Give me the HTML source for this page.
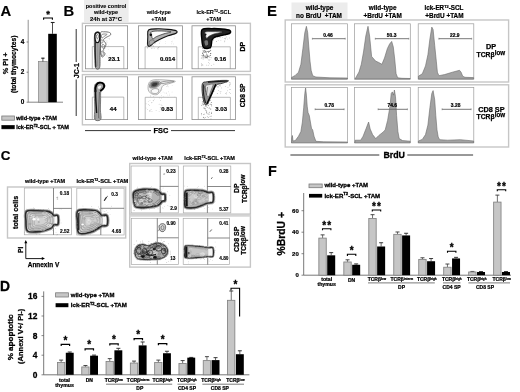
<!DOCTYPE html>
<html><head><meta charset="utf-8"><title>Figure</title>
<style>
html,body{margin:0;padding:0;background:#fff;width:520px;height:392px;overflow:hidden;}
svg{display:block;font-family:"Liberation Sans", Arial, sans-serif;}
text{stroke:#000;stroke-width:0.3px;}
</style></head>
<body>
<svg width="520" height="392" viewBox="0 0 520 392">
<rect x="0" y="0" width="520" height="392" fill="#fff"/>
<text x="0.6" y="15.6" font-size="14.8" text-anchor="start" font-weight="bold" fill="#000" style="stroke-width:0.15px">A</text>
<text x="63.6" y="15.6" font-size="14.8" text-anchor="start" font-weight="bold" fill="#000" style="stroke-width:0.15px">B</text>
<text x="266.9" y="15.8" font-size="15.0" text-anchor="start" font-weight="bold" fill="#000" style="stroke-width:0.1px">E</text>
<text x="0.7" y="160.4" font-size="13.4" text-anchor="start" font-weight="bold" fill="#000" style="stroke-width:0.2px">C</text>
<text x="0.1" y="290.8" font-size="13.8" text-anchor="start" font-weight="bold" fill="#000" style="stroke-width:0.3px">D</text>
<text x="268.1" y="175.8" font-size="14.5" text-anchor="start" font-weight="bold" fill="#000" style="stroke-width:0.1px">F</text>
<line x1="28.2" y1="19.8" x2="28.2" y2="102.3" stroke="#777" stroke-width="0.8"/>
<line x1="28.2" y1="102.2" x2="63" y2="102.2" stroke="#666" stroke-width="0.8"/>
<line x1="26.6" y1="102.2" x2="28.2" y2="102.2" stroke="#555" stroke-width="0.7"/>
<text x="24.4" y="104.4" font-size="6.4" text-anchor="end" font-weight="bold" fill="#000" style="stroke-width:0.2px">0</text>
<line x1="26.6" y1="72.2" x2="28.2" y2="72.2" stroke="#555" stroke-width="0.7"/>
<text x="24.4" y="74.4" font-size="6.4" text-anchor="end" font-weight="bold" fill="#000" style="stroke-width:0.2px">2</text>
<line x1="26.6" y1="42.0" x2="28.2" y2="42.0" stroke="#555" stroke-width="0.7"/>
<text x="24.4" y="44.2" font-size="6.4" text-anchor="end" font-weight="bold" fill="#000" style="stroke-width:0.2px">4</text>
<text x="8.2" y="63.3" font-size="7.3" text-anchor="middle" font-weight="bold" fill="#000" transform="rotate(-90 8.2 63.3)" style="stroke-width:0.25px">% PI +</text>
<text x="16.4" y="64.35" font-size="6.9" text-anchor="middle" font-weight="bold" fill="#000" transform="rotate(-90 16.4 64.35)" textLength="57.5" lengthAdjust="spacingAndGlyphs" style="stroke-width:0.25px">(total thymocytes)</text>
<rect x="38.6" y="61.6" width="8.6" height="40.6" fill="#c6c6c6" stroke="#828282" stroke-width="0.7"/>
<line x1="42.9" y1="61.6" x2="42.9" y2="58.2" stroke="#333" stroke-width="0.8"/>
<line x1="41.3" y1="58.2" x2="44.5" y2="58.2" stroke="#222" stroke-width="1.2"/>
<rect x="48.2" y="33.8" width="8.6" height="68.4" fill="#000" stroke="none" stroke-width="1"/>
<line x1="52.5" y1="33.8" x2="52.5" y2="22.5" stroke="#222" stroke-width="0.8"/>
<line x1="50.8" y1="22.5" x2="54.6" y2="22.5" stroke="#222" stroke-width="1.1"/>
<path d="M43.6,19.8 V18.0 H52.4 V19.8" fill="none" stroke="#000" stroke-width="1.1"/>
<text x="48.0" y="17.0" font-size="9.5" text-anchor="middle" font-weight="bold" fill="#000" style="stroke-width:0.3px">*</text>
<rect x="1.8" y="116.0" width="12.6" height="4.2" fill="#c6c6c6" stroke="#7a7a7a" stroke-width="0.8"/>
<text x="16.2" y="120.2" font-size="6.0" text-anchor="start" font-weight="bold" fill="#000" textLength="40.8" lengthAdjust="spacingAndGlyphs" style="stroke-width:0.3px">wild-type +TAM</text>
<rect x="1.8" y="125.3" width="12.6" height="3.6" fill="#000" stroke="#000" stroke-width="0.5"/>
<text x="16.2" y="129.4" font-size="6.0" text-anchor="start" font-weight="bold" fill="#000" textLength="52.8" lengthAdjust="spacingAndGlyphs" style="stroke-width:0.3px">lck-ER<tspan font-size="3.8" dy="-2.4">T2</tspan><tspan dy="2.4">-SCL + TAM</tspan></text>
<rect x="84.0" y="0" width="44.6" height="22.0" fill="#ececec" stroke="none" stroke-width="1"/>
<text x="106.0" y="8.2" font-size="5.6" text-anchor="middle" font-weight="bold" fill="#000" textLength="40.5" lengthAdjust="spacingAndGlyphs" style="stroke-width:0.1px">positive control</text>
<text x="106.0" y="14.4" font-size="5.6" text-anchor="middle" font-weight="bold" fill="#000" style="stroke-width:0.1px">wild-type</text>
<text x="106.0" y="21.2" font-size="5.6" text-anchor="middle" font-weight="bold" fill="#000" textLength="32" lengthAdjust="spacingAndGlyphs" style="stroke-width:0.1px">24h at 37°C</text>
<text x="158.8" y="14.0" font-size="5.6" text-anchor="middle" font-weight="bold" fill="#000" style="stroke-width:0.1px">wild-type</text>
<text x="158.8" y="20.7" font-size="5.6" text-anchor="middle" font-weight="bold" fill="#000" style="stroke-width:0.1px">+TAM</text>
<text x="213.8" y="14.0" font-size="5.6" text-anchor="middle" font-weight="bold" fill="#000" style="stroke-width:0.1px">lck-ER<tspan font-size="3.5" dy="-2">T2</tspan><tspan dy="2">-SCL</tspan></text>
<text x="213.8" y="20.7" font-size="5.6" text-anchor="middle" font-weight="bold" fill="#000" style="stroke-width:0.1px">+TAM</text>
<rect x="82.4" y="23.3" width="168.0" height="48.10000000000001" fill="none" stroke="#c6c6c6" stroke-width="1.4"/>
<rect x="82.4" y="74.6" width="168.0" height="50.2" fill="none" stroke="#c6c6c6" stroke-width="1.4"/>
<rect x="85.5" y="25.8" width="42.099999999999994" height="43.0" fill="none" stroke="#8c8c8c" stroke-width="0.8"/>
<rect x="85.5" y="76.8" width="42.099999999999994" height="42.8" fill="none" stroke="#8c8c8c" stroke-width="0.8"/>
<rect x="138.5" y="25.8" width="44.0" height="43.0" fill="none" stroke="#8c8c8c" stroke-width="0.8"/>
<rect x="138.5" y="76.8" width="44.0" height="42.8" fill="none" stroke="#8c8c8c" stroke-width="0.8"/>
<rect x="192.0" y="25.8" width="43.400000000000006" height="43.0" fill="none" stroke="#8c8c8c" stroke-width="0.8"/>
<rect x="192.0" y="76.8" width="43.400000000000006" height="42.8" fill="none" stroke="#8c8c8c" stroke-width="0.8"/>
<text x="245.4" y="46.6" font-size="7.0" text-anchor="middle" font-weight="bold" fill="#000" transform="rotate(-90 245.4 46.6)" style="stroke-width:0.25px">DP</text>
<text x="245.4" y="95.4" font-size="6.6" text-anchor="middle" font-weight="bold" fill="#000" transform="rotate(-90 245.4 95.4)" style="stroke-width:0.25px">CD8 SP</text>
<line x1="76.2" y1="29.0" x2="76.2" y2="62.0" stroke="#333" stroke-width="1.0"/>
<line x1="76.2" y1="79.5" x2="76.2" y2="116.0" stroke="#333" stroke-width="1.0"/>
<text x="78.6" y="70.6" font-size="7.0" text-anchor="middle" font-weight="bold" fill="#000" transform="rotate(-90 78.6 70.6)" style="stroke-width:0.25px">JC-1</text>
<line x1="85.0" y1="130.6" x2="151.0" y2="130.6" stroke="#333" stroke-width="1.0"/>
<text x="161.0" y="133.2" font-size="7.4" text-anchor="middle" font-weight="bold" fill="#000" style="stroke-width:0.25px">FSC</text>
<line x1="171.0" y1="130.6" x2="235.0" y2="130.6" stroke="#333" stroke-width="1.0"/>
<rect x="291.5" y="2.5" width="56" height="16.8" fill="#ececec" stroke="none" stroke-width="1"/>
<text x="319.5" y="10.4" font-size="6.4" text-anchor="middle" font-weight="bold" fill="#000" style="stroke-width:0.2px">wild-type</text>
<text x="319.0" y="17.8" font-size="6.4" text-anchor="middle" font-weight="bold" fill="#000" xml:space="preserve" style="stroke-width:0.2px">no BrdU  +TAM</text>
<text x="382.7" y="10.4" font-size="6.4" text-anchor="middle" font-weight="bold" fill="#000" style="stroke-width:0.2px">wild-type</text>
<text x="382.7" y="17.6" font-size="6.4" text-anchor="middle" font-weight="bold" fill="#000" style="stroke-width:0.2px">+BrdU +TAM</text>
<text x="444.0" y="10.4" font-size="6.4" text-anchor="middle" font-weight="bold" fill="#000" textLength="39" lengthAdjust="spacingAndGlyphs" style="stroke-width:0.2px">lck-ER<tspan font-size="4" dy="-2.3">T2</tspan><tspan dy="2.3">-SCL</tspan></text>
<text x="444.4" y="17.6" font-size="6.4" text-anchor="middle" font-weight="bold" fill="#000" style="stroke-width:0.2px">+BrdU +TAM</text>
<rect x="285.2" y="20.0" width="223.4" height="62.0" fill="none" stroke="#c6c6c6" stroke-width="1.4"/>
<rect x="285.2" y="84.8" width="223.4" height="62.2" fill="none" stroke="#c6c6c6" stroke-width="1.4"/>
<rect x="291.5" y="23.8" width="56.10000000000002" height="55.400000000000006" fill="none" stroke="#9a9a9a" stroke-width="0.7"/>
<rect x="291.5" y="87.4" width="56.10000000000002" height="55.400000000000006" fill="none" stroke="#9a9a9a" stroke-width="0.7"/>
<rect x="354.6" y="23.8" width="55.69999999999999" height="55.400000000000006" fill="none" stroke="#9a9a9a" stroke-width="0.7"/>
<rect x="354.6" y="87.4" width="55.69999999999999" height="55.400000000000006" fill="none" stroke="#9a9a9a" stroke-width="0.7"/>
<rect x="418.2" y="23.8" width="55.60000000000002" height="55.400000000000006" fill="none" stroke="#9a9a9a" stroke-width="0.7"/>
<rect x="418.2" y="87.4" width="55.60000000000002" height="55.400000000000006" fill="none" stroke="#9a9a9a" stroke-width="0.7"/>
<text x="491.0" y="49.4" font-size="7.3" text-anchor="middle" font-weight="bold" fill="#000" style="stroke-width:0.25px">DP</text>
<text x="490.8" y="56.8" font-size="7.0" text-anchor="middle" font-weight="bold" fill="#000" textLength="28.5" lengthAdjust="spacingAndGlyphs" style="stroke-width:0.25px">TCRβ<tspan font-size="6.4" dy="-1.9">low</tspan></text>
<text x="491.4" y="112.0" font-size="7.3" text-anchor="middle" font-weight="bold" fill="#000" style="stroke-width:0.25px">CD8 SP</text>
<text x="490.8" y="119.3" font-size="7.0" text-anchor="middle" font-weight="bold" fill="#000" textLength="28.5" lengthAdjust="spacingAndGlyphs" style="stroke-width:0.25px">TCRβ<tspan font-size="6.4" dy="-1.9">low</tspan></text>
<line x1="290.4" y1="155.0" x2="379.3" y2="155.0" stroke="#333" stroke-width="1.0"/>
<text x="394.2" y="158.2" font-size="8.8" text-anchor="middle" font-weight="bold" fill="#000" style="stroke-width:0.3px">BrdU</text>
<line x1="407.3" y1="155.0" x2="473.1" y2="155.0" stroke="#333" stroke-width="1.0"/>
<text x="45.0" y="183.3" font-size="5.9" text-anchor="middle" font-weight="bold" fill="#000" textLength="40" lengthAdjust="spacingAndGlyphs" style="stroke-width:0.2px">wild-type +TAM</text>
<text x="102.4" y="183.3" font-size="5.9" text-anchor="middle" font-weight="bold" fill="#000" textLength="52" lengthAdjust="spacingAndGlyphs" style="stroke-width:0.2px">lck-ER<tspan font-size="3.6" dy="-2">T2</tspan><tspan dy="2">-SCL +TAM</tspan></text>
<rect x="7.5" y="187.0" width="118.2" height="51.0" fill="none" stroke="#c6c6c6" stroke-width="1.4"/>
<rect x="24.3" y="188.0" width="47.3" height="46.80000000000001" fill="none" stroke="#a8a8a8" stroke-width="0.7"/>
<line x1="53.5" y1="188.0" x2="53.5" y2="234.8" stroke="#555" stroke-width="0.7"/>
<line x1="53.5" y1="208.4" x2="71.6" y2="208.4" stroke="#555" stroke-width="0.7"/>
<rect x="76.8" y="188.2" width="47.3" height="46.80000000000001" fill="none" stroke="#a8a8a8" stroke-width="0.7"/>
<line x1="100.8" y1="188.2" x2="100.8" y2="235.0" stroke="#555" stroke-width="0.7"/>
<line x1="100.8" y1="208.3" x2="124.1" y2="208.3" stroke="#555" stroke-width="0.7"/>
<text x="18.2" y="212.4" font-size="7.2" text-anchor="middle" font-weight="bold" fill="#000" transform="rotate(-90 18.2 212.4)" style="stroke-width:0.25px">total cells</text>
<line x1="25.8" y1="242.0" x2="25.8" y2="258.6" stroke="#000" stroke-width="0.9"/>
<line x1="25.8" y1="258.6" x2="43.0" y2="258.6" stroke="#000" stroke-width="0.9"/>
<path d="M25.8,240.0 L24.3,243.2 L27.3,243.2 Z" fill="#000" stroke="none" stroke-width="1"/>
<path d="M45.0,258.6 L41.8,257.1 L41.8,260.1 Z" fill="#000" stroke="none" stroke-width="1"/>
<text x="22.8" y="249.8" font-size="6.6" text-anchor="middle" font-weight="bold" fill="#000" transform="rotate(-90 22.8 249.8)" style="stroke-width:0.25px">PI</text>
<text x="43.5" y="266.8" font-size="7.0" text-anchor="middle" font-weight="bold" fill="#000" textLength="31.5" lengthAdjust="spacingAndGlyphs" style="stroke-width:0.25px">Annexin V</text>
<rect x="129.7" y="163.5" width="120.7" height="103.6" fill="none" stroke="#c6c6c6" stroke-width="1.4"/>
<line x1="129.7" y1="215.3" x2="250.4" y2="215.3" stroke="#d4d4d4" stroke-width="3.0"/>
<line x1="129.7" y1="213.8" x2="250.4" y2="213.8" stroke="#bbbbbb" stroke-width="0.6"/>
<text x="152.6" y="160.2" font-size="5.9" text-anchor="middle" font-weight="bold" fill="#000" textLength="40" lengthAdjust="spacingAndGlyphs" style="stroke-width:0.2px">wild-type +TAM</text>
<text x="209.6" y="160.2" font-size="5.9" text-anchor="middle" font-weight="bold" fill="#000" textLength="50.5" lengthAdjust="spacingAndGlyphs" style="stroke-width:0.2px">lck-ER<tspan font-size="3.6" dy="-2">T2</tspan><tspan dy="2">-SCL +TAM</tspan></text>
<rect x="131.1" y="166.0" width="47.20000000000002" height="46.900000000000006" fill="none" stroke="#a8a8a8" stroke-width="0.7"/>
<line x1="160.2" y1="166.0" x2="160.2" y2="212.9" stroke="#555" stroke-width="0.7"/>
<line x1="160.2" y1="186.4" x2="178.3" y2="186.4" stroke="#555" stroke-width="0.7"/>
<rect x="183.3" y="166.0" width="47.5" height="46.900000000000006" fill="none" stroke="#a8a8a8" stroke-width="0.7"/>
<line x1="207.4" y1="166.0" x2="207.4" y2="212.9" stroke="#555" stroke-width="0.7"/>
<line x1="207.4" y1="186.5" x2="230.8" y2="186.5" stroke="#555" stroke-width="0.7"/>
<rect x="131.3" y="218.3" width="47.099999999999994" height="46.19999999999999" fill="none" stroke="#a8a8a8" stroke-width="0.7"/>
<line x1="157.3" y1="218.3" x2="157.3" y2="264.5" stroke="#555" stroke-width="0.7"/>
<line x1="157.3" y1="237.8" x2="178.4" y2="237.8" stroke="#555" stroke-width="0.7"/>
<rect x="183.2" y="218.3" width="46.400000000000006" height="46.30000000000001" fill="none" stroke="#a8a8a8" stroke-width="0.7"/>
<line x1="207.7" y1="218.3" x2="207.7" y2="264.6" stroke="#555" stroke-width="0.7"/>
<line x1="207.7" y1="238.0" x2="229.6" y2="238.0" stroke="#555" stroke-width="0.7"/>
<text x="239.2" y="188.2" font-size="6.8" text-anchor="middle" font-weight="bold" fill="#000" transform="rotate(-90 239.2 188.2)" style="stroke-width:0.25px">DP</text>
<text x="246.9" y="188.8" font-size="6.6" text-anchor="middle" font-weight="bold" fill="#000" transform="rotate(-90 246.9 188.8)" textLength="28.6" lengthAdjust="spacingAndGlyphs" style="stroke-width:0.25px">TCRβ<tspan dy="-1.4">low</tspan></text>
<text x="238.8" y="239.3" font-size="7.0" text-anchor="middle" font-weight="bold" fill="#000" transform="rotate(-90 238.8 239.3)" style="stroke-width:0.25px">CD8 SP</text>
<text x="246.2" y="240.4" font-size="6.6" text-anchor="middle" font-weight="bold" fill="#000" transform="rotate(-90 246.2 240.4)" textLength="28.6" lengthAdjust="spacingAndGlyphs" style="stroke-width:0.25px">TCRβ<tspan dy="-1.4">low</tspan></text>
<text x="64.4" y="195.4" font-size="4.8" text-anchor="middle" font-weight="bold" fill="#000" style="stroke-width:0.12px">0.18</text>
<text x="64.7" y="233.2" font-size="4.8" text-anchor="middle" font-weight="bold" fill="#000" style="stroke-width:0.12px">2.52</text>
<text x="114.6" y="196.2" font-size="4.8" text-anchor="middle" font-weight="bold" fill="#000" style="stroke-width:0.12px">0.3</text>
<text x="116.5" y="233.4" font-size="4.8" text-anchor="middle" font-weight="bold" fill="#000" style="stroke-width:0.12px">4.68</text>
<text x="171.0" y="172.9" font-size="4.8" text-anchor="middle" font-weight="bold" fill="#000" style="stroke-width:0.12px">0.23</text>
<text x="173.6" y="210.4" font-size="4.8" text-anchor="middle" font-weight="bold" fill="#000" style="stroke-width:0.12px">2.9</text>
<text x="223.8" y="173.0" font-size="4.8" text-anchor="middle" font-weight="bold" fill="#000" style="stroke-width:0.12px">0.28</text>
<text x="223.8" y="210.6" font-size="4.8" text-anchor="middle" font-weight="bold" fill="#000" style="stroke-width:0.12px">5.37</text>
<text x="171.1" y="225.4" font-size="4.8" text-anchor="middle" font-weight="bold" fill="#000" style="stroke-width:0.12px">0.90</text>
<text x="172.8" y="260.2" font-size="4.8" text-anchor="middle" font-weight="bold" fill="#000" style="stroke-width:0.12px">13</text>
<text x="223.8" y="224.7" font-size="4.8" text-anchor="middle" font-weight="bold" fill="#000" style="stroke-width:0.12px">0.41</text>
<text x="223.8" y="260.4" font-size="4.8" text-anchor="middle" font-weight="bold" fill="#000" style="stroke-width:0.12px">4.80</text>
<line x1="43.7" y1="291.4" x2="43.7" y2="374.8" stroke="#555" stroke-width="0.8"/>
<line x1="43.7" y1="374.8" x2="249.4" y2="374.8" stroke="#555" stroke-width="0.8"/>
<line x1="41.5" y1="374.8" x2="43.7" y2="374.8" stroke="#555" stroke-width="0.7"/>
<line x1="41.5" y1="355.2" x2="43.7" y2="355.2" stroke="#555" stroke-width="0.7"/>
<line x1="41.5" y1="335.6" x2="43.7" y2="335.6" stroke="#555" stroke-width="0.7"/>
<line x1="41.5" y1="316.0" x2="43.7" y2="316.0" stroke="#555" stroke-width="0.7"/>
<line x1="41.5" y1="296.4" x2="43.7" y2="296.4" stroke="#555" stroke-width="0.7"/>
<line x1="61.150000000000006" y1="362.55" x2="61.150000000000006" y2="360.1" stroke="#333" stroke-width="0.7"/>
<line x1="59.150000000000006" y1="360.1" x2="63.150000000000006" y2="360.1" stroke="#333" stroke-width="0.9"/>
<rect x="57.45" y="362.55" width="7.300000000000001" height="12.25" fill="#c6c6c6" stroke="#828282" stroke-width="0.85"/>
<line x1="69.75000000000001" y1="352.75" x2="69.75000000000001" y2="352.015" stroke="#222" stroke-width="0.7"/>
<line x1="67.75000000000001" y1="352.015" x2="71.75000000000001" y2="352.015" stroke="#222" stroke-width="0.9"/>
<rect x="65.80000000000001" y="352.75" width="7.9" height="22.05000000000001" fill="#000" stroke="none" stroke-width="1"/>
<line x1="85.45" y1="366.96000000000004" x2="85.45" y2="365.49" stroke="#333" stroke-width="0.7"/>
<line x1="83.45" y1="365.49" x2="87.45" y2="365.49" stroke="#333" stroke-width="0.9"/>
<rect x="81.75" y="366.96000000000004" width="7.300000000000001" height="7.839999999999975" fill="#c6c6c6" stroke="#828282" stroke-width="0.85"/>
<line x1="94.05000000000001" y1="355.69" x2="94.05000000000001" y2="355.10200000000003" stroke="#222" stroke-width="0.7"/>
<line x1="92.05000000000001" y1="355.10200000000003" x2="96.05000000000001" y2="355.10200000000003" stroke="#222" stroke-width="0.9"/>
<rect x="90.10000000000001" y="355.69" width="7.9" height="19.110000000000014" fill="#000" stroke="none" stroke-width="1"/>
<line x1="109.75000000000001" y1="361.57" x2="109.75000000000001" y2="358.63" stroke="#333" stroke-width="0.7"/>
<line x1="107.75000000000001" y1="358.63" x2="111.75000000000001" y2="358.63" stroke="#333" stroke-width="0.9"/>
<rect x="106.05000000000001" y="361.57" width="7.300000000000001" height="13.230000000000018" fill="#c6c6c6" stroke="#828282" stroke-width="0.85"/>
<line x1="118.35000000000002" y1="350.3" x2="118.35000000000002" y2="348.34000000000003" stroke="#222" stroke-width="0.7"/>
<line x1="116.35000000000002" y1="348.34000000000003" x2="120.35000000000002" y2="348.34000000000003" stroke="#222" stroke-width="0.9"/>
<rect x="114.40000000000002" y="350.3" width="7.9" height="24.5" fill="#000" stroke="none" stroke-width="1"/>
<line x1="134.05" y1="363.04" x2="134.05" y2="361.08" stroke="#333" stroke-width="0.7"/>
<line x1="132.05" y1="361.08" x2="136.05" y2="361.08" stroke="#333" stroke-width="0.9"/>
<rect x="130.35000000000002" y="363.04" width="7.300000000000001" height="11.759999999999991" fill="#c6c6c6" stroke="#828282" stroke-width="0.85"/>
<line x1="142.65" y1="345.40000000000003" x2="142.65" y2="341.97" stroke="#222" stroke-width="0.7"/>
<line x1="140.65" y1="341.97" x2="144.65" y2="341.97" stroke="#222" stroke-width="0.9"/>
<rect x="138.70000000000002" y="345.40000000000003" width="7.9" height="29.399999999999977" fill="#000" stroke="none" stroke-width="1"/>
<line x1="158.35" y1="362.55" x2="158.35" y2="360.1" stroke="#333" stroke-width="0.7"/>
<line x1="156.35" y1="360.1" x2="160.35" y2="360.1" stroke="#333" stroke-width="0.9"/>
<rect x="154.65" y="362.55" width="7.300000000000001" height="12.25" fill="#c6c6c6" stroke="#828282" stroke-width="0.85"/>
<line x1="166.95" y1="353.24" x2="166.95" y2="351.28000000000003" stroke="#222" stroke-width="0.7"/>
<line x1="164.95" y1="351.28000000000003" x2="168.95" y2="351.28000000000003" stroke="#222" stroke-width="0.9"/>
<rect x="163.0" y="353.24" width="7.9" height="21.560000000000002" fill="#000" stroke="none" stroke-width="1"/>
<line x1="182.64999999999998" y1="363.53000000000003" x2="182.64999999999998" y2="360.59000000000003" stroke="#333" stroke-width="0.7"/>
<line x1="180.64999999999998" y1="360.59000000000003" x2="184.64999999999998" y2="360.59000000000003" stroke="#333" stroke-width="0.9"/>
<rect x="178.95" y="363.53000000000003" width="7.300000000000001" height="11.269999999999982" fill="#c6c6c6" stroke="#828282" stroke-width="0.85"/>
<line x1="191.24999999999997" y1="357.65000000000003" x2="191.24999999999997" y2="357.40500000000003" stroke="#222" stroke-width="0.7"/>
<line x1="189.24999999999997" y1="357.40500000000003" x2="193.24999999999997" y2="357.40500000000003" stroke="#222" stroke-width="0.9"/>
<rect x="187.29999999999998" y="357.65000000000003" width="7.9" height="17.149999999999977" fill="#000" stroke="none" stroke-width="1"/>
<line x1="206.95" y1="360.59000000000003" x2="206.95" y2="356.67" stroke="#333" stroke-width="0.7"/>
<line x1="204.95" y1="356.67" x2="208.95" y2="356.67" stroke="#333" stroke-width="0.9"/>
<rect x="203.25" y="360.59000000000003" width="7.300000000000001" height="14.20999999999998" fill="#c6c6c6" stroke="#828282" stroke-width="0.85"/>
<line x1="215.54999999999998" y1="360.1" x2="215.54999999999998" y2="357.65000000000003" stroke="#222" stroke-width="0.7"/>
<line x1="213.54999999999998" y1="357.65000000000003" x2="217.54999999999998" y2="357.65000000000003" stroke="#222" stroke-width="0.9"/>
<rect x="211.6" y="360.1" width="7.9" height="14.699999999999989" fill="#000" stroke="none" stroke-width="1"/>
<line x1="231.25" y1="300.32" x2="231.25" y2="291.01" stroke="#333" stroke-width="0.7"/>
<line x1="229.25" y1="291.01" x2="233.25" y2="291.01" stroke="#333" stroke-width="0.9"/>
<rect x="227.55" y="300.32" width="7.300000000000001" height="74.48000000000002" fill="#c6c6c6" stroke="#828282" stroke-width="0.85"/>
<line x1="239.85" y1="354.22" x2="239.85" y2="350.79" stroke="#222" stroke-width="0.7"/>
<line x1="237.85" y1="350.79" x2="241.85" y2="350.79" stroke="#222" stroke-width="0.9"/>
<rect x="235.9" y="354.22" width="7.9" height="20.579999999999984" fill="#000" stroke="none" stroke-width="1"/>
<text x="37.4" y="377.8" font-size="8.4" text-anchor="end" font-weight="bold" fill="#000" style="stroke-width:0.3px">0</text>
<text x="37.4" y="358.2" font-size="8.4" text-anchor="end" font-weight="bold" fill="#000" style="stroke-width:0.3px">4</text>
<text x="37.4" y="338.6" font-size="8.4" text-anchor="end" font-weight="bold" fill="#000" style="stroke-width:0.3px">8</text>
<text x="37.4" y="319.0" font-size="8.4" text-anchor="end" font-weight="bold" fill="#000" style="stroke-width:0.3px">12</text>
<text x="37.4" y="299.4" font-size="8.4" text-anchor="end" font-weight="bold" fill="#000" style="stroke-width:0.3px">16</text>
<text x="12.8" y="337.4" font-size="8.1" text-anchor="middle" font-weight="bold" fill="#000" transform="rotate(-90 12.8 337.4)" style="stroke-width:0.3px">% apoptotic</text>
<text x="23.2" y="336.3" font-size="7.5" text-anchor="middle" font-weight="bold" fill="#000" transform="rotate(-90 23.2 336.3)" style="stroke-width:0.25px">(Annexi V+/ PI-)</text>
<rect x="55.6" y="292.8" width="12.8" height="4.2" fill="#c6c6c6" stroke="#7a7a7a" stroke-width="0.8"/>
<text x="70.8" y="297.2" font-size="6.2" text-anchor="start" font-weight="bold" fill="#000" textLength="43.6" lengthAdjust="spacingAndGlyphs" style="stroke-width:0.3px">wild-type +TAM</text>
<rect x="55.6" y="303.2" width="12.8" height="4.0" fill="#000" stroke="none" stroke-width="1"/>
<text x="70.8" y="307.4" font-size="6.2" text-anchor="start" font-weight="bold" fill="#000" textLength="56" lengthAdjust="spacingAndGlyphs" style="stroke-width:0.3px">lck-ER<tspan font-size="4" dy="-2.6">T2</tspan><tspan dy="2.6">-SCL +TAM</tspan></text>
<path d="M61.2,346.0 V344.4 H69.60000000000001 V346.0" fill="none" stroke="#000" stroke-width="1.2"/>
<text x="65.4" y="343.95000000000005" font-size="10.0" text-anchor="middle" font-weight="bold" fill="#000" style="stroke-width:0.3px">*</text>
<path d="M85.1,350.40000000000003 V348.8 H93.5 V350.40000000000003" fill="none" stroke="#000" stroke-width="1.2"/>
<text x="89.3" y="348.35" font-size="10.0" text-anchor="middle" font-weight="bold" fill="#000" style="stroke-width:0.3px">*</text>
<path d="M109.8,345.40000000000003 V343.8 H118.2 V345.40000000000003" fill="none" stroke="#000" stroke-width="1.2"/>
<text x="114.0" y="343.35" font-size="10.0" text-anchor="middle" font-weight="bold" fill="#000" style="stroke-width:0.3px">*</text>
<path d="M134.10000000000002,340.20000000000005 V338.6 H142.5 V340.20000000000005" fill="none" stroke="#000" stroke-width="1.2"/>
<text x="138.3" y="338.15000000000003" font-size="10.0" text-anchor="middle" font-weight="bold" fill="#000" style="stroke-width:0.3px">*</text>
<path d="M158.4,345.3 V343.7 H166.79999999999998 V345.3" fill="none" stroke="#000" stroke-width="1.2"/>
<text x="162.6" y="343.25" font-size="10.0" text-anchor="middle" font-weight="bold" fill="#000" style="stroke-width:0.3px">*</text>
<path d="M231.0,290.6 V288.2 H239.6 V316.4" fill="none" stroke="#000" stroke-width="1.1"/>
<text x="235.4" y="287.6" font-size="10.0" text-anchor="middle" font-weight="bold" fill="#000" style="stroke-width:0.3px">*</text>
<text x="64.6" y="382.0" font-size="5.2" text-anchor="middle" font-weight="bold" fill="#000" style="stroke-width:0.22px">total</text>
<text x="64.6" y="387.3" font-size="5.2" text-anchor="middle" font-weight="bold" fill="#000" style="stroke-width:0.22px">thymus</text>
<text x="89.3" y="382.4" font-size="5.0" text-anchor="middle" font-weight="bold" fill="#000" style="stroke-width:0.22px">DN</text>
<text x="113.8" y="382.4" font-size="5.0" text-anchor="middle" font-weight="bold" fill="#000" style="stroke-width:0.22px">TCRβ<tspan font-size="3" dy="-1.6">low</tspan></text>
<text x="138.1" y="382.4" font-size="5.0" text-anchor="middle" font-weight="bold" fill="#000" style="stroke-width:0.22px">TCRβ<tspan font-size="3" dy="-1.6">interm</tspan></text>
<text x="162.4" y="382.4" font-size="5.0" text-anchor="middle" font-weight="bold" fill="#000" style="stroke-width:0.22px">TCRβ<tspan font-size="3" dy="-1.6">high</tspan></text>
<text x="186.8" y="382.4" font-size="5.0" text-anchor="middle" font-weight="bold" fill="#000" style="stroke-width:0.22px">TCRβ<tspan font-size="3" dy="-1.6">high</tspan></text>
<text x="211.1" y="382.4" font-size="5.0" text-anchor="middle" font-weight="bold" fill="#000" style="stroke-width:0.22px">TCRβ<tspan font-size="3" dy="-1.6">high</tspan></text>
<text x="235.4" y="382.4" font-size="5.0" text-anchor="middle" font-weight="bold" fill="#000" style="stroke-width:0.22px">TCRβ<tspan font-size="3" dy="-1.6">low</tspan></text>
<line x1="106.0" y1="384.2" x2="172.2" y2="384.2" stroke="#444" stroke-width="0.7"/>
<line x1="177.5" y1="384.2" x2="195.5" y2="384.2" stroke="#444" stroke-width="0.7"/>
<line x1="202.4" y1="384.2" x2="244.0" y2="384.2" stroke="#444" stroke-width="0.7"/>
<text x="139.8" y="389.6" font-size="5.0" text-anchor="middle" font-weight="bold" fill="#000" style="stroke-width:0.22px">DP</text>
<text x="187.0" y="389.6" font-size="5.0" text-anchor="middle" font-weight="bold" fill="#000" style="stroke-width:0.22px">CD4 SP</text>
<text x="219.8" y="389.6" font-size="5.0" text-anchor="middle" font-weight="bold" fill="#000" style="stroke-width:0.22px">CD8 SP</text>
<line x1="303.7" y1="193.0" x2="303.7" y2="275.2" stroke="#555" stroke-width="0.8"/>
<line x1="303.7" y1="275.2" x2="511.0" y2="275.2" stroke="#555" stroke-width="0.8"/>
<line x1="301.5" y1="275.2" x2="303.7" y2="275.2" stroke="#555" stroke-width="0.7"/>
<line x1="301.5" y1="253.7" x2="303.7" y2="253.7" stroke="#555" stroke-width="0.7"/>
<line x1="301.5" y1="232.2" x2="303.7" y2="232.2" stroke="#555" stroke-width="0.7"/>
<line x1="301.5" y1="210.7" x2="303.7" y2="210.7" stroke="#555" stroke-width="0.7"/>
<line x1="322.6" y1="238.11249999999998" x2="322.6" y2="234.8875" stroke="#333" stroke-width="0.7"/>
<line x1="320.6" y1="234.8875" x2="324.6" y2="234.8875" stroke="#333" stroke-width="0.9"/>
<rect x="318.85" y="238.11249999999998" width="7.4" height="37.087500000000006" fill="#c6c6c6" stroke="#828282" stroke-width="0.85"/>
<line x1="331.20000000000005" y1="255.3125" x2="331.20000000000005" y2="252.625" stroke="#222" stroke-width="0.7"/>
<line x1="329.20000000000005" y1="252.625" x2="333.20000000000005" y2="252.625" stroke="#222" stroke-width="0.9"/>
<rect x="327.20000000000005" y="255.3125" width="8.0" height="19.88749999999999" fill="#000" stroke="none" stroke-width="1"/>
<line x1="347.57000000000005" y1="261.97749999999996" x2="347.57000000000005" y2="259.8275" stroke="#333" stroke-width="0.7"/>
<line x1="345.57000000000005" y1="259.8275" x2="349.57000000000005" y2="259.8275" stroke="#333" stroke-width="0.9"/>
<rect x="343.82000000000005" y="261.97749999999996" width="7.4" height="13.222500000000025" fill="#c6c6c6" stroke="#828282" stroke-width="0.85"/>
<line x1="356.1700000000001" y1="264.7725" x2="356.1700000000001" y2="263.91249999999997" stroke="#222" stroke-width="0.7"/>
<line x1="354.1700000000001" y1="263.91249999999997" x2="358.1700000000001" y2="263.91249999999997" stroke="#222" stroke-width="0.9"/>
<rect x="352.1700000000001" y="264.7725" width="8.0" height="10.427500000000009" fill="#000" stroke="none" stroke-width="1"/>
<line x1="372.54" y1="218.44" x2="372.54" y2="214.6775" stroke="#333" stroke-width="0.7"/>
<line x1="370.54" y1="214.6775" x2="374.54" y2="214.6775" stroke="#333" stroke-width="0.9"/>
<rect x="368.79" y="218.44" width="7.4" height="56.75999999999999" fill="#c6c6c6" stroke="#828282" stroke-width="0.85"/>
<line x1="381.14000000000004" y1="246.4975" x2="381.14000000000004" y2="242.73499999999999" stroke="#222" stroke-width="0.7"/>
<line x1="379.14000000000004" y1="242.73499999999999" x2="383.14000000000004" y2="242.73499999999999" stroke="#222" stroke-width="0.9"/>
<rect x="377.14000000000004" y="246.4975" width="8.0" height="28.702499999999986" fill="#000" stroke="none" stroke-width="1"/>
<line x1="397.51" y1="234.35" x2="397.51" y2="231.98499999999999" stroke="#333" stroke-width="0.7"/>
<line x1="395.51" y1="231.98499999999999" x2="399.51" y2="231.98499999999999" stroke="#333" stroke-width="0.9"/>
<rect x="393.76" y="234.35" width="7.4" height="40.849999999999994" fill="#c6c6c6" stroke="#828282" stroke-width="0.85"/>
<line x1="406.11" y1="235.42499999999998" x2="406.11" y2="233.27499999999998" stroke="#222" stroke-width="0.7"/>
<line x1="404.11" y1="233.27499999999998" x2="408.11" y2="233.27499999999998" stroke="#222" stroke-width="0.9"/>
<rect x="402.11" y="235.42499999999998" width="8.0" height="39.775000000000006" fill="#000" stroke="none" stroke-width="1"/>
<line x1="422.48" y1="259.3975" x2="422.48" y2="257.78499999999997" stroke="#333" stroke-width="0.7"/>
<line x1="420.48" y1="257.78499999999997" x2="424.48" y2="257.78499999999997" stroke="#333" stroke-width="0.9"/>
<rect x="418.73" y="259.3975" width="7.4" height="15.802500000000009" fill="#c6c6c6" stroke="#828282" stroke-width="0.85"/>
<line x1="431.08000000000004" y1="261.22499999999997" x2="431.08000000000004" y2="258.53749999999997" stroke="#222" stroke-width="0.7"/>
<line x1="429.08000000000004" y1="258.53749999999997" x2="433.08000000000004" y2="258.53749999999997" stroke="#222" stroke-width="0.9"/>
<rect x="427.08000000000004" y="261.22499999999997" width="8.0" height="13.975000000000023" fill="#000" stroke="none" stroke-width="1"/>
<line x1="447.45000000000005" y1="267.245" x2="447.45000000000005" y2="264.02" stroke="#333" stroke-width="0.7"/>
<line x1="445.45000000000005" y1="264.02" x2="449.45000000000005" y2="264.02" stroke="#333" stroke-width="0.9"/>
<rect x="443.70000000000005" y="267.245" width="7.4" height="7.954999999999984" fill="#c6c6c6" stroke="#828282" stroke-width="0.85"/>
<line x1="456.05000000000007" y1="258.43" x2="456.05000000000007" y2="257.35499999999996" stroke="#222" stroke-width="0.7"/>
<line x1="454.05000000000007" y1="257.35499999999996" x2="458.05000000000007" y2="257.35499999999996" stroke="#222" stroke-width="0.9"/>
<rect x="452.05000000000007" y="258.43" width="8.0" height="16.769999999999982" fill="#000" stroke="none" stroke-width="1"/>
<line x1="472.42" y1="271.97499999999997" x2="472.42" y2="271.4375" stroke="#333" stroke-width="0.7"/>
<line x1="470.42" y1="271.4375" x2="474.42" y2="271.4375" stroke="#333" stroke-width="0.9"/>
<rect x="468.67" y="271.97499999999997" width="7.4" height="3.2250000000000227" fill="#c6c6c6" stroke="#828282" stroke-width="0.85"/>
<line x1="481.02000000000004" y1="271.97499999999997" x2="481.02000000000004" y2="271.545" stroke="#222" stroke-width="0.7"/>
<line x1="479.02000000000004" y1="271.545" x2="483.02000000000004" y2="271.545" stroke="#222" stroke-width="0.9"/>
<rect x="477.02000000000004" y="271.97499999999997" width="8.0" height="3.2250000000000227" fill="#000" stroke="none" stroke-width="1"/>
<line x1="497.39" y1="202.1" x2="497.39" y2="195.1125" stroke="#333" stroke-width="0.7"/>
<line x1="495.39" y1="195.1125" x2="499.39" y2="195.1125" stroke="#333" stroke-width="0.9"/>
<rect x="493.64" y="202.1" width="7.4" height="73.1" fill="#c6c6c6" stroke="#828282" stroke-width="0.85"/>
<line x1="505.99" y1="271.97499999999997" x2="505.99" y2="271.545" stroke="#222" stroke-width="0.7"/>
<line x1="503.99" y1="271.545" x2="507.99" y2="271.545" stroke="#222" stroke-width="0.9"/>
<rect x="501.99" y="271.97499999999997" width="8.0" height="3.2250000000000227" fill="#000" stroke="none" stroke-width="1"/>
<text x="298.8" y="277.4" font-size="6.0" text-anchor="end" font-weight="bold" fill="#000" style="stroke-width:0.2px">0</text>
<text x="298.8" y="255.89999999999998" font-size="6.0" text-anchor="end" font-weight="bold" fill="#000" style="stroke-width:0.2px">20</text>
<text x="298.8" y="234.39999999999998" font-size="6.0" text-anchor="end" font-weight="bold" fill="#000" style="stroke-width:0.2px">40</text>
<text x="298.8" y="212.89999999999998" font-size="6.0" text-anchor="end" font-weight="bold" fill="#000" style="stroke-width:0.2px">60</text>
<text x="285.0" y="233.8" font-size="10.4" text-anchor="middle" font-weight="bold" fill="#000" transform="rotate(-90 285.0 233.8)" style="stroke-width:0.3px">%BrdU +</text>
<rect x="309.0" y="184.0" width="13.2" height="3.7" fill="#c6c6c6" stroke="#7a7a7a" stroke-width="0.8"/>
<text x="324.4" y="187.2" font-size="5.9" text-anchor="start" font-weight="bold" fill="#000" textLength="43.6" lengthAdjust="spacingAndGlyphs" style="stroke-width:0.3px">wild-type +TAM</text>
<rect x="309.0" y="193.9" width="13.2" height="3.7" fill="#000" stroke="none" stroke-width="1"/>
<text x="324.4" y="197.5" font-size="5.9" text-anchor="start" font-weight="bold" fill="#000" textLength="55.8" lengthAdjust="spacingAndGlyphs" style="stroke-width:0.3px">lck-ER<tspan font-size="4" dy="-2.4">T2</tspan><tspan dy="2.4">-SCL +TAM</tspan></text>
<path d="M322.5,230.29999999999998 V228.7 H330.9 V230.29999999999998" fill="none" stroke="#000" stroke-width="1.1"/>
<text x="327.2" y="228.85" font-size="10.0" text-anchor="middle" font-weight="bold" fill="#000" letter-spacing="1" style="stroke-width:0.3px">**</text>
<path d="M347.40000000000003,255.9 V254.3 H355.8 V255.9" fill="none" stroke="#000" stroke-width="1.1"/>
<text x="351.6" y="254.45000000000002" font-size="10.0" text-anchor="middle" font-weight="bold" fill="#000" style="stroke-width:0.3px">*</text>
<path d="M372.3,211.6 V210.0 H380.7 V211.6" fill="none" stroke="#000" stroke-width="1.1"/>
<text x="377.0" y="210.15" font-size="10.0" text-anchor="middle" font-weight="bold" fill="#000" letter-spacing="1" style="stroke-width:0.3px">**</text>
<path d="M447.5,252.79999999999998 V251.2 H455.9 V252.79999999999998" fill="none" stroke="#000" stroke-width="1.1"/>
<text x="451.7" y="251.35" font-size="10.0" text-anchor="middle" font-weight="bold" fill="#000" style="stroke-width:0.3px">*</text>
<path d="M497.3,191.29999999999998 V189.7 H505.7 V191.29999999999998" fill="none" stroke="#000" stroke-width="1.1"/>
<text x="502.0" y="189.85" font-size="10.0" text-anchor="middle" font-weight="bold" fill="#000" letter-spacing="1" style="stroke-width:0.3px">**</text>
<text x="326.7" y="281.2" font-size="5.2" text-anchor="middle" font-weight="bold" fill="#000" style="stroke-width:0.22px">total</text>
<text x="326.7" y="286.3" font-size="5.2" text-anchor="middle" font-weight="bold" fill="#000" style="stroke-width:0.22px">thymus</text>
<text x="351.6" y="281.6" font-size="5.0" text-anchor="middle" font-weight="bold" fill="#000" style="stroke-width:0.22px">DN</text>
<text x="376.84000000000003" y="281.4" font-size="5.0" text-anchor="middle" font-weight="bold" fill="#000" style="stroke-width:0.22px">TCRβ<tspan font-size="3" dy="-1.6">low</tspan></text>
<text x="401.81" y="281.4" font-size="5.0" text-anchor="middle" font-weight="bold" fill="#000" style="stroke-width:0.22px">TCRβ<tspan font-size="3" dy="-1.6">interm</tspan></text>
<text x="426.78000000000003" y="281.4" font-size="5.0" text-anchor="middle" font-weight="bold" fill="#000" style="stroke-width:0.22px">TCRβ<tspan font-size="3" dy="-1.6">high</tspan></text>
<text x="451.75000000000006" y="281.4" font-size="5.0" text-anchor="middle" font-weight="bold" fill="#000" style="stroke-width:0.22px">TCRβ<tspan font-size="3" dy="-1.6">high</tspan></text>
<text x="476.72" y="281.4" font-size="5.0" text-anchor="middle" font-weight="bold" fill="#000" style="stroke-width:0.22px">TCRβ<tspan font-size="3" dy="-1.6">high</tspan></text>
<text x="501.69" y="281.4" font-size="5.0" text-anchor="middle" font-weight="bold" fill="#000" style="stroke-width:0.22px">TCRβ<tspan font-size="3" dy="-1.6">low</tspan></text>
<line x1="368.0" y1="282.9" x2="434.8" y2="282.9" stroke="#444" stroke-width="0.7"/>
<line x1="443.0" y1="282.9" x2="460.5" y2="282.9" stroke="#444" stroke-width="0.7"/>
<line x1="468.4" y1="282.9" x2="510.0" y2="282.9" stroke="#444" stroke-width="0.7"/>
<text x="401.5" y="288.6" font-size="5.0" text-anchor="middle" font-weight="bold" fill="#000" style="stroke-width:0.22px">DP</text>
<text x="451.6" y="288.6" font-size="5.0" text-anchor="middle" font-weight="bold" fill="#000" style="stroke-width:0.22px">CD4 SP</text>
<text x="485.0" y="288.6" font-size="5.0" text-anchor="middle" font-weight="bold" fill="#000" style="stroke-width:0.22px">CD8 SP</text>
<path d="M92.3,68.8 V46.6 H123.8 V68.8" fill="none" stroke="#8c8c8c" stroke-width="0.6"/>
<path d="M145.1,68.8 V46.8 H176.8 V68.8" fill="none" stroke="#8c8c8c" stroke-width="0.6"/>
<path d="M198.3,68.8 V46.8 H230.3 V68.8" fill="none" stroke="#8c8c8c" stroke-width="0.6"/>
<path d="M92.3,119.6 V97.1 H123.8 V119.6" fill="none" stroke="#8c8c8c" stroke-width="0.6"/>
<path d="M145.2,119.6 V97.3 H176.4 V119.6" fill="none" stroke="#8c8c8c" stroke-width="0.6"/>
<path d="M198.3,119.6 V97.3 H230.4 V119.6" fill="none" stroke="#8c8c8c" stroke-width="0.6"/>
<text x="114.2" y="61.0" font-size="6.0" text-anchor="middle" font-weight="bold" fill="#000" style="stroke-width:0.2px">23.1</text>
<text x="167.5" y="61.0" font-size="6.0" text-anchor="middle" font-weight="bold" fill="#000" style="stroke-width:0.2px">0.014</text>
<text x="220.3" y="61.0" font-size="6.0" text-anchor="middle" font-weight="bold" fill="#000" style="stroke-width:0.2px">0.16</text>
<text x="113.2" y="111.0" font-size="6.0" text-anchor="middle" font-weight="bold" fill="#000" style="stroke-width:0.2px">44</text>
<text x="167.2" y="111.0" font-size="6.0" text-anchor="middle" font-weight="bold" fill="#000" style="stroke-width:0.2px">0.83</text>
<text x="221.2" y="111.0" font-size="6.0" text-anchor="middle" font-weight="bold" fill="#000" style="stroke-width:0.2px">3.03</text>
<circle cx="103.56" cy="34.92" r="0.3" fill="#bbb"/>
<circle cx="107.16" cy="32.88" r="0.3" fill="#bbb"/>
<circle cx="105.89" cy="40.51" r="0.3" fill="#bbb"/>
<circle cx="100.64" cy="44.19" r="0.3" fill="#bbb"/>
<circle cx="100.41" cy="42.27" r="0.3" fill="#bbb"/>
<circle cx="100.77" cy="33.36" r="0.3" fill="#bbb"/>
<circle cx="104.67" cy="52.50" r="0.3" fill="#bbb"/>
<circle cx="101.36" cy="36.80" r="0.3" fill="#bbb"/>
<circle cx="106.90" cy="55.64" r="0.3" fill="#bbb"/>
<circle cx="106.35" cy="41.31" r="0.3" fill="#bbb"/>
<circle cx="110.74" cy="32.21" r="0.3" fill="#bbb"/>
<circle cx="109.44" cy="38.53" r="0.3" fill="#bbb"/>
<circle cx="101.59" cy="34.06" r="0.3" fill="#bbb"/>
<circle cx="103.39" cy="52.22" r="0.3" fill="#bbb"/>
<circle cx="101.99" cy="46.12" r="0.3" fill="#bbb"/>
<circle cx="107.03" cy="40.68" r="0.3" fill="#bbb"/>
<circle cx="106.03" cy="32.63" r="0.3" fill="#bbb"/>
<circle cx="100.66" cy="36.35" r="0.3" fill="#bbb"/>
<circle cx="107.48" cy="42.12" r="0.3" fill="#bbb"/>
<circle cx="103.46" cy="46.22" r="0.3" fill="#bbb"/>
<circle cx="104.99" cy="38.79" r="0.3" fill="#bbb"/>
<circle cx="108.74" cy="49.17" r="0.3" fill="#bbb"/>
<circle cx="102.69" cy="45.94" r="0.3" fill="#bbb"/>
<circle cx="105.78" cy="53.75" r="0.3" fill="#bbb"/>
<circle cx="108.02" cy="38.49" r="0.3" fill="#bbb"/>
<circle cx="110.78" cy="34.07" r="0.3" fill="#bbb"/>
<circle cx="104.60" cy="50.69" r="0.3" fill="#bbb"/>
<circle cx="101.67" cy="43.71" r="0.3" fill="#bbb"/>
<circle cx="100.43" cy="48.37" r="0.3" fill="#bbb"/>
<circle cx="108.41" cy="45.90" r="0.3" fill="#bbb"/>
<circle cx="109.63" cy="39.16" r="0.3" fill="#bbb"/>
<circle cx="107.65" cy="46.45" r="0.3" fill="#bbb"/>
<circle cx="106.38" cy="42.86" r="0.3" fill="#bbb"/>
<circle cx="109.24" cy="55.56" r="0.3" fill="#bbb"/>
<circle cx="105.22" cy="48.27" r="0.3" fill="#bbb"/>
<circle cx="100.67" cy="49.24" r="0.3" fill="#bbb"/>
<circle cx="107.12" cy="56.82" r="0.3" fill="#bbb"/>
<circle cx="109.04" cy="38.40" r="0.3" fill="#bbb"/>
<circle cx="104.24" cy="48.38" r="0.3" fill="#bbb"/>
<circle cx="100.25" cy="43.00" r="0.3" fill="#bbb"/>
<path d="M100.50,33.50 C101.08,30.47 102.50,31.97 104.00,31.80 C105.50,31.63 108.42,31.97 109.50,32.50 C110.58,33.03 111.08,34.17 110.50,35.00 C109.92,35.83 107.17,36.67 106.00,37.50 C104.83,38.33 103.50,38.92 103.50,40.00 C103.50,41.08 105.83,42.67 106.00,44.00 C106.17,45.33 105.00,46.83 104.50,48.00 C104.00,49.17 102.92,50.00 103.00,51.00 C103.08,52.00 105.17,53.00 105.00,54.00 C104.83,55.00 102.75,57.67 102.00,57.00 C101.25,56.33 100.75,53.92 100.50,50.00 C100.25,46.08 99.92,36.53 100.50,33.50 Z" fill="none" stroke="#555" stroke-width="0.8"/>
<path d="M101.50,35.00 C101.83,34.33 103.08,34.08 104.00,34.00 C104.92,33.92 107.00,34.08 107.00,34.50 C107.00,34.92 104.83,35.92 104.00,36.50 C103.17,37.08 102.42,38.25 102.00,38.00 C101.58,37.75 101.17,35.67 101.50,35.00 Z" fill="none" stroke="#666" stroke-width="0.75"/>
<path d="M102.50,44.50 C102.92,44.25 104.33,44.83 104.50,45.50 C104.67,46.17 103.92,48.25 103.50,48.50 C103.08,48.75 102.17,47.67 102.00,47.00 C101.83,46.33 102.08,44.75 102.50,44.50 Z" fill="none" stroke="#666" stroke-width="0.75"/>
<path d="M101.20,51.50 C101.57,51.17 102.93,51.83 103.20,52.50 C103.47,53.17 103.17,55.17 102.80,55.50 C102.43,55.83 101.27,55.17 101.00,54.50 C100.73,53.83 100.83,51.83 101.20,51.50 Z" fill="none" stroke="#777" stroke-width="0.75"/>
<path d="M101.00,40.00 C101.35,39.70 102.77,40.10 103.00,40.60 C103.23,41.10 102.75,42.70 102.40,43.00 C102.05,43.30 101.13,42.90 100.90,42.40 C100.67,41.90 100.65,40.30 101.00,40.00 Z" fill="none" stroke="#777" stroke-width="0.75"/>
<path d="M94.60,34.50 C94.95,32.17 95.67,32.35 96.50,32.00 C97.33,31.65 98.92,31.73 99.60,32.40 C100.28,33.07 100.47,34.07 100.60,36.00 C100.73,37.93 100.50,41.00 100.40,44.00 C100.30,47.00 100.13,50.07 100.00,54.00 C99.87,57.93 100.33,65.30 99.60,67.60 C98.87,69.90 96.40,69.40 95.60,67.80 C94.80,66.20 95.00,61.63 94.80,58.00 C94.60,54.37 94.43,49.92 94.40,46.00 C94.37,42.08 94.25,36.83 94.60,34.50 Z" fill="#a6a6a6" stroke="#444" stroke-width="0.8"/>
<path d="M95.00,35.00 C95.23,33.77 95.90,32.90 96.60,32.60 C97.30,32.30 98.67,32.47 99.20,33.20 C99.73,33.93 99.83,35.62 99.80,37.00 C99.77,38.38 99.55,40.58 99.00,41.50 C98.45,42.42 97.13,42.75 96.50,42.50 C95.87,42.25 95.45,41.25 95.20,40.00 C94.95,38.75 94.77,36.23 95.00,35.00 Z" fill="#e8e8e8" stroke="#111" stroke-width="1.3"/>
<path d="M96.60,35.00 C96.80,34.50 97.50,34.33 97.80,34.60 C98.10,34.87 98.47,35.93 98.40,36.60 C98.33,37.27 97.70,38.43 97.40,38.60 C97.10,38.77 96.73,38.20 96.60,37.60 C96.47,37.00 96.40,35.50 96.60,35.00 Z" fill="#fff" stroke="#444" stroke-width="0.6"/>
<path d="M95.4,41 C95.0,48 95.4,58 95.8,67" stroke="#222" stroke-width="1.1" fill="none"/>
<path d="M97.6,43 C97.8,50 97.6,58 97.4,66" stroke="#888" stroke-width="0.6" fill="none"/>
<circle cx="149.18" cy="42.82" r="0.35" fill="#888"/>
<circle cx="147.77" cy="47.38" r="0.35" fill="#888"/>
<circle cx="148.68" cy="43.73" r="0.35" fill="#888"/>
<circle cx="152.08" cy="48.10" r="0.35" fill="#888"/>
<circle cx="148.05" cy="45.14" r="0.35" fill="#888"/>
<circle cx="154.14" cy="48.18" r="0.35" fill="#888"/>
<circle cx="157.65" cy="48.05" r="0.35" fill="#888"/>
<circle cx="150.62" cy="44.91" r="0.35" fill="#888"/>
<circle cx="151.66" cy="48.19" r="0.35" fill="#888"/>
<circle cx="159.45" cy="43.06" r="0.35" fill="#888"/>
<circle cx="149.29" cy="43.62" r="0.35" fill="#888"/>
<circle cx="150.03" cy="45.39" r="0.35" fill="#888"/>
<circle cx="154.66" cy="43.84" r="0.35" fill="#888"/>
<circle cx="147.05" cy="44.93" r="0.35" fill="#888"/>
<circle cx="151.80" cy="45.96" r="0.35" fill="#888"/>
<circle cx="159.39" cy="46.83" r="0.35" fill="#888"/>
<circle cx="153.70" cy="46.32" r="0.35" fill="#888"/>
<circle cx="155.79" cy="42.38" r="0.35" fill="#888"/>
<circle cx="158.69" cy="47.46" r="0.35" fill="#888"/>
<circle cx="158.37" cy="47.59" r="0.35" fill="#888"/>
<circle cx="152.10" cy="44.79" r="0.35" fill="#888"/>
<circle cx="148.35" cy="46.44" r="0.35" fill="#888"/>
<circle cx="147.81" cy="42.47" r="0.35" fill="#888"/>
<circle cx="149.71" cy="43.14" r="0.35" fill="#888"/>
<circle cx="151.42" cy="42.37" r="0.35" fill="#888"/>
<circle cx="147.00" cy="43.06" r="0.35" fill="#888"/>
<circle cx="148.32" cy="44.55" r="0.35" fill="#888"/>
<circle cx="147.33" cy="48.12" r="0.35" fill="#888"/>
<circle cx="154.98" cy="43.04" r="0.35" fill="#888"/>
<circle cx="150.28" cy="44.43" r="0.35" fill="#888"/>
<circle cx="151.73" cy="42.86" r="0.35" fill="#888"/>
<circle cx="158.04" cy="48.95" r="0.35" fill="#888"/>
<circle cx="153.06" cy="45.39" r="0.35" fill="#888"/>
<circle cx="148.12" cy="42.72" r="0.35" fill="#888"/>
<circle cx="151.45" cy="43.85" r="0.35" fill="#888"/>
<circle cx="171.58" cy="35.61" r="0.3" fill="#bbb"/>
<circle cx="155.46" cy="43.51" r="0.3" fill="#bbb"/>
<circle cx="165.57" cy="35.47" r="0.3" fill="#bbb"/>
<circle cx="165.86" cy="34.27" r="0.3" fill="#bbb"/>
<circle cx="165.56" cy="43.79" r="0.3" fill="#bbb"/>
<circle cx="172.27" cy="40.96" r="0.3" fill="#bbb"/>
<circle cx="160.22" cy="37.67" r="0.3" fill="#bbb"/>
<circle cx="158.34" cy="41.72" r="0.3" fill="#bbb"/>
<circle cx="165.65" cy="41.79" r="0.3" fill="#bbb"/>
<circle cx="161.59" cy="36.23" r="0.3" fill="#bbb"/>
<circle cx="171.23" cy="43.85" r="0.3" fill="#bbb"/>
<circle cx="172.05" cy="42.06" r="0.3" fill="#bbb"/>
<circle cx="171.37" cy="41.40" r="0.3" fill="#bbb"/>
<circle cx="159.53" cy="39.18" r="0.3" fill="#bbb"/>
<circle cx="162.11" cy="34.29" r="0.3" fill="#bbb"/>
<circle cx="155.56" cy="36.79" r="0.3" fill="#bbb"/>
<circle cx="160.18" cy="40.93" r="0.3" fill="#bbb"/>
<circle cx="174.13" cy="38.47" r="0.3" fill="#bbb"/>
<circle cx="173.74" cy="43.88" r="0.3" fill="#bbb"/>
<circle cx="174.10" cy="37.65" r="0.3" fill="#bbb"/>
<path d="M148.60,30.00 C150.30,28.63 154.77,28.90 158.00,28.80 C161.23,28.70 164.97,29.07 168.00,29.40 C171.03,29.73 174.87,30.17 176.20,30.80 C177.53,31.43 177.37,32.37 176.00,33.20 C174.63,34.03 170.67,34.80 168.00,35.80 C165.33,36.80 162.33,38.07 160.00,39.20 C157.67,40.33 155.67,41.47 154.00,42.60 C152.33,43.73 151.03,45.60 150.00,46.00 C148.97,46.40 148.17,46.50 147.80,45.00 C147.43,43.50 147.67,39.50 147.80,37.00 C147.93,34.50 146.90,31.37 148.60,30.00 Z" fill="#b0b0b0" stroke="#111" stroke-width="1.1"/>
<path d="M151.50,31.80 C152.90,31.05 156.75,31.00 160.00,31.00 C163.25,31.00 170.33,31.33 171.00,31.80 C171.67,32.27 166.42,33.00 164.00,33.80 C161.58,34.60 158.37,35.77 156.50,36.60 C154.63,37.43 153.62,38.98 152.80,38.80 C151.98,38.62 151.82,36.67 151.60,35.50 C151.38,34.33 150.10,32.55 151.50,31.80 Z" fill="#fdfdfd" stroke="#222" stroke-width="0.7"/>
<path d="M149.50,41.00 C150.02,40.20 151.67,39.72 152.50,39.80 C153.33,39.88 154.67,40.72 154.50,41.50 C154.33,42.28 152.35,43.98 151.50,44.50 C150.65,45.02 149.73,45.18 149.40,44.60 C149.07,44.02 148.98,41.80 149.50,41.00 Z" fill="#aaa" stroke="#444" stroke-width="0.5"/>
<ellipse cx="150.8" cy="34.8" rx="1.3" ry="1.4" fill="#111"/>
<circle cx="203.98" cy="47.95" r="0.45" fill="#444"/>
<circle cx="203.77" cy="47.66" r="0.45" fill="#444"/>
<circle cx="207.62" cy="56.70" r="0.45" fill="#444"/>
<circle cx="209.56" cy="51.23" r="0.45" fill="#444"/>
<circle cx="207.88" cy="55.40" r="0.45" fill="#444"/>
<circle cx="202.76" cy="53.59" r="0.45" fill="#444"/>
<circle cx="210.19" cy="55.17" r="0.45" fill="#444"/>
<circle cx="208.75" cy="51.21" r="0.45" fill="#444"/>
<circle cx="203.61" cy="55.26" r="0.45" fill="#444"/>
<circle cx="204.99" cy="55.41" r="0.45" fill="#444"/>
<circle cx="210.74" cy="50.15" r="0.45" fill="#444"/>
<circle cx="205.61" cy="57.31" r="0.45" fill="#444"/>
<circle cx="208.52" cy="47.21" r="0.45" fill="#444"/>
<circle cx="203.14" cy="46.96" r="0.45" fill="#444"/>
<circle cx="210.14" cy="55.48" r="0.45" fill="#444"/>
<circle cx="203.32" cy="55.74" r="0.45" fill="#444"/>
<circle cx="210.82" cy="53.54" r="0.45" fill="#444"/>
<circle cx="205.15" cy="52.13" r="0.45" fill="#444"/>
<circle cx="203.18" cy="45.19" r="0.45" fill="#444"/>
<circle cx="210.74" cy="53.45" r="0.45" fill="#444"/>
<circle cx="206.74" cy="57.14" r="0.45" fill="#444"/>
<circle cx="205.90" cy="56.33" r="0.45" fill="#444"/>
<circle cx="209.44" cy="47.74" r="0.45" fill="#444"/>
<circle cx="204.27" cy="48.81" r="0.45" fill="#444"/>
<circle cx="204.16" cy="52.62" r="0.45" fill="#444"/>
<circle cx="204.33" cy="50.45" r="0.45" fill="#444"/>
<circle cx="203.18" cy="56.83" r="0.45" fill="#444"/>
<circle cx="205.18" cy="50.96" r="0.45" fill="#444"/>
<circle cx="207.25" cy="56.76" r="0.45" fill="#444"/>
<circle cx="205.79" cy="56.93" r="0.45" fill="#444"/>
<circle cx="206.51" cy="51.91" r="0.45" fill="#444"/>
<circle cx="206.71" cy="45.24" r="0.45" fill="#444"/>
<circle cx="205.96" cy="47.38" r="0.45" fill="#444"/>
<circle cx="202.04" cy="55.39" r="0.45" fill="#444"/>
<circle cx="203.55" cy="51.16" r="0.45" fill="#444"/>
<circle cx="208.53" cy="52.23" r="0.45" fill="#444"/>
<circle cx="204.93" cy="51.74" r="0.45" fill="#444"/>
<circle cx="207.00" cy="55.20" r="0.45" fill="#444"/>
<circle cx="202.95" cy="52.28" r="0.45" fill="#444"/>
<circle cx="204.24" cy="48.60" r="0.45" fill="#444"/>
<circle cx="208.95" cy="51.60" r="0.45" fill="#444"/>
<circle cx="207.06" cy="54.88" r="0.45" fill="#444"/>
<circle cx="210.21" cy="50.76" r="0.45" fill="#444"/>
<circle cx="207.51" cy="51.57" r="0.45" fill="#444"/>
<circle cx="206.61" cy="54.01" r="0.45" fill="#444"/>
<circle cx="206.07" cy="51.93" r="0.45" fill="#444"/>
<circle cx="206.30" cy="57.24" r="0.45" fill="#444"/>
<circle cx="208.29" cy="56.39" r="0.45" fill="#444"/>
<circle cx="210.48" cy="48.37" r="0.45" fill="#444"/>
<circle cx="207.04" cy="57.26" r="0.45" fill="#444"/>
<circle cx="209.56" cy="46.78" r="0.45" fill="#444"/>
<circle cx="203.09" cy="50.75" r="0.45" fill="#444"/>
<circle cx="202.65" cy="48.13" r="0.45" fill="#444"/>
<circle cx="202.66" cy="53.70" r="0.45" fill="#444"/>
<circle cx="209.06" cy="56.66" r="0.45" fill="#444"/>
<circle cx="203.39" cy="54.31" r="0.45" fill="#444"/>
<circle cx="207.94" cy="46.86" r="0.45" fill="#444"/>
<circle cx="209.95" cy="57.58" r="0.45" fill="#444"/>
<circle cx="203.98" cy="57.38" r="0.45" fill="#444"/>
<circle cx="205.58" cy="51.33" r="0.45" fill="#444"/>
<circle cx="213.87" cy="64.16" r="0.35" fill="#888"/>
<circle cx="203.10" cy="59.75" r="0.35" fill="#888"/>
<circle cx="207.70" cy="58.73" r="0.35" fill="#888"/>
<circle cx="203.54" cy="58.50" r="0.35" fill="#888"/>
<circle cx="210.39" cy="55.21" r="0.35" fill="#888"/>
<circle cx="208.20" cy="59.85" r="0.35" fill="#888"/>
<circle cx="201.24" cy="58.65" r="0.35" fill="#888"/>
<circle cx="209.11" cy="60.63" r="0.35" fill="#888"/>
<circle cx="201.84" cy="65.84" r="0.35" fill="#888"/>
<circle cx="211.25" cy="65.69" r="0.35" fill="#888"/>
<circle cx="202.36" cy="57.92" r="0.35" fill="#888"/>
<circle cx="201.51" cy="63.57" r="0.35" fill="#888"/>
<circle cx="204.52" cy="56.43" r="0.35" fill="#888"/>
<circle cx="206.49" cy="65.03" r="0.35" fill="#888"/>
<circle cx="211.65" cy="57.84" r="0.35" fill="#888"/>
<circle cx="202.94" cy="65.11" r="0.35" fill="#888"/>
<circle cx="208.42" cy="62.70" r="0.35" fill="#888"/>
<circle cx="202.16" cy="55.63" r="0.35" fill="#888"/>
<circle cx="209.95" cy="59.68" r="0.35" fill="#888"/>
<circle cx="201.94" cy="65.32" r="0.35" fill="#888"/>
<circle cx="209.25" cy="63.82" r="0.35" fill="#888"/>
<circle cx="202.09" cy="64.42" r="0.35" fill="#888"/>
<circle cx="201.87" cy="64.49" r="0.35" fill="#888"/>
<circle cx="206.90" cy="58.73" r="0.35" fill="#888"/>
<circle cx="208.19" cy="65.19" r="0.35" fill="#888"/>
<circle cx="204.48" cy="56.42" r="0.35" fill="#888"/>
<circle cx="207.85" cy="57.62" r="0.35" fill="#888"/>
<circle cx="202.42" cy="56.78" r="0.35" fill="#888"/>
<circle cx="201.65" cy="57.22" r="0.35" fill="#888"/>
<circle cx="205.06" cy="58.36" r="0.35" fill="#888"/>
<circle cx="225.67" cy="35.61" r="0.3" fill="#777"/>
<circle cx="221.00" cy="34.60" r="0.3" fill="#777"/>
<circle cx="218.25" cy="33.16" r="0.3" fill="#777"/>
<circle cx="216.51" cy="33.14" r="0.3" fill="#777"/>
<circle cx="225.20" cy="37.96" r="0.3" fill="#777"/>
<circle cx="215.41" cy="37.27" r="0.3" fill="#777"/>
<circle cx="228.82" cy="33.96" r="0.3" fill="#777"/>
<circle cx="226.74" cy="36.89" r="0.3" fill="#777"/>
<circle cx="220.91" cy="40.51" r="0.3" fill="#777"/>
<circle cx="219.08" cy="37.56" r="0.3" fill="#777"/>
<circle cx="224.38" cy="41.84" r="0.3" fill="#777"/>
<circle cx="218.17" cy="40.49" r="0.3" fill="#777"/>
<circle cx="224.72" cy="38.72" r="0.3" fill="#777"/>
<circle cx="219.28" cy="36.13" r="0.3" fill="#777"/>
<circle cx="212.98" cy="34.17" r="0.3" fill="#777"/>
<circle cx="213.27" cy="39.67" r="0.3" fill="#777"/>
<circle cx="216.60" cy="34.47" r="0.3" fill="#777"/>
<circle cx="213.52" cy="40.57" r="0.3" fill="#777"/>
<circle cx="227.67" cy="39.03" r="0.3" fill="#777"/>
<circle cx="217.07" cy="35.18" r="0.3" fill="#777"/>
<circle cx="217.28" cy="37.14" r="0.3" fill="#777"/>
<circle cx="214.84" cy="37.01" r="0.3" fill="#777"/>
<circle cx="216.74" cy="41.66" r="0.3" fill="#777"/>
<circle cx="229.51" cy="37.92" r="0.3" fill="#777"/>
<circle cx="216.40" cy="41.69" r="0.3" fill="#777"/>
<circle cx="217.57" cy="36.21" r="0.3" fill="#777"/>
<circle cx="212.02" cy="36.43" r="0.3" fill="#777"/>
<circle cx="220.54" cy="37.52" r="0.3" fill="#777"/>
<circle cx="215.62" cy="37.54" r="0.3" fill="#777"/>
<circle cx="212.09" cy="35.38" r="0.3" fill="#777"/>
<circle cx="213.62" cy="36.60" r="0.3" fill="#777"/>
<circle cx="212.75" cy="33.20" r="0.3" fill="#777"/>
<circle cx="217.48" cy="35.10" r="0.3" fill="#777"/>
<circle cx="222.54" cy="37.76" r="0.3" fill="#777"/>
<circle cx="225.51" cy="38.92" r="0.3" fill="#777"/>
<circle cx="224.89" cy="40.91" r="0.3" fill="#777"/>
<circle cx="219.01" cy="35.94" r="0.3" fill="#777"/>
<circle cx="229.73" cy="34.35" r="0.3" fill="#777"/>
<circle cx="225.03" cy="38.79" r="0.3" fill="#777"/>
<circle cx="212.79" cy="40.52" r="0.3" fill="#777"/>
<path d="M202.20,29.60 C203.90,27.87 208.70,28.70 212.00,28.60 C215.30,28.50 219.03,28.70 222.00,29.00 C224.97,29.30 228.53,29.67 229.80,30.40 C231.07,31.13 230.90,32.57 229.60,33.40 C228.30,34.23 224.43,34.80 222.00,35.40 C219.57,36.00 216.67,36.23 215.00,37.00 C213.33,37.77 212.75,38.25 212.00,40.00 C211.25,41.75 211.90,46.25 210.50,47.50 C209.10,48.75 205.05,48.92 203.60,47.50 C202.15,46.08 202.03,41.98 201.80,39.00 C201.57,36.02 200.50,31.33 202.20,29.60 Z" fill="#222" stroke="#000" stroke-width="1.4"/>
<path d="M205.40,32.00 C206.67,31.43 210.23,31.60 213.00,31.60 C215.77,31.60 221.83,31.60 222.00,32.00 C222.17,32.40 216.20,33.27 214.00,34.00 C211.80,34.73 210.03,35.70 208.80,36.40 C207.57,37.10 207.17,38.43 206.60,38.20 C206.03,37.97 205.60,36.03 205.40,35.00 C205.20,33.97 204.13,32.57 205.40,32.00 Z" fill="#f4f4f4" stroke="#333" stroke-width="0.6"/>
<ellipse cx="205.6" cy="34.6" rx="0.9" ry="1.1" fill="#111"/>
<path d="M204.50,41.00 C204.83,40.17 206.92,39.92 207.50,40.50 C208.08,41.08 208.33,43.67 208.00,44.50 C207.67,45.33 206.08,46.08 205.50,45.50 C204.92,44.92 204.17,41.83 204.50,41.00 Z" fill="#777" stroke="none" stroke-width="1"/>
<path d="M94.40,88.00 C94.57,86.00 94.63,84.97 95.40,84.00 C96.17,83.03 97.70,82.40 99.00,82.20 C100.30,82.00 102.23,82.17 103.20,82.80 C104.17,83.43 104.90,84.88 104.80,86.00 C104.70,87.12 103.27,88.58 102.60,89.50 C101.93,90.42 101.13,89.75 100.80,91.50 C100.47,93.25 100.67,96.92 100.60,100.00 C100.53,103.08 100.37,106.77 100.40,110.00 C100.43,113.23 101.73,117.83 100.80,119.40 C99.87,120.97 95.80,121.30 94.80,119.40 C93.80,117.50 94.87,111.90 94.80,108.00 C94.73,104.10 94.47,99.33 94.40,96.00 C94.33,92.67 94.23,90.00 94.40,88.00 Z" fill="#a4a4a4" stroke="#555" stroke-width="0.7"/>
<path d="M95.4,92 C94.8,87 96.5,82.6 100,82.6 C103.5,82.6 105,85 103.8,87.6 C102.8,89.6 101.2,90.4 100.2,91" stroke="#000" stroke-width="1.9" fill="none"/>
<path d="M97.40,87.20 C97.47,86.53 98.50,85.67 99.20,85.40 C99.90,85.13 101.30,85.17 101.60,85.60 C101.90,86.03 101.47,87.37 101.00,88.00 C100.53,88.63 99.40,89.53 98.80,89.40 C98.20,89.27 97.33,87.87 97.40,87.20 Z" fill="#f4f4f4" stroke="#777" stroke-width="0.5"/>
<path d="M95.6,90 C95.4,97 96.2,105 96.6,113" stroke="#111" stroke-width="1.4" fill="none"/>
<path d="M99.4,92 C99.2,100 98.6,108 98.6,118" stroke="#555" stroke-width="0.8" fill="none"/>
<path d="M96.2,113 L95.6,119 M98.2,112 L99.2,119" stroke="#777" stroke-width="0.6" fill="none"/>
<circle cx="172.08" cy="92.04" r="0.3" fill="#aaa"/>
<circle cx="167.81" cy="95.00" r="0.3" fill="#aaa"/>
<circle cx="151.76" cy="90.38" r="0.3" fill="#aaa"/>
<circle cx="161.62" cy="95.36" r="0.3" fill="#aaa"/>
<circle cx="169.73" cy="95.22" r="0.3" fill="#aaa"/>
<circle cx="163.77" cy="96.29" r="0.3" fill="#aaa"/>
<circle cx="166.44" cy="93.09" r="0.3" fill="#aaa"/>
<circle cx="154.21" cy="82.50" r="0.3" fill="#aaa"/>
<circle cx="151.59" cy="87.77" r="0.3" fill="#aaa"/>
<circle cx="150.83" cy="95.37" r="0.3" fill="#aaa"/>
<circle cx="163.08" cy="92.04" r="0.3" fill="#aaa"/>
<circle cx="164.91" cy="92.89" r="0.3" fill="#aaa"/>
<circle cx="161.21" cy="82.05" r="0.3" fill="#aaa"/>
<circle cx="169.54" cy="93.97" r="0.3" fill="#aaa"/>
<circle cx="161.58" cy="90.56" r="0.3" fill="#aaa"/>
<circle cx="165.80" cy="83.06" r="0.3" fill="#aaa"/>
<circle cx="167.89" cy="86.04" r="0.3" fill="#aaa"/>
<circle cx="150.01" cy="86.25" r="0.3" fill="#aaa"/>
<circle cx="167.69" cy="85.28" r="0.3" fill="#aaa"/>
<circle cx="167.98" cy="97.61" r="0.3" fill="#aaa"/>
<circle cx="161.34" cy="88.12" r="0.3" fill="#aaa"/>
<circle cx="160.93" cy="92.94" r="0.3" fill="#aaa"/>
<circle cx="168.71" cy="91.87" r="0.3" fill="#aaa"/>
<circle cx="165.35" cy="83.24" r="0.3" fill="#aaa"/>
<circle cx="151.98" cy="86.06" r="0.3" fill="#aaa"/>
<circle cx="168.07" cy="86.87" r="0.3" fill="#aaa"/>
<circle cx="163.33" cy="82.20" r="0.3" fill="#aaa"/>
<circle cx="149.64" cy="86.30" r="0.3" fill="#aaa"/>
<circle cx="166.14" cy="93.07" r="0.3" fill="#aaa"/>
<circle cx="166.24" cy="86.65" r="0.3" fill="#aaa"/>
<circle cx="161.95" cy="89.43" r="0.3" fill="#aaa"/>
<circle cx="160.59" cy="83.90" r="0.3" fill="#aaa"/>
<circle cx="172.13" cy="85.19" r="0.3" fill="#aaa"/>
<circle cx="174.41" cy="96.98" r="0.3" fill="#aaa"/>
<circle cx="148.47" cy="89.34" r="0.3" fill="#aaa"/>
<circle cx="159.12" cy="111.49" r="0.35" fill="#999"/>
<circle cx="153.19" cy="100.30" r="0.35" fill="#999"/>
<circle cx="149.36" cy="111.13" r="0.35" fill="#999"/>
<circle cx="149.37" cy="105.30" r="0.35" fill="#999"/>
<circle cx="148.27" cy="104.39" r="0.35" fill="#999"/>
<circle cx="161.24" cy="98.12" r="0.35" fill="#999"/>
<circle cx="159.12" cy="104.14" r="0.35" fill="#999"/>
<circle cx="160.19" cy="107.25" r="0.35" fill="#999"/>
<circle cx="149.70" cy="110.36" r="0.35" fill="#999"/>
<circle cx="153.78" cy="96.40" r="0.35" fill="#999"/>
<circle cx="146.06" cy="103.87" r="0.35" fill="#999"/>
<circle cx="153.21" cy="100.83" r="0.35" fill="#999"/>
<circle cx="148.25" cy="101.50" r="0.35" fill="#999"/>
<circle cx="151.06" cy="109.44" r="0.35" fill="#999"/>
<circle cx="146.03" cy="108.01" r="0.35" fill="#999"/>
<circle cx="159.43" cy="97.92" r="0.35" fill="#999"/>
<circle cx="160.82" cy="107.41" r="0.35" fill="#999"/>
<circle cx="160.43" cy="100.64" r="0.35" fill="#999"/>
<circle cx="151.96" cy="102.29" r="0.35" fill="#999"/>
<circle cx="161.98" cy="105.43" r="0.35" fill="#999"/>
<circle cx="151.77" cy="102.85" r="0.35" fill="#999"/>
<circle cx="150.40" cy="96.77" r="0.35" fill="#999"/>
<circle cx="147.63" cy="109.35" r="0.35" fill="#999"/>
<circle cx="150.57" cy="110.97" r="0.35" fill="#999"/>
<circle cx="149.99" cy="100.25" r="0.35" fill="#999"/>
<circle cx="154.18" cy="99.04" r="0.35" fill="#999"/>
<circle cx="151.97" cy="111.30" r="0.35" fill="#999"/>
<circle cx="160.15" cy="108.99" r="0.35" fill="#999"/>
<circle cx="156.09" cy="110.61" r="0.35" fill="#999"/>
<circle cx="161.05" cy="104.79" r="0.35" fill="#999"/>
<path d="M148.00,88.00 C148.00,86.55 148.17,84.13 149.00,82.80 C149.83,81.47 150.83,80.50 153.00,80.00 C155.17,79.50 159.17,79.73 162.00,79.80 C164.83,79.87 167.77,80.13 170.00,80.40 C172.23,80.67 175.40,80.90 175.40,81.40 C175.40,81.90 172.07,82.70 170.00,83.40 C167.93,84.10 164.58,84.33 163.00,85.60 C161.42,86.87 161.50,89.50 160.50,91.00 C159.50,92.50 158.42,94.10 157.00,94.60 C155.58,95.10 153.33,94.52 152.00,94.00 C150.67,93.48 149.67,92.50 149.00,91.50 C148.33,90.50 148.00,89.45 148.00,88.00 Z" fill="#f0f0f0" stroke="#888" stroke-width="0.6"/>
<path d="M161.00,82.20 C162.00,81.77 165.83,81.13 168.00,81.00 C170.17,80.87 174.00,81.13 174.00,81.40 C174.00,81.67 170.00,82.23 168.00,82.60 C166.00,82.97 163.17,83.67 162.00,83.60 C160.83,83.53 160.00,82.63 161.00,82.20 Z" fill="none" stroke="#666" stroke-width="0.6"/>
<path d="M151.50,90.00 C152.10,89.40 153.82,88.67 155.00,88.60 C156.18,88.53 158.17,88.87 158.60,89.60 C159.03,90.33 158.45,92.37 157.60,93.00 C156.75,93.63 154.53,93.53 153.50,93.40 C152.47,93.27 151.73,92.77 151.40,92.20 C151.07,91.63 150.90,90.60 151.50,90.00 Z" fill="#fafafa" stroke="#777" stroke-width="0.6"/>
<path d="M149.40,86.00 C149.50,85.13 149.75,83.40 150.60,82.60 C151.45,81.80 153.02,81.38 154.50,81.20 C155.98,81.02 158.45,81.10 159.50,81.50 C160.55,81.90 161.12,82.72 160.80,83.60 C160.48,84.48 158.90,86.07 157.60,86.80 C156.30,87.53 154.27,87.83 153.00,88.00 C151.73,88.17 150.60,88.13 150.00,87.80 C149.40,87.47 149.30,86.87 149.40,86.00 Z" fill="#b0b0b0" stroke="#777" stroke-width="0.6"/>
<path d="M150.83,85.55 C150.90,84.93 151.08,83.68 151.69,83.10 C152.30,82.53 153.43,82.23 154.50,82.10 C155.57,81.96 157.34,82.02 158.10,82.31 C158.86,82.60 159.26,83.19 159.04,83.82 C158.81,84.46 157.67,85.60 156.73,86.13 C155.80,86.66 154.33,86.87 153.42,86.99 C152.51,87.11 151.69,87.09 151.26,86.85 C150.83,86.61 150.76,86.18 150.83,85.55 Z" fill="#7a7a7a" stroke="#555" stroke-width="0.5"/>
<path d="M152.21,85.12 C152.25,84.73 152.36,83.95 152.75,83.59 C153.13,83.23 153.83,83.04 154.50,82.96 C155.17,82.88 156.28,82.91 156.75,83.09 C157.22,83.28 157.48,83.64 157.34,84.04 C157.19,84.44 156.48,85.15 155.90,85.48 C155.31,85.81 154.39,85.95 153.82,86.02 C153.25,86.10 152.75,86.08 152.47,85.93 C152.20,85.78 152.16,85.51 152.21,85.12 Z" fill="#3a3a3a" stroke="#333" stroke-width="0.5"/>
<circle cx="208.92" cy="100.94" r="0.4" fill="#666"/>
<circle cx="209.06" cy="108.57" r="0.4" fill="#666"/>
<circle cx="209.28" cy="112.25" r="0.4" fill="#666"/>
<circle cx="204.15" cy="100.93" r="0.4" fill="#666"/>
<circle cx="211.19" cy="102.42" r="0.4" fill="#666"/>
<circle cx="206.19" cy="106.53" r="0.4" fill="#666"/>
<circle cx="204.28" cy="114.04" r="0.4" fill="#666"/>
<circle cx="211.74" cy="104.94" r="0.4" fill="#666"/>
<circle cx="208.22" cy="105.72" r="0.4" fill="#666"/>
<circle cx="207.13" cy="107.49" r="0.4" fill="#666"/>
<circle cx="202.84" cy="103.07" r="0.4" fill="#666"/>
<circle cx="203.29" cy="117.21" r="0.4" fill="#666"/>
<circle cx="206.47" cy="104.18" r="0.4" fill="#666"/>
<circle cx="210.97" cy="118.93" r="0.4" fill="#666"/>
<circle cx="205.95" cy="102.65" r="0.4" fill="#666"/>
<circle cx="203.12" cy="101.72" r="0.4" fill="#666"/>
<circle cx="204.76" cy="101.73" r="0.4" fill="#666"/>
<circle cx="203.63" cy="104.91" r="0.4" fill="#666"/>
<circle cx="207.27" cy="116.86" r="0.4" fill="#666"/>
<circle cx="209.25" cy="107.84" r="0.4" fill="#666"/>
<circle cx="205.55" cy="109.96" r="0.4" fill="#666"/>
<circle cx="205.15" cy="106.43" r="0.4" fill="#666"/>
<circle cx="201.68" cy="105.27" r="0.4" fill="#666"/>
<circle cx="211.64" cy="102.39" r="0.4" fill="#666"/>
<circle cx="206.54" cy="111.96" r="0.4" fill="#666"/>
<circle cx="210.49" cy="104.10" r="0.4" fill="#666"/>
<circle cx="203.98" cy="104.72" r="0.4" fill="#666"/>
<circle cx="205.40" cy="108.47" r="0.4" fill="#666"/>
<circle cx="211.49" cy="116.12" r="0.4" fill="#666"/>
<circle cx="210.60" cy="100.41" r="0.4" fill="#666"/>
<circle cx="201.35" cy="113.48" r="0.4" fill="#666"/>
<circle cx="210.85" cy="108.99" r="0.4" fill="#666"/>
<circle cx="207.46" cy="100.00" r="0.4" fill="#666"/>
<circle cx="205.31" cy="117.61" r="0.4" fill="#666"/>
<circle cx="210.08" cy="116.25" r="0.4" fill="#666"/>
<circle cx="211.69" cy="104.72" r="0.4" fill="#666"/>
<circle cx="202.20" cy="102.93" r="0.4" fill="#666"/>
<circle cx="206.75" cy="112.96" r="0.4" fill="#666"/>
<circle cx="211.36" cy="113.71" r="0.4" fill="#666"/>
<circle cx="208.12" cy="114.53" r="0.4" fill="#666"/>
<circle cx="206.03" cy="110.48" r="0.4" fill="#666"/>
<circle cx="201.44" cy="114.86" r="0.4" fill="#666"/>
<circle cx="203.56" cy="117.48" r="0.4" fill="#666"/>
<circle cx="208.10" cy="105.77" r="0.4" fill="#666"/>
<circle cx="202.41" cy="104.78" r="0.4" fill="#666"/>
<circle cx="208.00" cy="113.27" r="0.4" fill="#666"/>
<circle cx="202.23" cy="101.34" r="0.4" fill="#666"/>
<circle cx="206.77" cy="111.07" r="0.4" fill="#666"/>
<circle cx="205.27" cy="104.25" r="0.4" fill="#666"/>
<circle cx="207.61" cy="100.20" r="0.4" fill="#666"/>
<circle cx="204.32" cy="108.75" r="0.4" fill="#666"/>
<circle cx="211.55" cy="112.25" r="0.4" fill="#666"/>
<circle cx="210.72" cy="109.03" r="0.4" fill="#666"/>
<circle cx="203.58" cy="104.69" r="0.4" fill="#666"/>
<circle cx="211.57" cy="113.39" r="0.4" fill="#666"/>
<circle cx="204.38" cy="100.41" r="0.4" fill="#666"/>
<circle cx="206.48" cy="112.81" r="0.4" fill="#666"/>
<circle cx="205.62" cy="104.89" r="0.4" fill="#666"/>
<circle cx="208.34" cy="117.58" r="0.4" fill="#666"/>
<circle cx="203.49" cy="100.65" r="0.4" fill="#666"/>
<circle cx="204.72" cy="107.99" r="0.4" fill="#666"/>
<circle cx="208.51" cy="103.76" r="0.4" fill="#666"/>
<circle cx="209.77" cy="114.04" r="0.4" fill="#666"/>
<circle cx="206.55" cy="103.90" r="0.4" fill="#666"/>
<circle cx="211.67" cy="105.92" r="0.4" fill="#666"/>
<circle cx="210.02" cy="104.39" r="0.4" fill="#666"/>
<circle cx="203.44" cy="114.45" r="0.4" fill="#666"/>
<circle cx="204.24" cy="118.09" r="0.4" fill="#666"/>
<circle cx="206.45" cy="103.56" r="0.4" fill="#666"/>
<circle cx="203.46" cy="107.92" r="0.4" fill="#666"/>
<circle cx="225.31" cy="93.39" r="0.35" fill="#888"/>
<circle cx="216.49" cy="86.72" r="0.35" fill="#888"/>
<circle cx="217.62" cy="93.69" r="0.35" fill="#888"/>
<circle cx="216.41" cy="82.62" r="0.35" fill="#888"/>
<circle cx="215.02" cy="86.72" r="0.35" fill="#888"/>
<circle cx="229.27" cy="92.60" r="0.35" fill="#888"/>
<circle cx="226.46" cy="93.97" r="0.35" fill="#888"/>
<circle cx="229.84" cy="85.95" r="0.35" fill="#888"/>
<circle cx="217.15" cy="93.23" r="0.35" fill="#888"/>
<circle cx="226.69" cy="82.38" r="0.35" fill="#888"/>
<circle cx="225.30" cy="86.54" r="0.35" fill="#888"/>
<circle cx="220.36" cy="85.98" r="0.35" fill="#888"/>
<circle cx="216.88" cy="82.03" r="0.35" fill="#888"/>
<circle cx="218.76" cy="86.22" r="0.35" fill="#888"/>
<circle cx="230.24" cy="83.48" r="0.35" fill="#888"/>
<circle cx="230.39" cy="84.49" r="0.35" fill="#888"/>
<circle cx="220.06" cy="91.86" r="0.35" fill="#888"/>
<circle cx="227.97" cy="87.19" r="0.35" fill="#888"/>
<circle cx="214.84" cy="87.68" r="0.35" fill="#888"/>
<circle cx="220.34" cy="93.03" r="0.35" fill="#888"/>
<circle cx="217.28" cy="86.37" r="0.35" fill="#888"/>
<circle cx="229.25" cy="82.36" r="0.35" fill="#888"/>
<circle cx="220.98" cy="91.74" r="0.35" fill="#888"/>
<circle cx="227.03" cy="82.49" r="0.35" fill="#888"/>
<circle cx="214.59" cy="82.75" r="0.35" fill="#888"/>
<circle cx="229.64" cy="85.08" r="0.35" fill="#888"/>
<circle cx="226.70" cy="92.78" r="0.35" fill="#888"/>
<circle cx="219.76" cy="85.27" r="0.35" fill="#888"/>
<circle cx="230.28" cy="89.40" r="0.35" fill="#888"/>
<circle cx="218.46" cy="90.60" r="0.35" fill="#888"/>
<circle cx="219.38" cy="85.31" r="0.35" fill="#888"/>
<circle cx="214.06" cy="91.07" r="0.35" fill="#888"/>
<circle cx="229.58" cy="89.61" r="0.35" fill="#888"/>
<circle cx="230.04" cy="82.29" r="0.35" fill="#888"/>
<circle cx="217.98" cy="87.70" r="0.35" fill="#888"/>
<circle cx="230.27" cy="93.45" r="0.35" fill="#888"/>
<circle cx="220.57" cy="85.01" r="0.35" fill="#888"/>
<circle cx="221.31" cy="87.92" r="0.35" fill="#888"/>
<circle cx="229.78" cy="84.20" r="0.35" fill="#888"/>
<circle cx="227.64" cy="90.86" r="0.35" fill="#888"/>
<path d="M202.40,83.60 C203.17,81.57 204.73,82.27 207.00,81.80 C209.27,81.33 213.33,81.03 216.00,80.80 C218.67,80.57 220.90,80.40 223.00,80.40 C225.10,80.40 228.77,80.30 228.60,80.80 C228.43,81.30 224.02,82.70 222.00,83.40 C219.98,84.10 218.00,83.57 216.50,85.00 C215.00,86.43 214.17,89.50 213.00,92.00 C211.83,94.50 210.50,97.90 209.50,100.00 C208.50,102.10 207.85,104.00 207.00,104.60 C206.15,105.20 205.17,105.37 204.40,103.60 C203.63,101.83 202.73,97.33 202.40,94.00 C202.07,90.67 201.63,85.63 202.40,83.60 Z" fill="#8e8e8e" stroke="#333" stroke-width="0.9"/>
<path d="M205.60,86.00 C206.07,84.60 207.77,84.83 209.00,84.60 C210.23,84.37 212.67,83.62 213.00,84.60 C213.33,85.58 211.77,88.43 211.00,90.50 C210.23,92.57 209.20,96.58 208.40,97.00 C207.60,97.42 206.67,94.83 206.20,93.00 C205.73,91.17 205.13,87.40 205.60,86.00 Z" fill="#e2e2e2" stroke="#555" stroke-width="0.6"/>
<path d="M215.8,84.2 L211.5,94 L206.8,104" stroke="#000" stroke-width="1.4" fill="none"/>
<path d="M203.5,84.5 C203.0,90 203.6,97 205.6,103" stroke="#222" stroke-width="1.1" fill="none"/>
<path d="M208,82.2 L227.5,81.0" stroke="#111" stroke-width="1.2" fill="none"/>
<path d="M204.2,86 L205.8,92 M207.5,87 L206.5,95" stroke="#444" stroke-width="0.6" fill="none"/>
<path d="M291.60,77.40 L295.30,75.40 L298.50,72.20 L300.90,64.30 L302.90,48.50 L304.80,32.70 L306.40,26.30 L307.70,32.70 L308.80,46.90 L310.00,61.10 L311.20,70.60 L312.70,75.70 L315.90,77.00 L330.00,77.80 L347.40,78.00 L347.40,79.00 L291.60,79.00 Z" fill="#a2a2a2" stroke="#6a6a6a" stroke-width="0.6"/>
<path d="M355.00,79.00 L356.60,76.20 L359.00,72.00 L361.30,64.30 L363.50,52.00 L365.80,36.00 L368.00,26.30 L369.60,36.00 L371.60,56.40 L375.60,61.10 L378.80,62.50 L381.90,64.30 L384.50,58.00 L387.40,48.50 L389.60,44.00 L391.70,41.40 L393.30,47.00 L394.80,60.00 L396.10,73.80 L397.70,77.80 L402.00,78.30 L410.10,78.50 L410.10,79.00 Z" fill="#a2a2a2" stroke="#6a6a6a" stroke-width="0.6"/>
<path d="M418.40,79.00 L418.40,76.20 L422.30,73.80 L425.50,65.90 L427.90,54.80 L429.90,39.00 L431.80,27.10 L433.10,29.50 L434.70,45.30 L436.30,61.10 L437.40,72.20 L438.90,75.70 L444.50,74.60 L452.40,72.20 L459.50,70.30 L461.10,72.20 L462.70,76.20 L465.00,77.30 L473.60,77.60 L473.60,79.00 Z" fill="#a2a2a2" stroke="#6a6a6a" stroke-width="0.6"/>
<path d="M291.60,142.80 L291.80,138.00 L292.40,135.50 L293.00,141.00 L295.30,140.60 L298.50,136.20 L300.90,131.50 L302.40,122.00 L303.70,107.70 L304.80,93.50 L305.60,88.00 L306.40,95.10 L307.20,106.20 L308.00,112.50 L309.30,115.60 L310.40,122.00 L311.50,128.30 L312.70,129.90 L314.00,136.20 L315.90,141.30 L323.80,141.80 L347.40,142.00 L347.40,142.80 Z" fill="#a2a2a2" stroke="#6a6a6a" stroke-width="0.6"/>
<path d="M354.80,142.80 L355.20,140.20 L360.70,140.20 L363.10,136.20 L366.20,128.30 L368.60,122.00 L370.20,129.10 L372.60,134.60 L375.70,138.60 L378.90,135.40 L382.90,132.30 L385.20,129.90 L387.60,120.40 L390.00,106.20 L391.20,93.50 L392.30,91.90 L393.50,95.10 L394.40,90.00 L395.50,96.70 L396.60,115.60 L397.90,131.50 L399.20,138.60 L402.60,140.60 L410.10,141.20 L410.10,142.80 Z" fill="#a2a2a2" stroke="#6a6a6a" stroke-width="0.6"/>
<path d="M418.40,142.80 L418.40,141.00 L422.30,139.40 L425.50,134.60 L427.90,125.10 L429.90,107.70 L431.80,93.50 L433.10,90.60 L434.70,99.80 L435.80,115.60 L437.00,129.90 L438.20,137.00 L439.70,139.70 L447.60,140.20 L460.30,139.70 L473.60,141.00 L473.60,142.80 Z" fill="#a2a2a2" stroke="#6a6a6a" stroke-width="0.6"/>
<line x1="312.4" y1="38.7" x2="345.2" y2="38.7" stroke="#6a6a6a" stroke-width="0.9"/>
<line x1="312.4" y1="37.800000000000004" x2="312.4" y2="39.6" stroke="#6a6a6a" stroke-width="0.6"/>
<line x1="345.2" y1="37.800000000000004" x2="345.2" y2="39.6" stroke="#6a6a6a" stroke-width="0.6"/>
<text x="328.0" y="36.800000000000004" font-size="4.9" text-anchor="middle" font-weight="bold" fill="#000" style="stroke-width:0.2px">0.46</text>
<line x1="375.3" y1="38.7" x2="408.8" y2="38.7" stroke="#6a6a6a" stroke-width="0.9"/>
<line x1="375.3" y1="37.800000000000004" x2="375.3" y2="39.6" stroke="#6a6a6a" stroke-width="0.6"/>
<line x1="408.8" y1="37.800000000000004" x2="408.8" y2="39.6" stroke="#6a6a6a" stroke-width="0.6"/>
<text x="391.6" y="36.800000000000004" font-size="4.9" text-anchor="middle" font-weight="bold" fill="#000" style="stroke-width:0.2px">50.3</text>
<line x1="438.9" y1="38.7" x2="471.7" y2="38.7" stroke="#6a6a6a" stroke-width="0.9"/>
<line x1="438.9" y1="37.800000000000004" x2="438.9" y2="39.6" stroke="#6a6a6a" stroke-width="0.6"/>
<line x1="471.7" y1="37.800000000000004" x2="471.7" y2="39.6" stroke="#6a6a6a" stroke-width="0.6"/>
<text x="454.8" y="36.800000000000004" font-size="4.9" text-anchor="middle" font-weight="bold" fill="#000" style="stroke-width:0.2px">22.9</text>
<line x1="315.1" y1="109.3" x2="344.1" y2="109.3" stroke="#6a6a6a" stroke-width="0.9"/>
<line x1="315.1" y1="108.39999999999999" x2="315.1" y2="110.2" stroke="#6a6a6a" stroke-width="0.6"/>
<line x1="344.1" y1="108.39999999999999" x2="344.1" y2="110.2" stroke="#6a6a6a" stroke-width="0.6"/>
<text x="329.3" y="107.39999999999999" font-size="4.9" text-anchor="middle" font-weight="bold" fill="#000" style="stroke-width:0.2px">0.78</text>
<line x1="378.1" y1="109.3" x2="407.4" y2="109.3" stroke="#6a6a6a" stroke-width="0.9"/>
<line x1="378.1" y1="108.39999999999999" x2="378.1" y2="110.2" stroke="#6a6a6a" stroke-width="0.6"/>
<line x1="407.4" y1="108.39999999999999" x2="407.4" y2="110.2" stroke="#6a6a6a" stroke-width="0.6"/>
<text x="392.3" y="107.39999999999999" font-size="4.9" text-anchor="middle" font-weight="bold" fill="#000" style="stroke-width:0.2px">74.6</text>
<line x1="442.1" y1="109.3" x2="471.1" y2="109.3" stroke="#6a6a6a" stroke-width="0.9"/>
<line x1="442.1" y1="108.39999999999999" x2="442.1" y2="110.2" stroke="#6a6a6a" stroke-width="0.6"/>
<line x1="471.1" y1="108.39999999999999" x2="471.1" y2="110.2" stroke="#6a6a6a" stroke-width="0.6"/>
<text x="455.6" y="107.39999999999999" font-size="4.9" text-anchor="middle" font-weight="bold" fill="#000" style="stroke-width:0.2px">3.28</text>
<circle cx="55.35" cy="228.41" r="0.3" fill="#888"/>
<circle cx="47.27" cy="215.51" r="0.3" fill="#888"/>
<circle cx="36.48" cy="216.49" r="0.3" fill="#888"/>
<circle cx="53.83" cy="208.29" r="0.3" fill="#888"/>
<circle cx="31.90" cy="227.83" r="0.3" fill="#888"/>
<circle cx="33.77" cy="207.88" r="0.3" fill="#888"/>
<circle cx="25.77" cy="222.03" r="0.3" fill="#888"/>
<circle cx="36.72" cy="234.43" r="0.3" fill="#888"/>
<circle cx="57.63" cy="234.65" r="0.3" fill="#888"/>
<circle cx="34.43" cy="208.44" r="0.3" fill="#888"/>
<circle cx="28.12" cy="220.46" r="0.3" fill="#888"/>
<circle cx="51.12" cy="218.96" r="0.3" fill="#888"/>
<circle cx="33.28" cy="218.09" r="0.3" fill="#888"/>
<circle cx="47.76" cy="225.55" r="0.3" fill="#888"/>
<circle cx="52.55" cy="230.56" r="0.3" fill="#888"/>
<circle cx="49.42" cy="209.51" r="0.3" fill="#888"/>
<circle cx="56.03" cy="214.52" r="0.3" fill="#888"/>
<circle cx="45.76" cy="216.82" r="0.3" fill="#888"/>
<circle cx="52.18" cy="211.78" r="0.3" fill="#888"/>
<circle cx="33.78" cy="213.11" r="0.3" fill="#888"/>
<circle cx="30.25" cy="231.64" r="0.3" fill="#888"/>
<circle cx="46.19" cy="215.46" r="0.3" fill="#888"/>
<circle cx="39.35" cy="234.78" r="0.3" fill="#888"/>
<circle cx="43.52" cy="212.71" r="0.3" fill="#888"/>
<circle cx="54.82" cy="224.95" r="0.3" fill="#888"/>
<circle cx="61.66" cy="208.97" r="0.3" fill="#888"/>
<circle cx="42.30" cy="229.75" r="0.3" fill="#888"/>
<circle cx="56.02" cy="232.52" r="0.3" fill="#888"/>
<circle cx="26.01" cy="214.52" r="0.3" fill="#888"/>
<circle cx="28.97" cy="211.50" r="0.3" fill="#888"/>
<circle cx="60.99" cy="222.91" r="0.3" fill="#888"/>
<circle cx="59.38" cy="216.79" r="0.3" fill="#888"/>
<circle cx="56.98" cy="219.02" r="0.3" fill="#888"/>
<circle cx="34.25" cy="228.56" r="0.3" fill="#888"/>
<circle cx="59.96" cy="209.07" r="0.3" fill="#888"/>
<circle cx="46.86" cy="223.98" r="0.3" fill="#888"/>
<circle cx="32.66" cy="216.69" r="0.3" fill="#888"/>
<circle cx="29.80" cy="211.92" r="0.3" fill="#888"/>
<circle cx="34.06" cy="223.38" r="0.3" fill="#888"/>
<circle cx="48.94" cy="211.90" r="0.3" fill="#888"/>
<circle cx="24.93" cy="215.49" r="0.3" fill="#888"/>
<circle cx="49.94" cy="211.37" r="0.3" fill="#888"/>
<circle cx="36.21" cy="211.90" r="0.3" fill="#888"/>
<circle cx="54.32" cy="221.89" r="0.3" fill="#888"/>
<circle cx="26.87" cy="208.94" r="0.3" fill="#888"/>
<circle cx="39.32" cy="221.95" r="0.3" fill="#888"/>
<circle cx="48.47" cy="208.64" r="0.3" fill="#888"/>
<circle cx="30.64" cy="226.17" r="0.3" fill="#888"/>
<circle cx="39.87" cy="214.22" r="0.3" fill="#888"/>
<circle cx="36.03" cy="233.64" r="0.3" fill="#888"/>
<circle cx="36.21" cy="222.43" r="0.3" fill="#888"/>
<circle cx="37.89" cy="218.08" r="0.3" fill="#888"/>
<circle cx="56.91" cy="234.90" r="0.3" fill="#888"/>
<circle cx="38.14" cy="211.72" r="0.3" fill="#888"/>
<circle cx="51.80" cy="211.91" r="0.3" fill="#888"/>
<circle cx="24.72" cy="232.15" r="0.3" fill="#888"/>
<circle cx="40.39" cy="229.79" r="0.3" fill="#888"/>
<circle cx="39.73" cy="231.60" r="0.3" fill="#888"/>
<circle cx="41.78" cy="210.71" r="0.3" fill="#888"/>
<circle cx="25.06" cy="221.99" r="0.3" fill="#888"/>
<path d="M26.60,211.40 C28.43,209.70 33.52,210.80 37.00,210.80 C40.48,210.80 45.08,211.00 47.50,211.40 C49.92,211.80 50.45,212.50 51.50,213.20 C52.55,213.90 52.75,215.17 53.80,215.60 C54.85,216.03 57.12,214.37 57.80,215.80 C58.48,217.23 58.53,222.73 57.90,224.20 C57.27,225.67 55.23,223.90 54.00,224.60 C52.77,225.30 52.97,227.23 50.50,228.40 C48.03,229.57 43.02,231.17 39.20,231.60 C35.38,232.03 29.80,232.77 27.60,231.00 C25.40,229.23 26.17,224.27 26.00,221.00 C25.83,217.73 24.77,213.10 26.60,211.40 Z" fill="none" stroke="#a0a0a0" stroke-width="3.6"/>
<circle cx="25.51" cy="223.07" r="0.35" fill="#777"/>
<circle cx="31.41" cy="231.76" r="0.35" fill="#777"/>
<circle cx="48.89" cy="229.62" r="0.35" fill="#777"/>
<circle cx="50.46" cy="211.12" r="0.35" fill="#777"/>
<circle cx="40.61" cy="209.82" r="0.35" fill="#777"/>
<circle cx="53.31" cy="213.10" r="0.35" fill="#777"/>
<circle cx="36.16" cy="210.09" r="0.35" fill="#777"/>
<circle cx="32.04" cy="210.33" r="0.35" fill="#777"/>
<circle cx="46.79" cy="210.28" r="0.35" fill="#777"/>
<circle cx="50.95" cy="211.45" r="0.35" fill="#777"/>
<circle cx="33.61" cy="232.43" r="0.35" fill="#777"/>
<circle cx="53.86" cy="225.59" r="0.35" fill="#777"/>
<circle cx="54.70" cy="224.79" r="0.35" fill="#777"/>
<circle cx="58.42" cy="216.70" r="0.35" fill="#777"/>
<circle cx="25.98" cy="212.97" r="0.35" fill="#777"/>
<circle cx="40.66" cy="232.23" r="0.35" fill="#777"/>
<circle cx="25.81" cy="222.69" r="0.35" fill="#777"/>
<circle cx="32.98" cy="232.37" r="0.35" fill="#777"/>
<circle cx="57.06" cy="215.50" r="0.35" fill="#777"/>
<circle cx="53.44" cy="213.57" r="0.35" fill="#777"/>
<circle cx="52.65" cy="226.85" r="0.35" fill="#777"/>
<circle cx="32.31" cy="210.44" r="0.35" fill="#777"/>
<circle cx="53.44" cy="213.66" r="0.35" fill="#777"/>
<circle cx="51.97" cy="228.79" r="0.35" fill="#777"/>
<circle cx="57.93" cy="224.39" r="0.35" fill="#777"/>
<circle cx="57.74" cy="224.80" r="0.35" fill="#777"/>
<circle cx="44.76" cy="230.38" r="0.35" fill="#777"/>
<circle cx="26.10" cy="230.45" r="0.35" fill="#777"/>
<circle cx="58.83" cy="222.50" r="0.35" fill="#777"/>
<circle cx="33.35" cy="209.96" r="0.35" fill="#777"/>
<circle cx="25.60" cy="221.53" r="0.35" fill="#777"/>
<circle cx="47.92" cy="210.23" r="0.35" fill="#777"/>
<circle cx="38.26" cy="209.54" r="0.35" fill="#777"/>
<circle cx="54.13" cy="226.43" r="0.35" fill="#777"/>
<circle cx="51.04" cy="211.69" r="0.35" fill="#777"/>
<circle cx="52.22" cy="212.86" r="0.35" fill="#777"/>
<circle cx="55.79" cy="215.07" r="0.35" fill="#777"/>
<circle cx="58.27" cy="215.52" r="0.35" fill="#777"/>
<circle cx="57.22" cy="215.19" r="0.35" fill="#777"/>
<circle cx="53.80" cy="214.05" r="0.35" fill="#777"/>
<circle cx="52.51" cy="213.76" r="0.35" fill="#777"/>
<circle cx="49.72" cy="211.18" r="0.35" fill="#777"/>
<circle cx="57.91" cy="215.27" r="0.35" fill="#777"/>
<circle cx="51.11" cy="212.35" r="0.35" fill="#777"/>
<circle cx="50.74" cy="229.73" r="0.35" fill="#777"/>
<circle cx="52.86" cy="227.39" r="0.35" fill="#777"/>
<circle cx="39.20" cy="210.06" r="0.35" fill="#777"/>
<circle cx="55.74" cy="224.80" r="0.35" fill="#777"/>
<circle cx="54.99" cy="225.04" r="0.35" fill="#777"/>
<circle cx="58.24" cy="218.54" r="0.35" fill="#777"/>
<circle cx="52.89" cy="212.83" r="0.35" fill="#777"/>
<circle cx="28.85" cy="210.72" r="0.35" fill="#777"/>
<circle cx="57.85" cy="215.22" r="0.35" fill="#777"/>
<circle cx="27.24" cy="231.89" r="0.35" fill="#777"/>
<circle cx="25.66" cy="221.00" r="0.35" fill="#777"/>
<circle cx="49.21" cy="210.96" r="0.35" fill="#777"/>
<circle cx="57.27" cy="224.93" r="0.35" fill="#777"/>
<circle cx="50.08" cy="211.38" r="0.35" fill="#777"/>
<circle cx="26.56" cy="211.25" r="0.35" fill="#777"/>
<circle cx="58.80" cy="218.24" r="0.35" fill="#777"/>
<circle cx="48.37" cy="230.09" r="0.35" fill="#777"/>
<circle cx="37.27" cy="232.20" r="0.35" fill="#777"/>
<circle cx="53.72" cy="225.36" r="0.35" fill="#777"/>
<circle cx="53.90" cy="214.47" r="0.35" fill="#777"/>
<circle cx="43.63" cy="209.75" r="0.35" fill="#777"/>
<circle cx="56.01" cy="215.45" r="0.35" fill="#777"/>
<circle cx="25.96" cy="210.75" r="0.35" fill="#777"/>
<circle cx="58.91" cy="220.86" r="0.35" fill="#777"/>
<circle cx="27.30" cy="231.76" r="0.35" fill="#777"/>
<circle cx="52.11" cy="213.41" r="0.35" fill="#777"/>
<path d="M26.60,211.40 C28.43,209.70 33.52,210.80 37.00,210.80 C40.48,210.80 45.08,211.00 47.50,211.40 C49.92,211.80 50.45,212.50 51.50,213.20 C52.55,213.90 52.75,215.17 53.80,215.60 C54.85,216.03 57.12,214.37 57.80,215.80 C58.48,217.23 58.53,222.73 57.90,224.20 C57.27,225.67 55.23,223.90 54.00,224.60 C52.77,225.30 52.97,227.23 50.50,228.40 C48.03,229.57 43.02,231.17 39.20,231.60 C35.38,232.03 29.80,232.77 27.60,231.00 C25.40,229.23 26.17,224.27 26.00,221.00 C25.83,217.73 24.77,213.10 26.60,211.40 Z" fill="#d2d2d2" stroke="#2a2a2a" stroke-width="1.6"/>
<path d="M28.48,212.74 C30.05,211.28 34.42,212.23 37.42,212.23 C40.42,212.23 44.37,212.40 46.45,212.74 C48.53,213.09 48.99,213.69 49.89,214.29 C50.79,214.89 50.96,215.98 51.87,216.36 C52.77,216.73 54.72,215.30 55.31,216.53 C55.90,217.76 55.94,222.49 55.39,223.75 C54.85,225.01 53.10,223.49 52.04,224.10 C50.98,224.70 51.15,226.36 49.03,227.36 C46.91,228.37 42.59,229.74 39.31,230.12 C36.03,230.49 31.23,231.12 29.34,229.60 C27.44,228.08 28.10,223.81 27.96,221.00 C27.82,218.19 26.90,214.21 28.48,212.74 Z" fill="none" stroke="#666" stroke-width="0.6"/>
<path d="M30.49,214.18 C31.79,212.98 35.40,213.76 37.87,213.76 C40.34,213.76 43.61,213.90 45.33,214.18 C47.04,214.47 47.42,214.96 48.16,215.46 C48.91,215.96 49.05,216.86 49.80,217.17 C50.54,217.47 52.15,216.29 52.64,217.31 C53.12,218.33 53.16,222.23 52.71,223.27 C52.26,224.31 50.82,223.06 49.94,223.56 C49.06,224.05 49.21,225.43 47.45,226.25 C45.70,227.08 42.14,228.22 39.43,228.53 C36.72,228.83 32.76,229.35 31.20,228.10 C29.63,226.85 30.18,223.32 30.06,221.00 C29.94,218.68 29.18,215.39 30.49,214.18 Z" fill="none" stroke="#777" stroke-width="0.6"/>
<path d="M32.50,215.62 C33.52,214.67 36.37,215.29 38.32,215.29 C40.27,215.29 42.85,215.40 44.20,215.62 C45.55,215.85 45.85,216.24 46.44,216.63 C47.03,217.02 47.14,217.73 47.73,217.98 C48.32,218.22 49.59,217.29 49.97,218.09 C50.35,218.89 50.38,221.97 50.02,222.79 C49.67,223.61 48.53,222.62 47.84,223.02 C47.15,223.41 47.26,224.49 45.88,225.14 C44.50,225.80 41.69,226.69 39.55,226.94 C37.41,227.18 34.29,227.59 33.06,226.60 C31.82,225.61 32.25,222.83 32.16,221.00 C32.07,219.17 31.47,216.58 32.50,215.62 Z" fill="none" stroke="#888" stroke-width="0.6"/>
<path d="M34.51,217.06 C35.26,216.37 37.34,216.82 38.77,216.82 C40.20,216.82 42.08,216.90 43.08,217.06 C44.07,217.23 44.28,217.51 44.72,217.80 C45.15,218.09 45.23,218.61 45.66,218.79 C46.09,218.96 47.02,218.28 47.30,218.87 C47.58,219.46 47.60,221.71 47.34,222.31 C47.08,222.91 46.25,222.19 45.74,222.48 C45.23,222.76 45.32,223.56 44.30,224.03 C43.29,224.51 41.24,225.17 39.67,225.35 C38.11,225.52 35.82,225.82 34.92,225.10 C34.01,224.38 34.33,222.34 34.26,221.00 C34.19,219.66 33.75,217.76 34.51,217.06 Z" fill="none" stroke="#999" stroke-width="0.6"/>
<clipPath id="cb1"><path d="M26.60,211.40 C28.43,209.70 33.52,210.80 37.00,210.80 C40.48,210.80 45.08,211.00 47.50,211.40 C49.92,211.80 50.45,212.50 51.50,213.20 C52.55,213.90 52.75,215.17 53.80,215.60 C54.85,216.03 57.12,214.37 57.80,215.80 C58.48,217.23 58.53,222.73 57.90,224.20 C57.27,225.67 55.23,223.90 54.00,224.60 C52.77,225.30 52.97,227.23 50.50,228.40 C48.03,229.57 43.02,231.17 39.20,231.60 C35.38,232.03 29.80,232.77 27.60,231.00 C25.40,229.23 26.17,224.27 26.00,221.00 C25.83,217.73 24.77,213.10 26.60,211.40 Z"/></clipPath>
<g clip-path="url(#cb1)"><ellipse cx="28.54" cy="213.43" rx="1.06" ry="0.70" fill="none" stroke="#aaa" stroke-width="0.5"/><ellipse cx="28.46" cy="226.24" rx="0.77" ry="0.51" fill="none" stroke="#aaa" stroke-width="0.5"/><ellipse cx="30.56" cy="216.39" rx="1.75" ry="1.17" fill="none" stroke="#eee" stroke-width="0.5"/><ellipse cx="47.33" cy="215.97" rx="1.26" ry="0.84" fill="none" stroke="#bbb" stroke-width="0.5"/><ellipse cx="42.65" cy="229.90" rx="1.95" ry="1.30" fill="none" stroke="#eee" stroke-width="0.5"/><ellipse cx="44.88" cy="213.11" rx="2.14" ry="1.43" fill="none" stroke="#eee" stroke-width="0.5"/><ellipse cx="29.01" cy="224.14" rx="1.04" ry="0.69" fill="none" stroke="#999" stroke-width="0.5"/><ellipse cx="33.54" cy="223.95" rx="0.95" ry="0.64" fill="none" stroke="#bbb" stroke-width="0.5"/><ellipse cx="44.79" cy="217.52" rx="1.66" ry="1.11" fill="none" stroke="#eee" stroke-width="0.5"/><ellipse cx="44.14" cy="228.59" rx="2.35" ry="1.57" fill="none" stroke="#bbb" stroke-width="0.5"/><ellipse cx="43.05" cy="229.41" rx="1.11" ry="0.74" fill="none" stroke="#999" stroke-width="0.5"/><ellipse cx="31.24" cy="228.38" rx="2.14" ry="1.43" fill="none" stroke="#aaa" stroke-width="0.5"/><ellipse cx="50.62" cy="225.68" rx="1.29" ry="0.86" fill="none" stroke="#eee" stroke-width="0.5"/><ellipse cx="35.21" cy="217.07" rx="2.25" ry="1.50" fill="none" stroke="#eee" stroke-width="0.5"/><ellipse cx="38.80" cy="222.02" rx="0.76" ry="0.51" fill="none" stroke="#999" stroke-width="0.5"/><ellipse cx="37.93" cy="225.32" rx="1.69" ry="1.13" fill="none" stroke="#bbb" stroke-width="0.5"/><ellipse cx="46.73" cy="219.66" rx="1.72" ry="1.14" fill="none" stroke="#aaa" stroke-width="0.5"/><ellipse cx="30.61" cy="213.46" rx="0.93" ry="0.62" fill="none" stroke="#aaa" stroke-width="0.5"/><ellipse cx="35.62" cy="215.41" rx="0.80" ry="0.53" fill="none" stroke="#999" stroke-width="0.5"/><ellipse cx="30.46" cy="223.94" rx="0.82" ry="0.55" fill="none" stroke="#999" stroke-width="0.5"/><ellipse cx="45.42" cy="214.12" rx="1.72" ry="1.15" fill="none" stroke="#bbb" stroke-width="0.5"/><ellipse cx="31.98" cy="229.23" rx="1.63" ry="1.09" fill="none" stroke="#999" stroke-width="0.5"/><ellipse cx="48.99" cy="225.85" rx="1.92" ry="1.28" fill="none" stroke="#eee" stroke-width="0.5"/><ellipse cx="29.68" cy="216.50" rx="0.93" ry="0.62" fill="none" stroke="#999" stroke-width="0.5"/><ellipse cx="50.73" cy="228.49" rx="1.99" ry="1.33" fill="none" stroke="#999" stroke-width="0.5"/></g>
<path d="M54.6,216.8 L57.0,216.8 L57.0,223.2 L54.6,223.4 Z" fill="#fafafa" stroke="none" stroke-width="1"/>
<ellipse cx="34.0" cy="219.2" rx="1.5" ry="1.3" fill="#fff"/><ellipse cx="38.2" cy="219.4" rx="1.2" ry="1.1" fill="#f4f4f4"/>
<path d="M56.5,197.5 l1.6,-0.3 M56.8,199 l1.3,0" stroke="#444" stroke-width="0.5"/>
<circle cx="105.88" cy="224.31" r="0.3" fill="#888"/>
<circle cx="87.06" cy="208.90" r="0.3" fill="#888"/>
<circle cx="80.43" cy="227.96" r="0.3" fill="#888"/>
<circle cx="84.17" cy="215.26" r="0.3" fill="#888"/>
<circle cx="91.83" cy="206.61" r="0.3" fill="#888"/>
<circle cx="85.98" cy="214.20" r="0.3" fill="#888"/>
<circle cx="102.05" cy="216.67" r="0.3" fill="#888"/>
<circle cx="88.23" cy="233.96" r="0.3" fill="#888"/>
<circle cx="94.63" cy="230.69" r="0.3" fill="#888"/>
<circle cx="98.64" cy="206.90" r="0.3" fill="#888"/>
<circle cx="91.45" cy="218.66" r="0.3" fill="#888"/>
<circle cx="104.06" cy="216.06" r="0.3" fill="#888"/>
<circle cx="101.66" cy="221.60" r="0.3" fill="#888"/>
<circle cx="84.58" cy="231.00" r="0.3" fill="#888"/>
<circle cx="80.18" cy="229.77" r="0.3" fill="#888"/>
<circle cx="82.96" cy="206.04" r="0.3" fill="#888"/>
<circle cx="84.07" cy="228.10" r="0.3" fill="#888"/>
<circle cx="111.23" cy="206.13" r="0.3" fill="#888"/>
<circle cx="94.18" cy="220.25" r="0.3" fill="#888"/>
<circle cx="104.89" cy="211.35" r="0.3" fill="#888"/>
<circle cx="94.31" cy="216.07" r="0.3" fill="#888"/>
<circle cx="106.11" cy="213.56" r="0.3" fill="#888"/>
<circle cx="110.04" cy="214.23" r="0.3" fill="#888"/>
<circle cx="84.52" cy="226.28" r="0.3" fill="#888"/>
<circle cx="94.44" cy="209.19" r="0.3" fill="#888"/>
<circle cx="99.28" cy="208.35" r="0.3" fill="#888"/>
<circle cx="104.58" cy="226.22" r="0.3" fill="#888"/>
<circle cx="104.54" cy="224.21" r="0.3" fill="#888"/>
<circle cx="89.45" cy="217.64" r="0.3" fill="#888"/>
<circle cx="90.81" cy="231.82" r="0.3" fill="#888"/>
<circle cx="80.02" cy="231.77" r="0.3" fill="#888"/>
<circle cx="77.88" cy="211.98" r="0.3" fill="#888"/>
<circle cx="86.21" cy="232.14" r="0.3" fill="#888"/>
<circle cx="94.54" cy="217.00" r="0.3" fill="#888"/>
<circle cx="107.94" cy="212.77" r="0.3" fill="#888"/>
<circle cx="93.13" cy="221.41" r="0.3" fill="#888"/>
<circle cx="103.41" cy="227.84" r="0.3" fill="#888"/>
<circle cx="99.62" cy="216.11" r="0.3" fill="#888"/>
<circle cx="88.43" cy="210.50" r="0.3" fill="#888"/>
<circle cx="106.51" cy="225.20" r="0.3" fill="#888"/>
<circle cx="102.97" cy="210.92" r="0.3" fill="#888"/>
<circle cx="92.36" cy="228.43" r="0.3" fill="#888"/>
<circle cx="97.27" cy="209.66" r="0.3" fill="#888"/>
<circle cx="93.17" cy="231.67" r="0.3" fill="#888"/>
<circle cx="85.33" cy="211.56" r="0.3" fill="#888"/>
<circle cx="87.55" cy="226.39" r="0.3" fill="#888"/>
<circle cx="106.53" cy="210.48" r="0.3" fill="#888"/>
<circle cx="82.46" cy="213.18" r="0.3" fill="#888"/>
<circle cx="88.43" cy="221.14" r="0.3" fill="#888"/>
<circle cx="82.63" cy="215.51" r="0.3" fill="#888"/>
<circle cx="83.62" cy="234.28" r="0.3" fill="#888"/>
<circle cx="102.51" cy="208.95" r="0.3" fill="#888"/>
<circle cx="110.68" cy="208.95" r="0.3" fill="#888"/>
<circle cx="90.45" cy="234.53" r="0.3" fill="#888"/>
<circle cx="104.82" cy="227.27" r="0.3" fill="#888"/>
<circle cx="92.22" cy="211.69" r="0.3" fill="#888"/>
<circle cx="99.33" cy="209.10" r="0.3" fill="#888"/>
<circle cx="84.23" cy="217.26" r="0.3" fill="#888"/>
<circle cx="78.19" cy="217.57" r="0.3" fill="#888"/>
<circle cx="104.69" cy="226.11" r="0.3" fill="#888"/>
<path d="M77.80,211.00 C79.57,209.17 85.05,210.03 88.00,210.00 C90.95,209.97 93.58,210.30 95.50,210.80 C97.42,211.30 98.48,212.23 99.50,213.00 C100.52,213.77 100.35,214.93 101.60,215.40 C102.85,215.87 106.08,214.20 107.00,215.80 C107.92,217.40 107.93,223.33 107.10,225.00 C106.27,226.67 103.68,225.13 102.00,225.80 C100.32,226.47 98.85,227.97 97.00,229.00 C95.15,230.03 93.90,231.33 90.90,232.00 C87.90,232.67 81.25,234.83 79.00,233.00 C76.75,231.17 77.60,224.67 77.40,221.00 C77.20,217.33 76.03,212.83 77.80,211.00 Z" fill="none" stroke="#a0a0a0" stroke-width="3.6"/>
<circle cx="90.87" cy="232.61" r="0.35" fill="#777"/>
<circle cx="78.34" cy="210.27" r="0.35" fill="#777"/>
<circle cx="107.65" cy="225.21" r="0.35" fill="#777"/>
<circle cx="104.46" cy="226.07" r="0.35" fill="#777"/>
<circle cx="77.79" cy="228.22" r="0.35" fill="#777"/>
<circle cx="76.30" cy="213.99" r="0.35" fill="#777"/>
<circle cx="76.53" cy="224.98" r="0.35" fill="#777"/>
<circle cx="78.33" cy="231.09" r="0.35" fill="#777"/>
<circle cx="106.53" cy="225.69" r="0.35" fill="#777"/>
<circle cx="94.78" cy="210.11" r="0.35" fill="#777"/>
<circle cx="104.44" cy="226.11" r="0.35" fill="#777"/>
<circle cx="107.06" cy="215.43" r="0.35" fill="#777"/>
<circle cx="83.56" cy="209.78" r="0.35" fill="#777"/>
<circle cx="76.57" cy="225.50" r="0.35" fill="#777"/>
<circle cx="78.20" cy="229.22" r="0.35" fill="#777"/>
<circle cx="97.64" cy="229.11" r="0.35" fill="#777"/>
<circle cx="105.00" cy="215.42" r="0.35" fill="#777"/>
<circle cx="100.92" cy="213.97" r="0.35" fill="#777"/>
<circle cx="85.15" cy="232.93" r="0.35" fill="#777"/>
<circle cx="100.15" cy="228.32" r="0.35" fill="#777"/>
<circle cx="107.89" cy="220.63" r="0.35" fill="#777"/>
<circle cx="101.85" cy="227.25" r="0.35" fill="#777"/>
<circle cx="105.84" cy="226.07" r="0.35" fill="#777"/>
<circle cx="77.13" cy="210.78" r="0.35" fill="#777"/>
<circle cx="79.73" cy="210.29" r="0.35" fill="#777"/>
<circle cx="77.21" cy="210.56" r="0.35" fill="#777"/>
<circle cx="104.94" cy="226.04" r="0.35" fill="#777"/>
<circle cx="87.49" cy="232.80" r="0.35" fill="#777"/>
<circle cx="76.05" cy="216.70" r="0.35" fill="#777"/>
<circle cx="102.92" cy="214.60" r="0.35" fill="#777"/>
<circle cx="101.30" cy="226.78" r="0.35" fill="#777"/>
<circle cx="94.13" cy="209.52" r="0.35" fill="#777"/>
<circle cx="99.48" cy="228.88" r="0.35" fill="#777"/>
<circle cx="97.32" cy="210.52" r="0.35" fill="#777"/>
<circle cx="105.33" cy="225.66" r="0.35" fill="#777"/>
<circle cx="92.97" cy="232.26" r="0.35" fill="#777"/>
<circle cx="101.21" cy="227.94" r="0.35" fill="#777"/>
<circle cx="106.52" cy="215.26" r="0.35" fill="#777"/>
<circle cx="104.45" cy="225.98" r="0.35" fill="#777"/>
<circle cx="77.02" cy="212.70" r="0.35" fill="#777"/>
<circle cx="77.73" cy="229.86" r="0.35" fill="#777"/>
<circle cx="104.29" cy="225.69" r="0.35" fill="#777"/>
<circle cx="107.69" cy="217.06" r="0.35" fill="#777"/>
<circle cx="108.10" cy="225.52" r="0.35" fill="#777"/>
<circle cx="107.55" cy="223.11" r="0.35" fill="#777"/>
<circle cx="107.38" cy="221.66" r="0.35" fill="#777"/>
<circle cx="79.62" cy="210.57" r="0.35" fill="#777"/>
<circle cx="103.34" cy="215.31" r="0.35" fill="#777"/>
<circle cx="99.23" cy="212.24" r="0.35" fill="#777"/>
<circle cx="100.62" cy="227.26" r="0.35" fill="#777"/>
<circle cx="103.51" cy="225.89" r="0.35" fill="#777"/>
<circle cx="76.39" cy="214.51" r="0.35" fill="#777"/>
<circle cx="76.55" cy="222.31" r="0.35" fill="#777"/>
<circle cx="77.11" cy="223.03" r="0.35" fill="#777"/>
<circle cx="77.08" cy="218.84" r="0.35" fill="#777"/>
<circle cx="98.89" cy="228.33" r="0.35" fill="#777"/>
<circle cx="89.78" cy="209.64" r="0.35" fill="#777"/>
<circle cx="97.82" cy="210.91" r="0.35" fill="#777"/>
<circle cx="99.98" cy="227.67" r="0.35" fill="#777"/>
<circle cx="101.15" cy="226.93" r="0.35" fill="#777"/>
<circle cx="80.41" cy="233.08" r="0.35" fill="#777"/>
<circle cx="108.08" cy="220.10" r="0.35" fill="#777"/>
<circle cx="77.75" cy="229.91" r="0.35" fill="#777"/>
<circle cx="106.37" cy="225.98" r="0.35" fill="#777"/>
<circle cx="89.06" cy="209.44" r="0.35" fill="#777"/>
<circle cx="78.12" cy="233.37" r="0.35" fill="#777"/>
<circle cx="76.27" cy="224.56" r="0.35" fill="#777"/>
<circle cx="91.67" cy="209.49" r="0.35" fill="#777"/>
<circle cx="95.90" cy="209.67" r="0.35" fill="#777"/>
<circle cx="78.46" cy="231.73" r="0.35" fill="#777"/>
<path d="M77.80,211.00 C79.57,209.17 85.05,210.03 88.00,210.00 C90.95,209.97 93.58,210.30 95.50,210.80 C97.42,211.30 98.48,212.23 99.50,213.00 C100.52,213.77 100.35,214.93 101.60,215.40 C102.85,215.87 106.08,214.20 107.00,215.80 C107.92,217.40 107.93,223.33 107.10,225.00 C106.27,226.67 103.68,225.13 102.00,225.80 C100.32,226.47 98.85,227.97 97.00,229.00 C95.15,230.03 93.90,231.33 90.90,232.00 C87.90,232.67 81.25,234.83 79.00,233.00 C76.75,231.17 77.60,224.67 77.40,221.00 C77.20,217.33 76.03,212.83 77.80,211.00 Z" fill="#d0d0d0" stroke="#2a2a2a" stroke-width="1.6"/>
<path d="M79.51,212.40 C81.03,210.82 85.74,211.57 88.28,211.54 C90.82,211.51 93.08,211.80 94.73,212.23 C96.38,212.66 97.30,213.46 98.17,214.12 C99.04,214.78 98.90,215.78 99.98,216.18 C101.05,216.59 103.83,215.15 104.62,216.53 C105.41,217.90 105.42,223.01 104.71,224.44 C103.99,225.87 101.77,224.55 100.32,225.13 C98.87,225.70 97.61,226.99 96.02,227.88 C94.43,228.77 93.35,229.89 90.77,230.46 C88.19,231.03 82.48,232.90 80.54,231.32 C78.61,229.74 79.34,224.15 79.16,221.00 C78.99,217.85 77.99,213.98 79.51,212.40 Z" fill="none" stroke="#666" stroke-width="0.6"/>
<path d="M81.34,213.90 C82.59,212.60 86.49,213.21 88.58,213.19 C90.67,213.17 92.54,213.40 93.91,213.76 C95.27,214.11 96.02,214.78 96.75,215.32 C97.47,215.86 97.35,216.69 98.24,217.02 C99.12,217.36 101.42,216.17 102.07,217.31 C102.72,218.44 102.73,222.66 102.14,223.84 C101.55,225.02 99.72,223.93 98.52,224.41 C97.32,224.88 96.28,225.95 94.97,226.68 C93.66,227.41 92.77,228.34 90.64,228.81 C88.51,229.28 83.79,230.82 82.19,229.52 C80.59,228.22 81.20,223.60 81.05,221.00 C80.91,218.40 80.08,215.20 81.34,213.90 Z" fill="none" stroke="#777" stroke-width="0.6"/>
<path d="M83.17,215.40 C84.16,214.37 87.23,214.86 88.88,214.84 C90.53,214.82 92.01,215.01 93.08,215.29 C94.15,215.57 94.75,216.09 95.32,216.52 C95.89,216.95 95.80,217.60 96.50,217.86 C97.20,218.13 99.01,217.19 99.52,218.09 C100.03,218.98 100.04,222.31 99.58,223.24 C99.11,224.17 97.66,223.31 96.72,223.69 C95.78,224.06 94.96,224.90 93.92,225.48 C92.88,226.06 92.18,226.79 90.50,227.16 C88.82,227.53 85.10,228.75 83.84,227.72 C82.58,226.69 83.06,223.05 82.94,221.00 C82.83,218.95 82.18,216.43 83.17,215.40 Z" fill="none" stroke="#888" stroke-width="0.6"/>
<path d="M85.00,216.90 C85.72,216.15 87.97,216.50 89.18,216.49 C90.39,216.48 91.47,216.61 92.25,216.82 C93.04,217.02 93.48,217.41 93.89,217.72 C94.31,218.03 94.24,218.51 94.76,218.70 C95.27,218.90 96.59,218.21 96.97,218.87 C97.35,219.52 97.35,221.96 97.01,222.64 C96.67,223.32 95.61,222.69 94.92,222.97 C94.23,223.24 93.63,223.86 92.87,224.28 C92.11,224.70 91.60,225.24 90.37,225.51 C89.14,225.78 86.41,226.67 85.49,225.92 C84.57,225.17 84.92,222.50 84.83,221.00 C84.75,219.50 84.27,217.65 85.00,216.90 Z" fill="none" stroke="#999" stroke-width="0.6"/>
<clipPath id="cb2"><path d="M77.80,211.00 C79.57,209.17 85.05,210.03 88.00,210.00 C90.95,209.97 93.58,210.30 95.50,210.80 C97.42,211.30 98.48,212.23 99.50,213.00 C100.52,213.77 100.35,214.93 101.60,215.40 C102.85,215.87 106.08,214.20 107.00,215.80 C107.92,217.40 107.93,223.33 107.10,225.00 C106.27,226.67 103.68,225.13 102.00,225.80 C100.32,226.47 98.85,227.97 97.00,229.00 C95.15,230.03 93.90,231.33 90.90,232.00 C87.90,232.67 81.25,234.83 79.00,233.00 C76.75,231.17 77.60,224.67 77.40,221.00 C77.20,217.33 76.03,212.83 77.80,211.00 Z"/></clipPath>
<g clip-path="url(#cb2)"><ellipse cx="92.50" cy="218.48" rx="2.03" ry="1.36" fill="none" stroke="#aaa" stroke-width="0.5"/><ellipse cx="84.25" cy="218.50" rx="1.17" ry="0.78" fill="none" stroke="#999" stroke-width="0.5"/><ellipse cx="96.19" cy="217.56" rx="2.12" ry="1.41" fill="none" stroke="#eee" stroke-width="0.5"/><ellipse cx="85.34" cy="230.70" rx="2.19" ry="1.46" fill="none" stroke="#bbb" stroke-width="0.5"/><ellipse cx="99.45" cy="224.44" rx="2.06" ry="1.37" fill="none" stroke="#bbb" stroke-width="0.5"/><ellipse cx="82.23" cy="225.55" rx="0.96" ry="0.64" fill="none" stroke="#999" stroke-width="0.5"/><ellipse cx="95.25" cy="212.76" rx="1.94" ry="1.29" fill="none" stroke="#eee" stroke-width="0.5"/><ellipse cx="90.00" cy="212.94" rx="1.25" ry="0.83" fill="none" stroke="#999" stroke-width="0.5"/><ellipse cx="79.02" cy="227.62" rx="1.53" ry="1.02" fill="none" stroke="#999" stroke-width="0.5"/><ellipse cx="95.36" cy="229.29" rx="1.76" ry="1.17" fill="none" stroke="#aaa" stroke-width="0.5"/><ellipse cx="91.79" cy="225.23" rx="1.73" ry="1.16" fill="none" stroke="#999" stroke-width="0.5"/><ellipse cx="82.68" cy="224.67" rx="1.51" ry="1.00" fill="none" stroke="#aaa" stroke-width="0.5"/><ellipse cx="80.23" cy="215.44" rx="0.81" ry="0.54" fill="none" stroke="#999" stroke-width="0.5"/><ellipse cx="98.11" cy="224.46" rx="1.36" ry="0.91" fill="none" stroke="#aaa" stroke-width="0.5"/><ellipse cx="95.30" cy="222.68" rx="1.18" ry="0.78" fill="none" stroke="#bbb" stroke-width="0.5"/><ellipse cx="82.07" cy="212.65" rx="0.78" ry="0.52" fill="none" stroke="#999" stroke-width="0.5"/><ellipse cx="88.95" cy="221.92" rx="2.11" ry="1.41" fill="none" stroke="#eee" stroke-width="0.5"/><ellipse cx="90.66" cy="229.45" rx="1.49" ry="0.99" fill="none" stroke="#999" stroke-width="0.5"/><ellipse cx="92.96" cy="223.28" rx="2.39" ry="1.59" fill="none" stroke="#aaa" stroke-width="0.5"/><ellipse cx="88.46" cy="219.84" rx="0.92" ry="0.61" fill="none" stroke="#eee" stroke-width="0.5"/><ellipse cx="82.67" cy="214.88" rx="0.78" ry="0.52" fill="none" stroke="#999" stroke-width="0.5"/><ellipse cx="78.21" cy="224.72" rx="2.38" ry="1.59" fill="none" stroke="#999" stroke-width="0.5"/><ellipse cx="82.80" cy="214.31" rx="1.53" ry="1.02" fill="none" stroke="#bbb" stroke-width="0.5"/><ellipse cx="93.83" cy="216.60" rx="1.96" ry="1.31" fill="none" stroke="#aaa" stroke-width="0.5"/><ellipse cx="98.30" cy="218.95" rx="1.98" ry="1.32" fill="none" stroke="#aaa" stroke-width="0.5"/></g>
<path d="M102.6,216.9 L106.0,216.9 L106.0,224.0 L102.6,224.4 Z" fill="#fafafa" stroke="none" stroke-width="1"/>
<ellipse cx="82.6" cy="224.6" rx="1.3" ry="1.0" fill="#fff"/>
<path d="M78.8,213 L78.6,230" stroke="#222" stroke-width="1.2"/>
<path d="M104.2,200.8 L106.6,197.0" stroke="#222" stroke-width="1.2"/>
<circle cx="107.3" cy="196.3" r="0.5" fill="#444"/>
<circle cx="159.73" cy="188.11" r="0.3" fill="#888"/>
<circle cx="155.89" cy="203.73" r="0.3" fill="#888"/>
<circle cx="149.50" cy="209.31" r="0.3" fill="#888"/>
<circle cx="141.65" cy="210.11" r="0.3" fill="#888"/>
<circle cx="159.25" cy="186.29" r="0.3" fill="#888"/>
<circle cx="132.56" cy="202.27" r="0.3" fill="#888"/>
<circle cx="163.06" cy="187.99" r="0.3" fill="#888"/>
<circle cx="143.82" cy="204.24" r="0.3" fill="#888"/>
<circle cx="138.31" cy="207.52" r="0.3" fill="#888"/>
<circle cx="150.48" cy="187.49" r="0.3" fill="#888"/>
<circle cx="145.97" cy="200.37" r="0.3" fill="#888"/>
<circle cx="148.67" cy="202.92" r="0.3" fill="#888"/>
<circle cx="137.51" cy="205.93" r="0.3" fill="#888"/>
<circle cx="145.80" cy="202.12" r="0.3" fill="#888"/>
<circle cx="155.93" cy="196.45" r="0.3" fill="#888"/>
<circle cx="146.66" cy="205.66" r="0.3" fill="#888"/>
<circle cx="167.91" cy="205.62" r="0.3" fill="#888"/>
<circle cx="153.54" cy="193.31" r="0.3" fill="#888"/>
<circle cx="134.30" cy="210.35" r="0.3" fill="#888"/>
<circle cx="158.72" cy="206.69" r="0.3" fill="#888"/>
<circle cx="144.62" cy="201.15" r="0.3" fill="#888"/>
<circle cx="169.14" cy="206.78" r="0.3" fill="#888"/>
<circle cx="154.84" cy="193.71" r="0.3" fill="#888"/>
<circle cx="148.29" cy="208.20" r="0.3" fill="#888"/>
<circle cx="146.31" cy="203.12" r="0.3" fill="#888"/>
<circle cx="154.87" cy="208.40" r="0.3" fill="#888"/>
<circle cx="162.68" cy="193.08" r="0.3" fill="#888"/>
<circle cx="132.06" cy="192.58" r="0.3" fill="#888"/>
<circle cx="148.06" cy="200.67" r="0.3" fill="#888"/>
<circle cx="163.01" cy="208.19" r="0.3" fill="#888"/>
<circle cx="133.61" cy="206.83" r="0.3" fill="#888"/>
<circle cx="162.85" cy="207.68" r="0.3" fill="#888"/>
<circle cx="153.73" cy="192.85" r="0.3" fill="#888"/>
<circle cx="164.34" cy="206.18" r="0.3" fill="#888"/>
<circle cx="158.02" cy="208.84" r="0.3" fill="#888"/>
<circle cx="145.18" cy="188.13" r="0.3" fill="#888"/>
<circle cx="153.04" cy="205.93" r="0.3" fill="#888"/>
<circle cx="139.62" cy="204.75" r="0.3" fill="#888"/>
<circle cx="167.41" cy="191.85" r="0.3" fill="#888"/>
<circle cx="155.06" cy="202.94" r="0.3" fill="#888"/>
<circle cx="149.68" cy="191.16" r="0.3" fill="#888"/>
<circle cx="141.68" cy="204.78" r="0.3" fill="#888"/>
<circle cx="162.08" cy="197.49" r="0.3" fill="#888"/>
<circle cx="135.33" cy="206.16" r="0.3" fill="#888"/>
<circle cx="161.34" cy="191.82" r="0.3" fill="#888"/>
<circle cx="154.02" cy="208.42" r="0.3" fill="#888"/>
<circle cx="165.63" cy="199.05" r="0.3" fill="#888"/>
<circle cx="150.11" cy="200.73" r="0.3" fill="#888"/>
<circle cx="139.19" cy="190.81" r="0.3" fill="#888"/>
<circle cx="138.87" cy="203.53" r="0.3" fill="#888"/>
<circle cx="145.79" cy="200.11" r="0.3" fill="#888"/>
<circle cx="147.29" cy="198.93" r="0.3" fill="#888"/>
<circle cx="137.66" cy="187.11" r="0.3" fill="#888"/>
<circle cx="169.89" cy="195.35" r="0.3" fill="#888"/>
<circle cx="136.03" cy="201.82" r="0.3" fill="#888"/>
<circle cx="161.92" cy="189.90" r="0.3" fill="#888"/>
<circle cx="154.69" cy="194.62" r="0.3" fill="#888"/>
<circle cx="151.74" cy="186.51" r="0.3" fill="#888"/>
<circle cx="133.28" cy="210.76" r="0.3" fill="#888"/>
<circle cx="164.91" cy="198.16" r="0.3" fill="#888"/>
<path d="M134.30,191.90 C135.97,190.38 140.15,189.73 143.60,189.40 C147.05,189.07 152.40,189.50 155.00,189.90 C157.60,190.30 158.12,191.08 159.20,191.80 C160.28,192.52 160.57,193.77 161.50,194.20 C162.43,194.63 164.23,193.33 164.80,194.40 C165.37,195.47 165.33,199.48 164.90,200.60 C164.47,201.72 163.43,200.27 162.20,201.10 C160.97,201.93 160.60,204.52 157.50,205.60 C154.40,206.68 147.25,207.47 143.60,207.60 C139.95,207.73 137.27,207.92 135.60,206.40 C133.93,204.88 133.82,200.92 133.60,198.50 C133.38,196.08 132.63,193.42 134.30,191.90 Z" fill="none" stroke="#aaa" stroke-width="3.6"/>
<circle cx="140.85" cy="208.42" r="0.35" fill="#777"/>
<circle cx="164.38" cy="193.86" r="0.35" fill="#777"/>
<circle cx="135.74" cy="207.45" r="0.35" fill="#777"/>
<circle cx="165.00" cy="194.19" r="0.35" fill="#777"/>
<circle cx="156.79" cy="190.35" r="0.35" fill="#777"/>
<circle cx="138.26" cy="189.77" r="0.35" fill="#777"/>
<circle cx="161.08" cy="204.06" r="0.35" fill="#777"/>
<circle cx="153.74" cy="188.74" r="0.35" fill="#777"/>
<circle cx="151.67" cy="189.34" r="0.35" fill="#777"/>
<circle cx="165.99" cy="197.92" r="0.35" fill="#777"/>
<circle cx="134.07" cy="202.55" r="0.35" fill="#777"/>
<circle cx="156.92" cy="190.12" r="0.35" fill="#777"/>
<circle cx="133.41" cy="197.03" r="0.35" fill="#777"/>
<circle cx="164.97" cy="194.30" r="0.35" fill="#777"/>
<circle cx="144.17" cy="208.57" r="0.35" fill="#777"/>
<circle cx="135.81" cy="190.87" r="0.35" fill="#777"/>
<circle cx="132.50" cy="193.93" r="0.35" fill="#777"/>
<circle cx="134.57" cy="191.40" r="0.35" fill="#777"/>
<circle cx="142.19" cy="188.73" r="0.35" fill="#777"/>
<circle cx="164.29" cy="194.09" r="0.35" fill="#777"/>
<circle cx="134.74" cy="205.89" r="0.35" fill="#777"/>
<circle cx="163.54" cy="194.06" r="0.35" fill="#777"/>
<circle cx="165.04" cy="200.82" r="0.35" fill="#777"/>
<circle cx="159.98" cy="190.73" r="0.35" fill="#777"/>
<circle cx="159.24" cy="204.70" r="0.35" fill="#777"/>
<circle cx="134.47" cy="191.00" r="0.35" fill="#777"/>
<circle cx="154.75" cy="188.53" r="0.35" fill="#777"/>
<circle cx="132.82" cy="197.58" r="0.35" fill="#777"/>
<circle cx="154.43" cy="189.11" r="0.35" fill="#777"/>
<circle cx="139.40" cy="189.84" r="0.35" fill="#777"/>
<circle cx="165.43" cy="196.35" r="0.35" fill="#777"/>
<circle cx="150.73" cy="189.23" r="0.35" fill="#777"/>
<circle cx="161.39" cy="193.36" r="0.35" fill="#777"/>
<circle cx="160.00" cy="203.88" r="0.35" fill="#777"/>
<circle cx="156.58" cy="189.71" r="0.35" fill="#777"/>
<circle cx="155.57" cy="189.01" r="0.35" fill="#777"/>
<circle cx="163.10" cy="194.12" r="0.35" fill="#777"/>
<circle cx="162.52" cy="201.91" r="0.35" fill="#777"/>
<circle cx="163.13" cy="202.18" r="0.35" fill="#777"/>
<circle cx="139.06" cy="189.60" r="0.35" fill="#777"/>
<circle cx="161.73" cy="192.54" r="0.35" fill="#777"/>
<circle cx="146.25" cy="189.04" r="0.35" fill="#777"/>
<circle cx="165.48" cy="197.05" r="0.35" fill="#777"/>
<circle cx="161.73" cy="193.88" r="0.35" fill="#777"/>
<circle cx="163.36" cy="194.14" r="0.35" fill="#777"/>
<circle cx="133.82" cy="191.89" r="0.35" fill="#777"/>
<circle cx="134.39" cy="206.92" r="0.35" fill="#777"/>
<circle cx="165.73" cy="197.56" r="0.35" fill="#777"/>
<circle cx="153.71" cy="206.92" r="0.35" fill="#777"/>
<circle cx="142.36" cy="189.22" r="0.35" fill="#777"/>
<circle cx="141.20" cy="208.40" r="0.35" fill="#777"/>
<circle cx="146.26" cy="208.25" r="0.35" fill="#777"/>
<circle cx="161.83" cy="192.65" r="0.35" fill="#777"/>
<circle cx="136.68" cy="207.44" r="0.35" fill="#777"/>
<circle cx="156.44" cy="189.36" r="0.35" fill="#777"/>
<circle cx="133.50" cy="194.25" r="0.35" fill="#777"/>
<circle cx="162.54" cy="194.13" r="0.35" fill="#777"/>
<circle cx="132.59" cy="194.87" r="0.35" fill="#777"/>
<circle cx="138.47" cy="190.23" r="0.35" fill="#777"/>
<circle cx="165.66" cy="194.02" r="0.35" fill="#777"/>
<circle cx="162.56" cy="201.80" r="0.35" fill="#777"/>
<circle cx="162.66" cy="202.13" r="0.35" fill="#777"/>
<circle cx="160.79" cy="191.50" r="0.35" fill="#777"/>
<circle cx="165.99" cy="194.36" r="0.35" fill="#777"/>
<circle cx="138.60" cy="207.07" r="0.35" fill="#777"/>
<circle cx="143.66" cy="208.75" r="0.35" fill="#777"/>
<circle cx="144.22" cy="188.49" r="0.35" fill="#777"/>
<circle cx="166.30" cy="199.40" r="0.35" fill="#777"/>
<circle cx="137.27" cy="206.91" r="0.35" fill="#777"/>
<circle cx="154.83" cy="189.00" r="0.35" fill="#777"/>
<path d="M134.30,191.90 C135.97,190.38 140.15,189.73 143.60,189.40 C147.05,189.07 152.40,189.50 155.00,189.90 C157.60,190.30 158.12,191.08 159.20,191.80 C160.28,192.52 160.57,193.77 161.50,194.20 C162.43,194.63 164.23,193.33 164.80,194.40 C165.37,195.47 165.33,199.48 164.90,200.60 C164.47,201.72 163.43,200.27 162.20,201.10 C160.97,201.93 160.60,204.52 157.50,205.60 C154.40,206.68 147.25,207.47 143.60,207.60 C139.95,207.73 137.27,207.92 135.60,206.40 C133.93,204.88 133.82,200.92 133.60,198.50 C133.38,196.08 132.63,193.42 134.30,191.90 Z" fill="#b4b4b4" stroke="#2a2a2a" stroke-width="1.6"/>
<path d="M136.08,192.75 C137.51,191.45 141.11,190.89 144.08,190.60 C147.04,190.32 151.64,190.69 153.88,191.03 C156.12,191.38 156.56,192.05 157.49,192.67 C158.42,193.28 158.67,194.36 159.47,194.73 C160.27,195.10 161.82,193.99 162.31,194.90 C162.80,195.82 162.77,199.28 162.39,200.24 C162.02,201.20 161.13,199.95 160.07,200.67 C159.01,201.38 158.70,203.60 156.03,204.54 C153.36,205.47 147.22,206.14 144.08,206.26 C140.94,206.37 138.63,206.53 137.20,205.22 C135.76,203.92 135.66,200.51 135.48,198.43 C135.29,196.35 134.64,194.06 136.08,192.75 Z" fill="none" stroke="#555" stroke-width="0.6"/>
<path d="M137.98,193.67 C139.17,192.59 142.14,192.13 144.59,191.89 C147.04,191.66 150.83,191.97 152.68,192.25 C154.53,192.53 154.89,193.09 155.66,193.60 C156.43,194.11 156.63,194.99 157.29,195.30 C157.96,195.61 159.24,194.69 159.64,195.44 C160.04,196.20 160.02,199.05 159.71,199.85 C159.40,200.64 158.67,199.61 157.79,200.20 C156.92,200.79 156.66,202.63 154.46,203.40 C152.25,204.17 147.18,204.72 144.59,204.82 C141.99,204.91 140.09,205.04 138.91,203.96 C137.72,202.89 137.64,200.07 137.49,198.35 C137.33,196.64 136.80,194.75 137.98,193.67 Z" fill="none" stroke="#666" stroke-width="0.6"/>
<clipPath id="cb3"><path d="M134.30,191.90 C135.97,190.38 140.15,189.73 143.60,189.40 C147.05,189.07 152.40,189.50 155.00,189.90 C157.60,190.30 158.12,191.08 159.20,191.80 C160.28,192.52 160.57,193.77 161.50,194.20 C162.43,194.63 164.23,193.33 164.80,194.40 C165.37,195.47 165.33,199.48 164.90,200.60 C164.47,201.72 163.43,200.27 162.20,201.10 C160.97,201.93 160.60,204.52 157.50,205.60 C154.40,206.68 147.25,207.47 143.60,207.60 C139.95,207.73 137.27,207.92 135.60,206.40 C133.93,204.88 133.82,200.92 133.60,198.50 C133.38,196.08 132.63,193.42 134.30,191.90 Z"/></clipPath>
<g clip-path="url(#cb3)"><ellipse cx="147.35" cy="199.02" rx="1.64" ry="1.09" fill="none" stroke="#333" stroke-width="0.5"/><ellipse cx="140.33" cy="191.51" rx="1.77" ry="1.18" fill="none" stroke="#555" stroke-width="0.5"/><ellipse cx="136.67" cy="194.26" rx="2.10" ry="1.40" fill="none" stroke="#333" stroke-width="0.5"/><ellipse cx="134.51" cy="205.75" rx="1.97" ry="1.31" fill="none" stroke="#666" stroke-width="0.5"/><ellipse cx="134.46" cy="200.19" rx="1.70" ry="1.13" fill="none" stroke="#eee" stroke-width="0.5"/><ellipse cx="140.20" cy="197.55" rx="1.33" ry="0.89" fill="none" stroke="#333" stroke-width="0.5"/><ellipse cx="152.64" cy="190.77" rx="0.95" ry="0.64" fill="none" stroke="#ddd" stroke-width="0.5"/><ellipse cx="149.23" cy="202.95" rx="0.93" ry="0.62" fill="none" stroke="#333" stroke-width="0.5"/><ellipse cx="144.55" cy="192.33" rx="1.73" ry="1.15" fill="none" stroke="#555" stroke-width="0.5"/><ellipse cx="137.83" cy="199.74" rx="1.98" ry="1.32" fill="none" stroke="#555" stroke-width="0.5"/><ellipse cx="158.65" cy="190.31" rx="1.80" ry="1.20" fill="none" stroke="#fff" stroke-width="0.5"/><ellipse cx="144.93" cy="204.28" rx="1.62" ry="1.08" fill="none" stroke="#ddd" stroke-width="0.5"/><ellipse cx="159.23" cy="190.88" rx="1.35" ry="0.90" fill="none" stroke="#ddd" stroke-width="0.5"/><ellipse cx="140.25" cy="195.70" rx="1.47" ry="0.98" fill="none" stroke="#eee" stroke-width="0.5"/><ellipse cx="154.91" cy="205.52" rx="2.09" ry="1.40" fill="none" stroke="#eee" stroke-width="0.5"/><ellipse cx="135.39" cy="198.80" rx="2.33" ry="1.55" fill="none" stroke="#666" stroke-width="0.5"/><ellipse cx="140.48" cy="197.18" rx="1.79" ry="1.20" fill="none" stroke="#666" stroke-width="0.5"/><ellipse cx="136.83" cy="193.19" rx="1.29" ry="0.86" fill="none" stroke="#555" stroke-width="0.5"/><ellipse cx="147.12" cy="190.35" rx="0.98" ry="0.65" fill="none" stroke="#ddd" stroke-width="0.5"/><ellipse cx="154.19" cy="205.93" rx="1.79" ry="1.20" fill="none" stroke="#333" stroke-width="0.5"/><ellipse cx="134.89" cy="200.91" rx="1.19" ry="0.79" fill="none" stroke="#fff" stroke-width="0.5"/><ellipse cx="150.21" cy="200.68" rx="2.08" ry="1.39" fill="none" stroke="#333" stroke-width="0.5"/><ellipse cx="150.15" cy="194.26" rx="1.61" ry="1.07" fill="none" stroke="#ddd" stroke-width="0.5"/><ellipse cx="140.15" cy="190.67" rx="0.94" ry="0.62" fill="none" stroke="#666" stroke-width="0.5"/><ellipse cx="150.84" cy="192.05" rx="1.73" ry="1.15" fill="none" stroke="#eee" stroke-width="0.5"/><ellipse cx="157.44" cy="191.44" rx="1.72" ry="1.15" fill="none" stroke="#555" stroke-width="0.5"/><ellipse cx="145.44" cy="198.70" rx="2.21" ry="1.47" fill="none" stroke="#ddd" stroke-width="0.5"/><ellipse cx="149.01" cy="194.66" rx="1.96" ry="1.31" fill="none" stroke="#fff" stroke-width="0.5"/><ellipse cx="148.20" cy="204.28" rx="1.76" ry="1.17" fill="none" stroke="#eee" stroke-width="0.5"/><ellipse cx="139.76" cy="196.57" rx="1.66" ry="1.10" fill="none" stroke="#666" stroke-width="0.5"/><ellipse cx="145.98" cy="199.32" rx="1.76" ry="1.17" fill="none" stroke="#ddd" stroke-width="0.5"/><ellipse cx="155.29" cy="190.53" rx="1.30" ry="0.87" fill="none" stroke="#555" stroke-width="0.5"/><ellipse cx="147.32" cy="196.51" rx="1.72" ry="1.14" fill="none" stroke="#333" stroke-width="0.5"/><ellipse cx="158.03" cy="192.76" rx="2.32" ry="1.55" fill="none" stroke="#666" stroke-width="0.5"/><ellipse cx="148.47" cy="198.35" rx="1.22" ry="0.81" fill="none" stroke="#555" stroke-width="0.5"/><ellipse cx="141.68" cy="203.13" rx="1.01" ry="0.67" fill="none" stroke="#333" stroke-width="0.5"/><ellipse cx="149.75" cy="195.92" rx="1.84" ry="1.22" fill="none" stroke="#eee" stroke-width="0.5"/><ellipse cx="144.09" cy="197.48" rx="1.96" ry="1.31" fill="none" stroke="#333" stroke-width="0.5"/><ellipse cx="147.54" cy="206.82" rx="1.87" ry="1.25" fill="none" stroke="#555" stroke-width="0.5"/><ellipse cx="144.84" cy="201.36" rx="0.98" ry="0.65" fill="none" stroke="#555" stroke-width="0.5"/><ellipse cx="150.02" cy="204.45" rx="2.10" ry="1.40" fill="none" stroke="#eee" stroke-width="0.5"/><ellipse cx="136.47" cy="204.56" rx="2.27" ry="1.51" fill="none" stroke="#ddd" stroke-width="0.5"/><ellipse cx="140.99" cy="200.72" rx="1.79" ry="1.20" fill="none" stroke="#fff" stroke-width="0.5"/><ellipse cx="137.31" cy="204.80" rx="0.76" ry="0.50" fill="none" stroke="#eee" stroke-width="0.5"/><ellipse cx="149.23" cy="198.46" rx="2.34" ry="1.56" fill="none" stroke="#eee" stroke-width="0.5"/></g>
<path d="M161.8,195.4 L164.0,195.4 L164.0,199.8 L161.8,200.2 Z" fill="#fafafa" stroke="none" stroke-width="1"/>
<path d="M163.3,174.2 l1.8,-0.3" stroke="#444" stroke-width="0.6"/>
<circle cx="188.79" cy="206.40" r="0.3" fill="#999"/>
<circle cx="192.94" cy="200.91" r="0.3" fill="#999"/>
<circle cx="187.55" cy="206.44" r="0.3" fill="#999"/>
<circle cx="206.16" cy="192.91" r="0.3" fill="#999"/>
<circle cx="195.28" cy="194.47" r="0.3" fill="#999"/>
<circle cx="200.84" cy="200.29" r="0.3" fill="#999"/>
<circle cx="204.74" cy="186.16" r="0.3" fill="#999"/>
<circle cx="207.86" cy="209.75" r="0.3" fill="#999"/>
<circle cx="196.18" cy="193.20" r="0.3" fill="#999"/>
<circle cx="201.18" cy="205.27" r="0.3" fill="#999"/>
<circle cx="197.94" cy="195.05" r="0.3" fill="#999"/>
<circle cx="191.42" cy="205.72" r="0.3" fill="#999"/>
<circle cx="194.56" cy="209.25" r="0.3" fill="#999"/>
<circle cx="203.46" cy="191.82" r="0.3" fill="#999"/>
<circle cx="194.43" cy="209.33" r="0.3" fill="#999"/>
<circle cx="212.52" cy="208.94" r="0.3" fill="#999"/>
<circle cx="184.82" cy="192.16" r="0.3" fill="#999"/>
<circle cx="212.67" cy="193.20" r="0.3" fill="#999"/>
<circle cx="201.17" cy="193.50" r="0.3" fill="#999"/>
<circle cx="203.84" cy="196.49" r="0.3" fill="#999"/>
<circle cx="210.42" cy="203.45" r="0.3" fill="#999"/>
<circle cx="197.76" cy="197.14" r="0.3" fill="#999"/>
<circle cx="185.30" cy="202.23" r="0.3" fill="#999"/>
<circle cx="198.50" cy="186.25" r="0.3" fill="#999"/>
<circle cx="186.18" cy="191.50" r="0.3" fill="#999"/>
<circle cx="197.10" cy="198.02" r="0.3" fill="#999"/>
<circle cx="204.75" cy="208.28" r="0.3" fill="#999"/>
<circle cx="188.94" cy="190.52" r="0.3" fill="#999"/>
<circle cx="197.48" cy="195.64" r="0.3" fill="#999"/>
<circle cx="208.55" cy="207.58" r="0.3" fill="#999"/>
<circle cx="202.80" cy="202.60" r="0.3" fill="#999"/>
<circle cx="207.89" cy="188.21" r="0.3" fill="#999"/>
<circle cx="195.61" cy="194.80" r="0.3" fill="#999"/>
<circle cx="186.40" cy="193.46" r="0.3" fill="#999"/>
<circle cx="189.62" cy="201.74" r="0.3" fill="#999"/>
<circle cx="193.44" cy="194.24" r="0.3" fill="#999"/>
<circle cx="213.93" cy="198.21" r="0.3" fill="#999"/>
<circle cx="215.08" cy="201.15" r="0.3" fill="#999"/>
<circle cx="200.77" cy="205.59" r="0.3" fill="#999"/>
<circle cx="190.65" cy="207.44" r="0.3" fill="#999"/>
<circle cx="197.19" cy="187.44" r="0.3" fill="#999"/>
<circle cx="202.08" cy="188.56" r="0.3" fill="#999"/>
<circle cx="202.24" cy="201.15" r="0.3" fill="#999"/>
<circle cx="207.13" cy="202.60" r="0.3" fill="#999"/>
<circle cx="184.34" cy="186.07" r="0.3" fill="#999"/>
<circle cx="206.74" cy="199.27" r="0.3" fill="#999"/>
<circle cx="213.35" cy="195.54" r="0.3" fill="#999"/>
<circle cx="187.15" cy="186.37" r="0.3" fill="#999"/>
<circle cx="184.95" cy="190.20" r="0.3" fill="#999"/>
<circle cx="208.61" cy="199.61" r="0.3" fill="#999"/>
<path d="M185.60,191.20 C187.10,189.77 191.45,190.50 194.00,190.40 C196.55,190.30 199.03,190.43 200.90,190.60 C202.77,190.77 203.98,191.07 205.20,191.40 C206.42,191.73 206.93,192.33 208.20,192.60 C209.47,192.87 212.02,191.47 212.80,193.00 C213.58,194.53 213.78,200.12 212.90,201.80 C212.02,203.48 209.65,202.40 207.50,203.10 C205.35,203.80 202.20,205.25 200.00,206.00 C197.80,206.75 196.70,207.42 194.30,207.60 C191.90,207.78 187.15,208.53 185.60,207.10 C184.05,205.67 185.00,201.65 185.00,199.00 C185.00,196.35 184.10,192.63 185.60,191.20 Z" fill="none" stroke="#aaa" stroke-width="3.6"/>
<circle cx="184.10" cy="199.98" r="0.35" fill="#777"/>
<circle cx="203.80" cy="190.34" r="0.35" fill="#777"/>
<circle cx="194.51" cy="189.59" r="0.35" fill="#777"/>
<circle cx="199.40" cy="206.60" r="0.35" fill="#777"/>
<circle cx="205.59" cy="190.65" r="0.35" fill="#777"/>
<circle cx="203.51" cy="206.08" r="0.35" fill="#777"/>
<circle cx="190.16" cy="189.90" r="0.35" fill="#777"/>
<circle cx="190.71" cy="208.39" r="0.35" fill="#777"/>
<circle cx="213.17" cy="195.36" r="0.35" fill="#777"/>
<circle cx="184.28" cy="207.07" r="0.35" fill="#777"/>
<circle cx="193.48" cy="208.05" r="0.35" fill="#777"/>
<circle cx="190.70" cy="207.69" r="0.35" fill="#777"/>
<circle cx="211.16" cy="203.20" r="0.35" fill="#777"/>
<circle cx="207.59" cy="203.61" r="0.35" fill="#777"/>
<circle cx="206.37" cy="190.35" r="0.35" fill="#777"/>
<circle cx="202.82" cy="189.50" r="0.35" fill="#777"/>
<circle cx="205.97" cy="204.76" r="0.35" fill="#777"/>
<circle cx="200.19" cy="206.33" r="0.35" fill="#777"/>
<circle cx="184.24" cy="204.44" r="0.35" fill="#777"/>
<circle cx="207.07" cy="191.37" r="0.35" fill="#777"/>
<circle cx="183.98" cy="194.98" r="0.35" fill="#777"/>
<circle cx="205.83" cy="191.13" r="0.35" fill="#777"/>
<circle cx="213.37" cy="202.54" r="0.35" fill="#777"/>
<circle cx="210.72" cy="192.43" r="0.35" fill="#777"/>
<circle cx="213.65" cy="197.69" r="0.35" fill="#777"/>
<circle cx="210.78" cy="203.32" r="0.35" fill="#777"/>
<circle cx="209.10" cy="203.24" r="0.35" fill="#777"/>
<circle cx="207.05" cy="191.28" r="0.35" fill="#777"/>
<circle cx="213.16" cy="195.02" r="0.35" fill="#777"/>
<circle cx="184.46" cy="207.64" r="0.35" fill="#777"/>
<circle cx="207.66" cy="192.01" r="0.35" fill="#777"/>
<circle cx="211.92" cy="192.29" r="0.35" fill="#777"/>
<circle cx="197.19" cy="208.07" r="0.35" fill="#777"/>
<circle cx="206.22" cy="191.06" r="0.35" fill="#777"/>
<circle cx="184.14" cy="195.68" r="0.35" fill="#777"/>
<circle cx="191.60" cy="208.75" r="0.35" fill="#777"/>
<circle cx="198.75" cy="207.74" r="0.35" fill="#777"/>
<circle cx="184.47" cy="206.66" r="0.35" fill="#777"/>
<circle cx="211.74" cy="192.49" r="0.35" fill="#777"/>
<circle cx="213.68" cy="197.70" r="0.35" fill="#777"/>
<circle cx="198.70" cy="207.77" r="0.35" fill="#777"/>
<circle cx="198.64" cy="190.12" r="0.35" fill="#777"/>
<circle cx="212.79" cy="192.41" r="0.35" fill="#777"/>
<circle cx="190.34" cy="189.99" r="0.35" fill="#777"/>
<circle cx="209.33" cy="191.99" r="0.35" fill="#777"/>
<circle cx="183.70" cy="197.60" r="0.35" fill="#777"/>
<circle cx="214.24" cy="194.32" r="0.35" fill="#777"/>
<circle cx="197.73" cy="189.76" r="0.35" fill="#777"/>
<circle cx="195.48" cy="207.73" r="0.35" fill="#777"/>
<circle cx="184.59" cy="196.52" r="0.35" fill="#777"/>
<circle cx="204.91" cy="190.61" r="0.35" fill="#777"/>
<circle cx="214.32" cy="196.41" r="0.35" fill="#777"/>
<circle cx="183.67" cy="200.16" r="0.35" fill="#777"/>
<circle cx="205.27" cy="190.95" r="0.35" fill="#777"/>
<circle cx="214.03" cy="199.08" r="0.35" fill="#777"/>
<circle cx="213.21" cy="200.97" r="0.35" fill="#777"/>
<circle cx="184.82" cy="193.36" r="0.35" fill="#777"/>
<circle cx="212.04" cy="202.66" r="0.35" fill="#777"/>
<circle cx="202.40" cy="190.23" r="0.35" fill="#777"/>
<circle cx="186.97" cy="208.01" r="0.35" fill="#777"/>
<circle cx="188.09" cy="190.27" r="0.35" fill="#777"/>
<circle cx="212.49" cy="202.28" r="0.35" fill="#777"/>
<circle cx="209.82" cy="203.23" r="0.35" fill="#777"/>
<circle cx="184.70" cy="202.08" r="0.35" fill="#777"/>
<circle cx="207.89" cy="191.34" r="0.35" fill="#777"/>
<circle cx="213.56" cy="192.56" r="0.35" fill="#777"/>
<circle cx="191.07" cy="207.66" r="0.35" fill="#777"/>
<circle cx="185.11" cy="204.94" r="0.35" fill="#777"/>
<circle cx="188.75" cy="207.54" r="0.35" fill="#777"/>
<circle cx="207.53" cy="192.02" r="0.35" fill="#777"/>
<path d="M185.60,191.20 C187.10,189.77 191.45,190.50 194.00,190.40 C196.55,190.30 199.03,190.43 200.90,190.60 C202.77,190.77 203.98,191.07 205.20,191.40 C206.42,191.73 206.93,192.33 208.20,192.60 C209.47,192.87 212.02,191.47 212.80,193.00 C213.58,194.53 213.78,200.12 212.90,201.80 C212.02,203.48 209.65,202.40 207.50,203.10 C205.35,203.80 202.20,205.25 200.00,206.00 C197.80,206.75 196.70,207.42 194.30,207.60 C191.90,207.78 187.15,208.53 185.60,207.10 C184.05,205.67 185.00,201.65 185.00,199.00 C185.00,196.35 184.10,192.63 185.60,191.20 Z" fill="#cacaca" stroke="#2a2a2a" stroke-width="1.6"/>
<path d="M187.20,192.29 C188.49,191.06 192.23,191.69 194.42,191.60 C196.61,191.52 198.75,191.63 200.35,191.78 C201.96,191.92 203.01,192.18 204.05,192.46 C205.10,192.75 205.54,193.27 206.63,193.50 C207.72,193.73 209.91,192.52 210.59,193.84 C211.26,195.16 211.43,199.96 210.67,201.41 C209.91,202.86 207.88,201.92 206.03,202.53 C204.18,203.13 201.47,204.38 199.58,205.02 C197.69,205.67 196.74,206.24 194.68,206.40 C192.61,206.55 188.53,207.20 187.20,205.97 C185.86,204.73 186.68,201.28 186.68,199.00 C186.68,196.72 185.91,193.52 187.20,192.29 Z" fill="none" stroke="#888" stroke-width="0.6"/>
<path d="M188.91,193.46 C189.97,192.44 193.06,192.97 194.87,192.89 C196.68,192.82 198.44,192.92 199.77,193.04 C201.09,193.15 201.96,193.37 202.82,193.60 C203.69,193.84 204.05,194.27 204.95,194.46 C205.85,194.65 207.66,193.65 208.22,194.74 C208.77,195.83 208.92,199.79 208.29,200.99 C207.66,202.18 205.98,201.41 204.46,201.91 C202.93,202.41 200.69,203.44 199.13,203.97 C197.57,204.50 196.79,204.98 195.08,205.11 C193.38,205.24 190.01,205.77 188.91,204.75 C187.81,203.73 188.48,200.88 188.48,199.00 C188.48,197.12 187.84,194.48 188.91,193.46 Z" fill="none" stroke="#999" stroke-width="0.6"/>
<clipPath id="cb4"><path d="M185.60,191.20 C187.10,189.77 191.45,190.50 194.00,190.40 C196.55,190.30 199.03,190.43 200.90,190.60 C202.77,190.77 203.98,191.07 205.20,191.40 C206.42,191.73 206.93,192.33 208.20,192.60 C209.47,192.87 212.02,191.47 212.80,193.00 C213.58,194.53 213.78,200.12 212.90,201.80 C212.02,203.48 209.65,202.40 207.50,203.10 C205.35,203.80 202.20,205.25 200.00,206.00 C197.80,206.75 196.70,207.42 194.30,207.60 C191.90,207.78 187.15,208.53 185.60,207.10 C184.05,205.67 185.00,201.65 185.00,199.00 C185.00,196.35 184.10,192.63 185.60,191.20 Z"/></clipPath>
<g clip-path="url(#cb4)"><ellipse cx="193.01" cy="203.43" rx="1.32" ry="0.88" fill="none" stroke="#777" stroke-width="0.5"/><ellipse cx="195.18" cy="202.90" rx="2.40" ry="1.60" fill="none" stroke="#999" stroke-width="0.5"/><ellipse cx="192.19" cy="192.44" rx="2.31" ry="1.54" fill="none" stroke="#eee" stroke-width="0.5"/><ellipse cx="195.74" cy="196.44" rx="1.58" ry="1.05" fill="none" stroke="#eee" stroke-width="0.5"/><ellipse cx="197.19" cy="201.83" rx="1.09" ry="0.73" fill="none" stroke="#999" stroke-width="0.5"/><ellipse cx="196.77" cy="194.03" rx="2.32" ry="1.55" fill="none" stroke="#bbb" stroke-width="0.5"/><ellipse cx="189.84" cy="193.62" rx="2.04" ry="1.36" fill="none" stroke="#999" stroke-width="0.5"/><ellipse cx="197.97" cy="195.00" rx="0.85" ry="0.57" fill="none" stroke="#bbb" stroke-width="0.5"/><ellipse cx="193.64" cy="192.48" rx="1.80" ry="1.20" fill="none" stroke="#999" stroke-width="0.5"/><ellipse cx="189.00" cy="202.31" rx="1.86" ry="1.24" fill="none" stroke="#999" stroke-width="0.5"/><ellipse cx="201.52" cy="191.09" rx="1.89" ry="1.26" fill="none" stroke="#999" stroke-width="0.5"/><ellipse cx="206.59" cy="196.62" rx="1.24" ry="0.83" fill="none" stroke="#999" stroke-width="0.5"/><ellipse cx="198.93" cy="194.85" rx="1.79" ry="1.19" fill="none" stroke="#777" stroke-width="0.5"/><ellipse cx="198.06" cy="203.17" rx="1.03" ry="0.69" fill="none" stroke="#999" stroke-width="0.5"/><ellipse cx="199.17" cy="198.38" rx="2.01" ry="1.34" fill="none" stroke="#999" stroke-width="0.5"/><ellipse cx="188.52" cy="195.63" rx="1.34" ry="0.90" fill="none" stroke="#999" stroke-width="0.5"/><ellipse cx="186.95" cy="205.33" rx="1.25" ry="0.83" fill="none" stroke="#777" stroke-width="0.5"/><ellipse cx="201.44" cy="198.17" rx="0.94" ry="0.62" fill="none" stroke="#bbb" stroke-width="0.5"/><ellipse cx="195.79" cy="200.11" rx="1.23" ry="0.82" fill="none" stroke="#777" stroke-width="0.5"/><ellipse cx="187.00" cy="198.50" rx="2.37" ry="1.58" fill="none" stroke="#eee" stroke-width="0.5"/><ellipse cx="187.85" cy="202.47" rx="2.37" ry="1.58" fill="none" stroke="#bbb" stroke-width="0.5"/><ellipse cx="188.39" cy="198.82" rx="1.47" ry="0.98" fill="none" stroke="#999" stroke-width="0.5"/><ellipse cx="203.25" cy="196.15" rx="1.34" ry="0.90" fill="none" stroke="#777" stroke-width="0.5"/><ellipse cx="200.18" cy="201.04" rx="2.29" ry="1.53" fill="none" stroke="#bbb" stroke-width="0.5"/><ellipse cx="200.37" cy="192.25" rx="1.98" ry="1.32" fill="none" stroke="#777" stroke-width="0.5"/><ellipse cx="203.04" cy="204.43" rx="1.24" ry="0.83" fill="none" stroke="#999" stroke-width="0.5"/><ellipse cx="207.16" cy="199.41" rx="2.23" ry="1.49" fill="none" stroke="#999" stroke-width="0.5"/><ellipse cx="188.25" cy="202.50" rx="1.26" ry="0.84" fill="none" stroke="#bbb" stroke-width="0.5"/><ellipse cx="194.35" cy="201.36" rx="1.34" ry="0.89" fill="none" stroke="#999" stroke-width="0.5"/><ellipse cx="194.11" cy="199.82" rx="1.36" ry="0.91" fill="none" stroke="#bbb" stroke-width="0.5"/></g>
<path d="M208.6,194.2 L212.0,194.0 L212.0,201.0 L208.6,201.6 Z" fill="#f6f6f6" stroke="none" stroke-width="1"/>
<path d="M186.6,192.5 L186.6,206.4" stroke="#111" stroke-width="2.2"/>
<path d="M211.2,179.0 L212.4,177.2" stroke="#444" stroke-width="0.7"/>
<circle cx="142.34" cy="240.95" r="0.35" fill="#888"/>
<circle cx="155.11" cy="254.45" r="0.35" fill="#888"/>
<circle cx="164.97" cy="256.23" r="0.35" fill="#888"/>
<circle cx="168.30" cy="261.73" r="0.35" fill="#888"/>
<circle cx="152.28" cy="251.49" r="0.35" fill="#888"/>
<circle cx="139.14" cy="246.89" r="0.35" fill="#888"/>
<circle cx="155.66" cy="241.85" r="0.35" fill="#888"/>
<circle cx="159.83" cy="243.76" r="0.35" fill="#888"/>
<circle cx="150.28" cy="262.31" r="0.35" fill="#888"/>
<circle cx="136.50" cy="240.92" r="0.35" fill="#888"/>
<circle cx="150.14" cy="244.39" r="0.35" fill="#888"/>
<circle cx="161.20" cy="240.06" r="0.35" fill="#888"/>
<circle cx="165.79" cy="259.67" r="0.35" fill="#888"/>
<circle cx="163.69" cy="249.79" r="0.35" fill="#888"/>
<circle cx="144.05" cy="255.22" r="0.35" fill="#888"/>
<circle cx="153.07" cy="249.69" r="0.35" fill="#888"/>
<circle cx="146.21" cy="250.09" r="0.35" fill="#888"/>
<circle cx="158.98" cy="259.00" r="0.35" fill="#888"/>
<circle cx="168.26" cy="243.78" r="0.35" fill="#888"/>
<circle cx="144.53" cy="250.19" r="0.35" fill="#888"/>
<circle cx="154.97" cy="248.01" r="0.35" fill="#888"/>
<circle cx="140.62" cy="241.96" r="0.35" fill="#888"/>
<circle cx="145.62" cy="250.59" r="0.35" fill="#888"/>
<circle cx="170.88" cy="260.90" r="0.35" fill="#888"/>
<circle cx="166.75" cy="262.41" r="0.35" fill="#888"/>
<circle cx="170.51" cy="254.26" r="0.35" fill="#888"/>
<circle cx="164.63" cy="241.38" r="0.35" fill="#888"/>
<circle cx="159.38" cy="254.01" r="0.35" fill="#888"/>
<circle cx="144.58" cy="253.14" r="0.35" fill="#888"/>
<circle cx="170.16" cy="251.06" r="0.35" fill="#888"/>
<circle cx="158.25" cy="246.88" r="0.35" fill="#888"/>
<circle cx="146.39" cy="260.36" r="0.35" fill="#888"/>
<circle cx="134.09" cy="244.34" r="0.35" fill="#888"/>
<circle cx="159.47" cy="250.29" r="0.35" fill="#888"/>
<circle cx="136.32" cy="255.19" r="0.35" fill="#888"/>
<circle cx="147.51" cy="253.36" r="0.35" fill="#888"/>
<circle cx="149.24" cy="252.19" r="0.35" fill="#888"/>
<circle cx="155.03" cy="249.12" r="0.35" fill="#888"/>
<circle cx="137.46" cy="244.15" r="0.35" fill="#888"/>
<circle cx="167.71" cy="252.61" r="0.35" fill="#888"/>
<circle cx="137.38" cy="259.83" r="0.35" fill="#888"/>
<circle cx="142.89" cy="242.18" r="0.35" fill="#888"/>
<circle cx="153.70" cy="245.79" r="0.35" fill="#888"/>
<circle cx="152.08" cy="252.74" r="0.35" fill="#888"/>
<circle cx="141.84" cy="253.17" r="0.35" fill="#888"/>
<circle cx="137.41" cy="251.80" r="0.35" fill="#888"/>
<circle cx="155.95" cy="241.85" r="0.35" fill="#888"/>
<circle cx="148.91" cy="241.69" r="0.35" fill="#888"/>
<circle cx="150.14" cy="259.86" r="0.35" fill="#888"/>
<circle cx="154.47" cy="256.44" r="0.35" fill="#888"/>
<circle cx="162.52" cy="242.64" r="0.35" fill="#888"/>
<circle cx="171.64" cy="256.60" r="0.35" fill="#888"/>
<circle cx="136.98" cy="259.09" r="0.35" fill="#888"/>
<circle cx="148.29" cy="243.94" r="0.35" fill="#888"/>
<circle cx="170.44" cy="252.95" r="0.35" fill="#888"/>
<circle cx="163.22" cy="243.15" r="0.35" fill="#888"/>
<circle cx="163.27" cy="241.32" r="0.35" fill="#888"/>
<circle cx="142.24" cy="248.56" r="0.35" fill="#888"/>
<circle cx="133.59" cy="253.67" r="0.35" fill="#888"/>
<circle cx="141.31" cy="246.90" r="0.35" fill="#888"/>
<path d="M135.00,251.50 C135.08,249.50 136.17,247.15 137.50,246.00 C138.83,244.85 141.25,244.60 143.00,244.60 C144.75,244.60 146.50,246.00 148.00,246.00 C149.50,246.00 150.67,245.07 152.00,244.60 C153.33,244.13 154.67,243.37 156.00,243.20 C157.33,243.03 158.58,243.22 160.00,243.60 C161.42,243.98 163.25,244.43 164.50,245.50 C165.75,246.57 167.25,248.33 167.50,250.00 C167.75,251.67 167.25,254.03 166.00,255.50 C164.75,256.97 162.33,258.18 160.00,258.80 C157.67,259.42 154.67,259.10 152.00,259.20 C149.33,259.30 146.50,259.60 144.00,259.40 C141.50,259.20 138.50,259.32 137.00,258.00 C135.50,256.68 134.92,253.50 135.00,251.50 Z" fill="none" stroke="#aaa" stroke-width="2.6"/>
<circle cx="150.80" cy="260.70" r="0.35" fill="#777"/>
<circle cx="139.63" cy="244.49" r="0.35" fill="#777"/>
<circle cx="166.47" cy="256.34" r="0.35" fill="#777"/>
<circle cx="157.41" cy="242.23" r="0.35" fill="#777"/>
<circle cx="160.15" cy="242.68" r="0.35" fill="#777"/>
<circle cx="136.62" cy="246.85" r="0.35" fill="#777"/>
<circle cx="158.72" cy="242.68" r="0.35" fill="#777"/>
<circle cx="159.15" cy="243.24" r="0.35" fill="#777"/>
<circle cx="164.56" cy="257.01" r="0.35" fill="#777"/>
<circle cx="159.54" cy="243.22" r="0.35" fill="#777"/>
<circle cx="158.52" cy="259.50" r="0.35" fill="#777"/>
<circle cx="147.96" cy="260.60" r="0.35" fill="#777"/>
<circle cx="164.52" cy="257.60" r="0.35" fill="#777"/>
<circle cx="166.10" cy="245.57" r="0.35" fill="#777"/>
<circle cx="142.52" cy="243.93" r="0.35" fill="#777"/>
<circle cx="134.85" cy="253.69" r="0.35" fill="#777"/>
<circle cx="145.47" cy="245.01" r="0.35" fill="#777"/>
<circle cx="145.56" cy="259.90" r="0.35" fill="#777"/>
<circle cx="165.24" cy="245.30" r="0.35" fill="#777"/>
<circle cx="144.72" cy="244.69" r="0.35" fill="#777"/>
<circle cx="136.66" cy="247.02" r="0.35" fill="#777"/>
<circle cx="145.26" cy="244.71" r="0.35" fill="#777"/>
<circle cx="164.46" cy="257.23" r="0.35" fill="#777"/>
<circle cx="145.82" cy="244.96" r="0.35" fill="#777"/>
<circle cx="151.47" cy="243.68" r="0.35" fill="#777"/>
<circle cx="138.57" cy="245.12" r="0.35" fill="#777"/>
<circle cx="156.10" cy="242.42" r="0.35" fill="#777"/>
<circle cx="134.16" cy="250.33" r="0.35" fill="#777"/>
<circle cx="147.89" cy="260.28" r="0.35" fill="#777"/>
<circle cx="164.88" cy="245.12" r="0.35" fill="#777"/>
<circle cx="158.82" cy="242.90" r="0.35" fill="#777"/>
<circle cx="134.18" cy="250.11" r="0.35" fill="#777"/>
<circle cx="166.19" cy="255.82" r="0.35" fill="#777"/>
<circle cx="159.37" cy="259.46" r="0.35" fill="#777"/>
<circle cx="139.67" cy="245.04" r="0.35" fill="#777"/>
<circle cx="163.45" cy="257.96" r="0.35" fill="#777"/>
<circle cx="147.74" cy="245.72" r="0.35" fill="#777"/>
<circle cx="166.55" cy="255.09" r="0.35" fill="#777"/>
<circle cx="150.99" cy="243.80" r="0.35" fill="#777"/>
<circle cx="160.10" cy="259.83" r="0.35" fill="#777"/>
<circle cx="137.20" cy="259.02" r="0.35" fill="#777"/>
<circle cx="145.90" cy="245.08" r="0.35" fill="#777"/>
<circle cx="141.02" cy="259.42" r="0.35" fill="#777"/>
<circle cx="134.99" cy="254.03" r="0.35" fill="#777"/>
<circle cx="167.14" cy="254.11" r="0.35" fill="#777"/>
<circle cx="149.12" cy="259.96" r="0.35" fill="#777"/>
<circle cx="140.01" cy="259.20" r="0.35" fill="#777"/>
<circle cx="151.13" cy="243.28" r="0.35" fill="#777"/>
<circle cx="143.43" cy="244.61" r="0.35" fill="#777"/>
<circle cx="134.85" cy="253.80" r="0.35" fill="#777"/>
<circle cx="163.17" cy="244.36" r="0.35" fill="#777"/>
<circle cx="145.57" cy="245.10" r="0.35" fill="#777"/>
<circle cx="149.25" cy="260.47" r="0.35" fill="#777"/>
<circle cx="168.03" cy="253.95" r="0.35" fill="#777"/>
<circle cx="141.67" cy="244.15" r="0.35" fill="#777"/>
<circle cx="140.09" cy="244.88" r="0.35" fill="#777"/>
<circle cx="160.54" cy="243.11" r="0.35" fill="#777"/>
<circle cx="138.13" cy="259.10" r="0.35" fill="#777"/>
<circle cx="141.50" cy="244.46" r="0.35" fill="#777"/>
<circle cx="143.87" cy="244.60" r="0.35" fill="#777"/>
<path d="M135.00,251.50 C135.08,249.50 136.17,247.15 137.50,246.00 C138.83,244.85 141.25,244.60 143.00,244.60 C144.75,244.60 146.50,246.00 148.00,246.00 C149.50,246.00 150.67,245.07 152.00,244.60 C153.33,244.13 154.67,243.37 156.00,243.20 C157.33,243.03 158.58,243.22 160.00,243.60 C161.42,243.98 163.25,244.43 164.50,245.50 C165.75,246.57 167.25,248.33 167.50,250.00 C167.75,251.67 167.25,254.03 166.00,255.50 C164.75,256.97 162.33,258.18 160.00,258.80 C157.67,259.42 154.67,259.10 152.00,259.20 C149.33,259.30 146.50,259.60 144.00,259.40 C141.50,259.20 138.50,259.32 137.00,258.00 C135.50,256.68 134.92,253.50 135.00,251.50 Z" fill="#a8a8a8" stroke="#333" stroke-width="1.0"/>
<clipPath id="cb5"><path d="M135.00,251.50 C135.08,249.50 136.17,247.15 137.50,246.00 C138.83,244.85 141.25,244.60 143.00,244.60 C144.75,244.60 146.50,246.00 148.00,246.00 C149.50,246.00 150.67,245.07 152.00,244.60 C153.33,244.13 154.67,243.37 156.00,243.20 C157.33,243.03 158.58,243.22 160.00,243.60 C161.42,243.98 163.25,244.43 164.50,245.50 C165.75,246.57 167.25,248.33 167.50,250.00 C167.75,251.67 167.25,254.03 166.00,255.50 C164.75,256.97 162.33,258.18 160.00,258.80 C157.67,259.42 154.67,259.10 152.00,259.20 C149.33,259.30 146.50,259.60 144.00,259.40 C141.50,259.20 138.50,259.32 137.00,258.00 C135.50,256.68 134.92,253.50 135.00,251.50 Z"/></clipPath>
<g clip-path="url(#cb5)"><ellipse cx="135.74" cy="245.80" rx="1.38" ry="0.92" fill="none" stroke="#eee" stroke-width="0.5"/><ellipse cx="135.64" cy="243.81" rx="1.71" ry="1.14" fill="none" stroke="#ccc" stroke-width="0.5"/><ellipse cx="144.04" cy="251.53" rx="1.08" ry="0.72" fill="none" stroke="#333" stroke-width="0.5"/><ellipse cx="158.48" cy="259.37" rx="1.98" ry="1.32" fill="none" stroke="#222" stroke-width="0.5"/><ellipse cx="137.35" cy="256.88" rx="1.94" ry="1.29" fill="none" stroke="#eee" stroke-width="0.5"/><ellipse cx="139.37" cy="246.20" rx="1.87" ry="1.24" fill="none" stroke="#222" stroke-width="0.5"/><ellipse cx="155.48" cy="258.69" rx="1.28" ry="0.85" fill="none" stroke="#555" stroke-width="0.5"/><ellipse cx="162.77" cy="243.46" rx="1.78" ry="1.18" fill="none" stroke="#ccc" stroke-width="0.5"/><ellipse cx="156.73" cy="248.74" rx="1.00" ry="0.67" fill="none" stroke="#777" stroke-width="0.5"/><ellipse cx="160.48" cy="244.48" rx="2.00" ry="1.34" fill="none" stroke="#777" stroke-width="0.5"/><ellipse cx="166.61" cy="249.79" rx="2.59" ry="1.73" fill="none" stroke="#222" stroke-width="0.5"/><ellipse cx="135.82" cy="248.39" rx="2.08" ry="1.38" fill="none" stroke="#555" stroke-width="0.5"/><ellipse cx="136.79" cy="253.44" rx="2.20" ry="1.47" fill="none" stroke="#555" stroke-width="0.5"/><ellipse cx="140.01" cy="243.32" rx="1.28" ry="0.85" fill="none" stroke="#ccc" stroke-width="0.5"/><ellipse cx="159.55" cy="244.53" rx="2.37" ry="1.58" fill="none" stroke="#777" stroke-width="0.5"/><ellipse cx="146.01" cy="254.56" rx="2.46" ry="1.64" fill="none" stroke="#333" stroke-width="0.5"/><ellipse cx="156.04" cy="253.23" rx="1.50" ry="1.00" fill="none" stroke="#eee" stroke-width="0.5"/><ellipse cx="154.80" cy="256.83" rx="1.76" ry="1.17" fill="none" stroke="#222" stroke-width="0.5"/><ellipse cx="159.83" cy="248.26" rx="2.29" ry="1.53" fill="none" stroke="#eee" stroke-width="0.5"/><ellipse cx="149.50" cy="247.73" rx="1.84" ry="1.23" fill="none" stroke="#555" stroke-width="0.5"/><ellipse cx="139.22" cy="243.15" rx="1.76" ry="1.17" fill="none" stroke="#eee" stroke-width="0.5"/><ellipse cx="160.89" cy="259.61" rx="1.17" ry="0.78" fill="none" stroke="#eee" stroke-width="0.5"/><ellipse cx="142.30" cy="255.86" rx="1.06" ry="0.71" fill="none" stroke="#222" stroke-width="0.5"/><ellipse cx="154.99" cy="245.08" rx="1.88" ry="1.25" fill="none" stroke="#333" stroke-width="0.5"/><ellipse cx="152.77" cy="246.09" rx="2.59" ry="1.73" fill="none" stroke="#555" stroke-width="0.5"/><ellipse cx="158.60" cy="258.35" rx="2.47" ry="1.65" fill="none" stroke="#333" stroke-width="0.5"/><ellipse cx="151.91" cy="248.96" rx="2.18" ry="1.45" fill="none" stroke="#777" stroke-width="0.5"/><ellipse cx="166.43" cy="251.48" rx="2.05" ry="1.36" fill="none" stroke="#555" stroke-width="0.5"/><ellipse cx="163.83" cy="249.61" rx="1.28" ry="0.85" fill="none" stroke="#222" stroke-width="0.5"/><ellipse cx="138.45" cy="255.47" rx="1.02" ry="0.68" fill="none" stroke="#eee" stroke-width="0.5"/><ellipse cx="164.24" cy="254.46" rx="1.53" ry="1.02" fill="none" stroke="#333" stroke-width="0.5"/><ellipse cx="153.05" cy="249.97" rx="2.55" ry="1.70" fill="none" stroke="#eee" stroke-width="0.5"/><ellipse cx="155.07" cy="246.81" rx="1.35" ry="0.90" fill="none" stroke="#555" stroke-width="0.5"/><ellipse cx="157.70" cy="247.11" rx="1.54" ry="1.03" fill="none" stroke="#555" stroke-width="0.5"/><ellipse cx="159.29" cy="253.93" rx="1.44" ry="0.96" fill="none" stroke="#777" stroke-width="0.5"/><ellipse cx="141.93" cy="252.68" rx="1.18" ry="0.79" fill="none" stroke="#555" stroke-width="0.5"/><ellipse cx="165.54" cy="245.32" rx="1.44" ry="0.96" fill="none" stroke="#222" stroke-width="0.5"/><ellipse cx="145.61" cy="251.25" rx="2.50" ry="1.67" fill="none" stroke="#333" stroke-width="0.5"/><ellipse cx="145.23" cy="253.37" rx="2.62" ry="1.75" fill="none" stroke="#333" stroke-width="0.5"/><ellipse cx="153.54" cy="258.01" rx="1.28" ry="0.85" fill="none" stroke="#eee" stroke-width="0.5"/><ellipse cx="146.53" cy="256.26" rx="2.45" ry="1.64" fill="none" stroke="#333" stroke-width="0.5"/><ellipse cx="148.91" cy="245.38" rx="2.59" ry="1.72" fill="none" stroke="#eee" stroke-width="0.5"/><ellipse cx="135.78" cy="244.90" rx="2.65" ry="1.77" fill="none" stroke="#222" stroke-width="0.5"/><ellipse cx="139.27" cy="248.15" rx="1.80" ry="1.20" fill="none" stroke="#555" stroke-width="0.5"/><ellipse cx="138.12" cy="245.87" rx="2.13" ry="1.42" fill="none" stroke="#222" stroke-width="0.5"/><ellipse cx="148.25" cy="253.92" rx="2.10" ry="1.40" fill="none" stroke="#777" stroke-width="0.5"/><ellipse cx="163.22" cy="259.65" rx="0.96" ry="0.64" fill="none" stroke="#333" stroke-width="0.5"/><ellipse cx="141.44" cy="253.66" rx="0.93" ry="0.62" fill="none" stroke="#333" stroke-width="0.5"/><ellipse cx="151.15" cy="246.94" rx="1.67" ry="1.12" fill="none" stroke="#222" stroke-width="0.5"/><ellipse cx="158.31" cy="243.82" rx="2.51" ry="1.67" fill="none" stroke="#222" stroke-width="0.5"/><ellipse cx="163.11" cy="245.05" rx="1.78" ry="1.18" fill="none" stroke="#333" stroke-width="0.5"/><ellipse cx="151.81" cy="243.04" rx="1.30" ry="0.87" fill="none" stroke="#ccc" stroke-width="0.5"/><ellipse cx="139.73" cy="255.55" rx="1.80" ry="1.20" fill="none" stroke="#222" stroke-width="0.5"/><ellipse cx="151.96" cy="257.27" rx="2.62" ry="1.75" fill="none" stroke="#222" stroke-width="0.5"/><ellipse cx="146.18" cy="246.66" rx="2.64" ry="1.76" fill="none" stroke="#333" stroke-width="0.5"/><ellipse cx="158.40" cy="247.64" rx="1.22" ry="0.81" fill="none" stroke="#555" stroke-width="0.5"/><ellipse cx="143.61" cy="259.43" rx="1.25" ry="0.84" fill="none" stroke="#222" stroke-width="0.5"/><ellipse cx="148.06" cy="252.46" rx="1.55" ry="1.04" fill="none" stroke="#222" stroke-width="0.5"/><ellipse cx="145.42" cy="243.70" rx="1.72" ry="1.14" fill="none" stroke="#555" stroke-width="0.5"/><ellipse cx="152.56" cy="254.73" rx="2.67" ry="1.78" fill="none" stroke="#eee" stroke-width="0.5"/></g>
<ellipse cx="138.8" cy="250.8" rx="2.4" ry="3.2" fill="none" stroke="#222" stroke-width="0.7"/>
<ellipse cx="144.5" cy="251" rx="2.2" ry="2.6" fill="none" stroke="#222" stroke-width="0.7"/>
<ellipse cx="150" cy="252.5" rx="2.6" ry="2.4" fill="none" stroke="#222" stroke-width="0.7"/>
<ellipse cx="158.5" cy="248.5" rx="3.2" ry="2.6" fill="none" stroke="#222" stroke-width="0.7"/>
<ellipse cx="163.5" cy="251" rx="2.2" ry="2.8" fill="none" stroke="#222" stroke-width="0.7"/>
<ellipse cx="142.9" cy="256.6" rx="1.8" ry="1.3" fill="#111"/>
<ellipse cx="154.9" cy="257.4" rx="1.7" ry="1.3" fill="#111"/>
<ellipse cx="154.2" cy="249.0" rx="1.6" ry="1.2" fill="#222"/>
<path d="M146,254.5 Q150,256.5 156,254.5" stroke="#111" stroke-width="1.0" fill="none"/>
<path d="M159.00,226.50 C159.08,225.33 160.08,224.38 161.00,224.00 C161.92,223.62 163.73,223.62 164.50,224.20 C165.27,224.78 165.68,226.33 165.60,227.50 C165.52,228.67 164.85,230.62 164.00,231.20 C163.15,231.78 161.33,231.78 160.50,231.00 C159.67,230.22 158.92,227.67 159.00,226.50 Z" fill="#d8d8d8" stroke="#444" stroke-width="0.8"/>
<path d="M161.00,227.00 C161.15,226.37 162.00,225.63 162.50,225.60 C163.00,225.57 163.85,226.17 164.00,226.80 C164.15,227.43 163.80,228.97 163.40,229.40 C163.00,229.83 162.00,229.80 161.60,229.40 C161.20,229.00 160.85,227.63 161.00,227.00 Z" fill="none" stroke="#444" stroke-width="0.6"/>
<path d="M158.8,229.5 l-1,1.8" stroke="#555" stroke-width="0.6"/>
<circle cx="206.97" cy="250.38" r="0.3" fill="#999"/>
<circle cx="194.18" cy="250.80" r="0.3" fill="#999"/>
<circle cx="215.13" cy="250.13" r="0.3" fill="#999"/>
<circle cx="196.33" cy="250.61" r="0.3" fill="#999"/>
<circle cx="188.58" cy="262.97" r="0.3" fill="#999"/>
<circle cx="184.17" cy="254.76" r="0.3" fill="#999"/>
<circle cx="213.64" cy="247.35" r="0.3" fill="#999"/>
<circle cx="203.55" cy="249.92" r="0.3" fill="#999"/>
<circle cx="191.70" cy="246.17" r="0.3" fill="#999"/>
<circle cx="187.72" cy="259.70" r="0.3" fill="#999"/>
<circle cx="209.09" cy="261.08" r="0.3" fill="#999"/>
<circle cx="185.58" cy="256.58" r="0.3" fill="#999"/>
<circle cx="194.38" cy="255.57" r="0.3" fill="#999"/>
<circle cx="201.57" cy="248.63" r="0.3" fill="#999"/>
<circle cx="215.09" cy="242.02" r="0.3" fill="#999"/>
<circle cx="207.88" cy="259.92" r="0.3" fill="#999"/>
<circle cx="200.32" cy="254.44" r="0.3" fill="#999"/>
<circle cx="215.83" cy="246.92" r="0.3" fill="#999"/>
<circle cx="204.14" cy="257.61" r="0.3" fill="#999"/>
<circle cx="196.12" cy="256.96" r="0.3" fill="#999"/>
<circle cx="196.59" cy="253.05" r="0.3" fill="#999"/>
<circle cx="203.61" cy="256.22" r="0.3" fill="#999"/>
<circle cx="194.31" cy="255.21" r="0.3" fill="#999"/>
<circle cx="201.38" cy="246.69" r="0.3" fill="#999"/>
<circle cx="203.60" cy="247.56" r="0.3" fill="#999"/>
<circle cx="213.08" cy="251.94" r="0.3" fill="#999"/>
<circle cx="207.09" cy="252.96" r="0.3" fill="#999"/>
<circle cx="199.25" cy="246.65" r="0.3" fill="#999"/>
<circle cx="188.55" cy="261.47" r="0.3" fill="#999"/>
<circle cx="200.92" cy="253.00" r="0.3" fill="#999"/>
<circle cx="200.88" cy="259.08" r="0.3" fill="#999"/>
<circle cx="191.64" cy="245.62" r="0.3" fill="#999"/>
<circle cx="210.30" cy="251.67" r="0.3" fill="#999"/>
<circle cx="204.50" cy="259.38" r="0.3" fill="#999"/>
<circle cx="212.61" cy="260.22" r="0.3" fill="#999"/>
<circle cx="185.38" cy="250.01" r="0.3" fill="#999"/>
<circle cx="210.63" cy="259.17" r="0.3" fill="#999"/>
<circle cx="187.94" cy="245.23" r="0.3" fill="#999"/>
<circle cx="192.05" cy="244.16" r="0.3" fill="#999"/>
<circle cx="195.41" cy="258.87" r="0.3" fill="#999"/>
<path d="M185.60,246.00 C187.43,245.07 192.93,246.20 196.00,246.40 C199.07,246.60 202.08,246.97 204.00,247.20 C205.92,247.43 206.03,247.67 207.50,247.80 C208.97,247.93 211.90,246.60 212.80,248.00 C213.70,249.40 213.70,254.78 212.90,256.20 C212.10,257.62 210.48,256.30 208.00,256.50 C205.52,256.70 201.73,257.22 198.00,257.40 C194.27,257.58 187.77,258.50 185.60,257.60 C183.43,256.70 185.00,253.93 185.00,252.00 C185.00,250.07 183.77,246.93 185.60,246.00 Z" fill="none" stroke="#aaa" stroke-width="2.6"/>
<circle cx="184.31" cy="256.25" r="0.35" fill="#777"/>
<circle cx="214.44" cy="251.21" r="0.35" fill="#777"/>
<circle cx="199.61" cy="245.84" r="0.35" fill="#777"/>
<circle cx="207.09" cy="247.42" r="0.35" fill="#777"/>
<circle cx="206.08" cy="246.85" r="0.35" fill="#777"/>
<circle cx="211.73" cy="247.63" r="0.35" fill="#777"/>
<circle cx="206.24" cy="257.40" r="0.35" fill="#777"/>
<circle cx="191.22" cy="246.02" r="0.35" fill="#777"/>
<circle cx="205.88" cy="246.78" r="0.35" fill="#777"/>
<circle cx="212.25" cy="256.51" r="0.35" fill="#777"/>
<circle cx="196.40" cy="258.45" r="0.35" fill="#777"/>
<circle cx="197.31" cy="245.77" r="0.35" fill="#777"/>
<circle cx="213.64" cy="253.16" r="0.35" fill="#777"/>
<circle cx="192.45" cy="245.79" r="0.35" fill="#777"/>
<circle cx="192.48" cy="245.86" r="0.35" fill="#777"/>
<circle cx="204.36" cy="257.75" r="0.35" fill="#777"/>
<circle cx="213.64" cy="250.85" r="0.35" fill="#777"/>
<circle cx="183.97" cy="251.20" r="0.35" fill="#777"/>
<circle cx="184.07" cy="249.62" r="0.35" fill="#777"/>
<circle cx="209.04" cy="256.65" r="0.35" fill="#777"/>
<circle cx="192.58" cy="258.16" r="0.35" fill="#777"/>
<circle cx="185.37" cy="258.06" r="0.35" fill="#777"/>
<circle cx="185.77" cy="245.64" r="0.35" fill="#777"/>
<circle cx="188.56" cy="257.98" r="0.35" fill="#777"/>
<circle cx="195.61" cy="257.76" r="0.35" fill="#777"/>
<circle cx="203.62" cy="257.75" r="0.35" fill="#777"/>
<circle cx="191.56" cy="245.51" r="0.35" fill="#777"/>
<circle cx="203.31" cy="258.30" r="0.35" fill="#777"/>
<circle cx="214.15" cy="252.64" r="0.35" fill="#777"/>
<circle cx="196.27" cy="257.95" r="0.35" fill="#777"/>
<circle cx="200.64" cy="246.54" r="0.35" fill="#777"/>
<circle cx="196.38" cy="258.59" r="0.35" fill="#777"/>
<circle cx="183.92" cy="249.06" r="0.35" fill="#777"/>
<circle cx="212.16" cy="247.67" r="0.35" fill="#777"/>
<circle cx="190.25" cy="245.53" r="0.35" fill="#777"/>
<circle cx="184.26" cy="251.14" r="0.35" fill="#777"/>
<circle cx="194.33" cy="245.99" r="0.35" fill="#777"/>
<circle cx="213.44" cy="256.82" r="0.35" fill="#777"/>
<circle cx="208.06" cy="247.51" r="0.35" fill="#777"/>
<circle cx="213.59" cy="248.55" r="0.35" fill="#777"/>
<circle cx="213.82" cy="252.63" r="0.35" fill="#777"/>
<circle cx="201.39" cy="257.78" r="0.35" fill="#777"/>
<circle cx="213.39" cy="247.61" r="0.35" fill="#777"/>
<circle cx="184.91" cy="256.34" r="0.35" fill="#777"/>
<circle cx="186.72" cy="245.60" r="0.35" fill="#777"/>
<circle cx="188.82" cy="258.18" r="0.35" fill="#777"/>
<circle cx="206.37" cy="246.64" r="0.35" fill="#777"/>
<circle cx="211.07" cy="247.49" r="0.35" fill="#777"/>
<circle cx="192.94" cy="246.09" r="0.35" fill="#777"/>
<circle cx="199.21" cy="245.69" r="0.35" fill="#777"/>
<circle cx="213.28" cy="256.41" r="0.35" fill="#777"/>
<circle cx="193.58" cy="258.38" r="0.35" fill="#777"/>
<circle cx="184.56" cy="248.15" r="0.35" fill="#777"/>
<circle cx="195.15" cy="257.91" r="0.35" fill="#777"/>
<circle cx="206.45" cy="246.83" r="0.35" fill="#777"/>
<circle cx="185.70" cy="245.48" r="0.35" fill="#777"/>
<circle cx="184.98" cy="248.96" r="0.35" fill="#777"/>
<circle cx="184.65" cy="253.54" r="0.35" fill="#777"/>
<circle cx="212.20" cy="247.59" r="0.35" fill="#777"/>
<circle cx="213.85" cy="254.80" r="0.35" fill="#777"/>
<circle cx="205.65" cy="246.32" r="0.35" fill="#777"/>
<circle cx="211.09" cy="247.61" r="0.35" fill="#777"/>
<circle cx="213.13" cy="247.52" r="0.35" fill="#777"/>
<circle cx="206.82" cy="257.59" r="0.35" fill="#777"/>
<circle cx="189.06" cy="257.80" r="0.35" fill="#777"/>
<circle cx="194.90" cy="246.01" r="0.35" fill="#777"/>
<circle cx="207.53" cy="247.39" r="0.35" fill="#777"/>
<circle cx="213.42" cy="247.61" r="0.35" fill="#777"/>
<circle cx="184.47" cy="253.67" r="0.35" fill="#777"/>
<circle cx="214.22" cy="250.57" r="0.35" fill="#777"/>
<path d="M185.60,246.00 C187.43,245.07 192.93,246.20 196.00,246.40 C199.07,246.60 202.08,246.97 204.00,247.20 C205.92,247.43 206.03,247.67 207.50,247.80 C208.97,247.93 211.90,246.60 212.80,248.00 C213.70,249.40 213.70,254.78 212.90,256.20 C212.10,257.62 210.48,256.30 208.00,256.50 C205.52,256.70 201.73,257.22 198.00,257.40 C194.27,257.58 187.77,258.50 185.60,257.60 C183.43,256.70 185.00,253.93 185.00,252.00 C185.00,250.07 183.77,246.93 185.60,246.00 Z" fill="#c6c6c6" stroke="#2a2a2a" stroke-width="1.1"/>
<path d="M187.06,246.84 C188.63,246.04 193.36,247.01 196.00,247.18 C198.64,247.36 201.23,247.67 202.88,247.87 C204.53,248.07 204.63,248.27 205.89,248.39 C207.15,248.50 209.67,247.36 210.45,248.56 C211.22,249.76 211.22,254.39 210.53,255.61 C209.85,256.83 208.46,255.70 206.32,255.87 C204.18,256.04 200.93,256.49 197.72,256.64 C194.51,256.80 188.92,257.59 187.06,256.82 C185.19,256.04 186.54,253.66 186.54,252.00 C186.54,250.34 185.48,247.64 187.06,246.84 Z" fill="none" stroke="#888" stroke-width="0.6"/>
<path d="M188.62,247.74 C189.92,247.08 193.82,247.88 196.00,248.02 C198.18,248.17 200.32,248.43 201.68,248.59 C203.04,248.76 203.12,248.92 204.16,249.02 C205.21,249.11 207.29,248.17 207.93,249.16 C208.57,250.15 208.57,253.98 208.00,254.98 C207.43,255.99 206.28,255.05 204.52,255.19 C202.76,255.34 200.07,255.70 197.42,255.83 C194.77,255.96 190.15,256.62 188.62,255.98 C187.08,255.34 188.19,253.37 188.19,252.00 C188.19,250.63 187.31,248.40 188.62,247.74 Z" fill="none" stroke="#999" stroke-width="0.6"/>
<clipPath id="cb6"><path d="M185.60,246.00 C187.43,245.07 192.93,246.20 196.00,246.40 C199.07,246.60 202.08,246.97 204.00,247.20 C205.92,247.43 206.03,247.67 207.50,247.80 C208.97,247.93 211.90,246.60 212.80,248.00 C213.70,249.40 213.70,254.78 212.90,256.20 C212.10,257.62 210.48,256.30 208.00,256.50 C205.52,256.70 201.73,257.22 198.00,257.40 C194.27,257.58 187.77,258.50 185.60,257.60 C183.43,256.70 185.00,253.93 185.00,252.00 C185.00,250.07 183.77,246.93 185.60,246.00 Z"/></clipPath>
<g clip-path="url(#cb6)"><ellipse cx="189.19" cy="254.79" rx="2.37" ry="1.58" fill="none" stroke="#aaa" stroke-width="0.5"/><ellipse cx="206.46" cy="249.60" rx="1.01" ry="0.67" fill="none" stroke="#aaa" stroke-width="0.5"/><ellipse cx="190.69" cy="252.00" rx="0.90" ry="0.60" fill="none" stroke="#aaa" stroke-width="0.5"/><ellipse cx="189.13" cy="248.02" rx="1.30" ry="0.87" fill="none" stroke="#aaa" stroke-width="0.5"/><ellipse cx="188.40" cy="255.11" rx="0.95" ry="0.63" fill="none" stroke="#888" stroke-width="0.5"/><ellipse cx="206.92" cy="256.33" rx="1.62" ry="1.08" fill="none" stroke="#aaa" stroke-width="0.5"/><ellipse cx="196.29" cy="246.20" rx="2.04" ry="1.36" fill="none" stroke="#888" stroke-width="0.5"/><ellipse cx="190.21" cy="249.08" rx="1.25" ry="0.83" fill="none" stroke="#eee" stroke-width="0.5"/><ellipse cx="197.36" cy="246.97" rx="0.98" ry="0.65" fill="none" stroke="#aaa" stroke-width="0.5"/><ellipse cx="202.12" cy="254.42" rx="2.24" ry="1.49" fill="none" stroke="#eee" stroke-width="0.5"/><ellipse cx="205.42" cy="246.36" rx="1.74" ry="1.16" fill="none" stroke="#888" stroke-width="0.5"/><ellipse cx="193.23" cy="256.39" rx="1.83" ry="1.22" fill="none" stroke="#888" stroke-width="0.5"/><ellipse cx="189.61" cy="249.85" rx="1.54" ry="1.03" fill="none" stroke="#aaa" stroke-width="0.5"/><ellipse cx="201.59" cy="247.97" rx="2.05" ry="1.37" fill="none" stroke="#aaa" stroke-width="0.5"/><ellipse cx="202.99" cy="253.96" rx="1.50" ry="1.00" fill="none" stroke="#eee" stroke-width="0.5"/><ellipse cx="197.58" cy="254.67" rx="1.73" ry="1.16" fill="none" stroke="#aaa" stroke-width="0.5"/><ellipse cx="186.75" cy="246.44" rx="1.71" ry="1.14" fill="none" stroke="#aaa" stroke-width="0.5"/><ellipse cx="199.58" cy="247.45" rx="1.70" ry="1.14" fill="none" stroke="#aaa" stroke-width="0.5"/><ellipse cx="187.60" cy="254.00" rx="1.96" ry="1.31" fill="none" stroke="#aaa" stroke-width="0.5"/><ellipse cx="189.56" cy="256.36" rx="1.30" ry="0.86" fill="none" stroke="#eee" stroke-width="0.5"/></g>
<path d="M208.2,249.0 L212.0,249.0 L212.0,255.4 L208.2,255.6 Z" fill="#f6f6f6" stroke="none" stroke-width="1"/>
<path d="M186.3,246.5 L186.3,257.2" stroke="#111" stroke-width="2.2"/>
<ellipse cx="188.6" cy="253" rx="1.2" ry="1.0" fill="#555"/>
<path d="M209.8,232 Q210.5,229.6 212.2,229.8" stroke="#555" stroke-width="0.7" fill="none"/>
</svg>
</body></html>
